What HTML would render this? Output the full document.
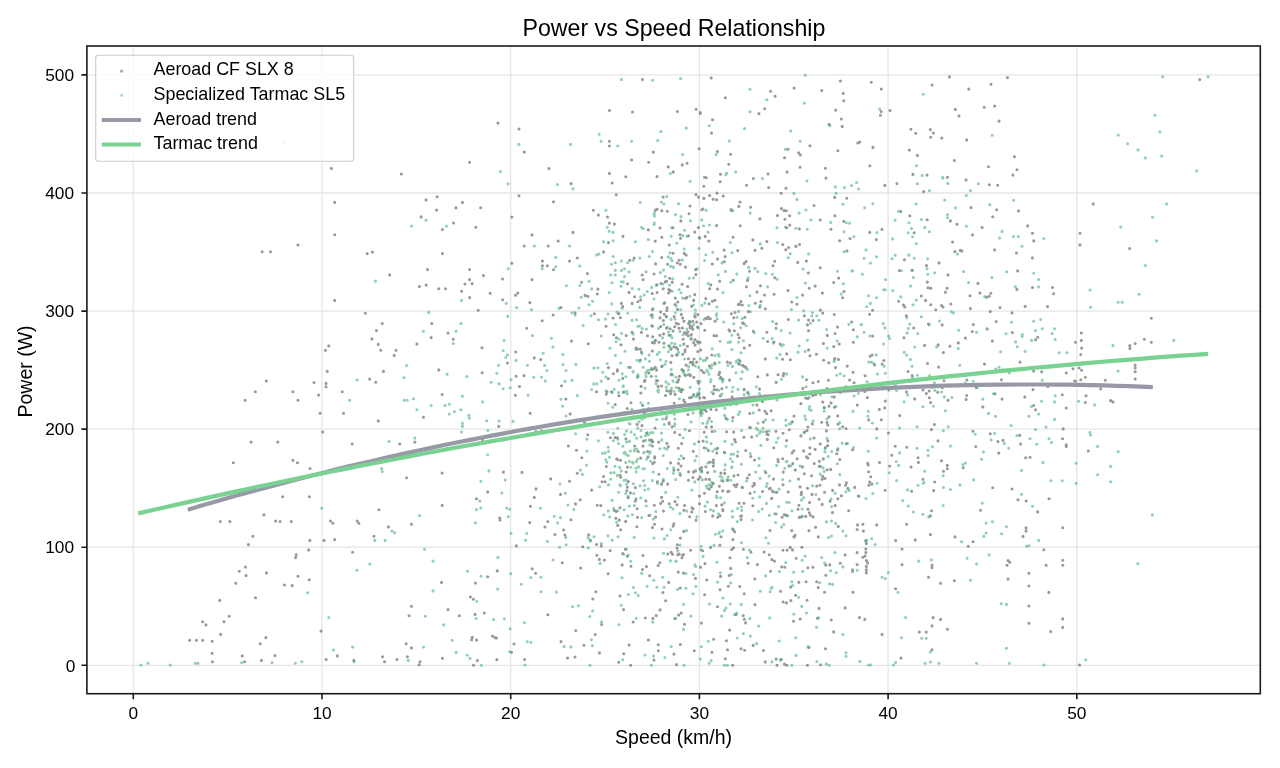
<!DOCTYPE html><html><head><meta charset="utf-8"><style>html,body{margin:0;padding:0;background:#fff;width:1280px;height:768px;overflow:hidden}svg{display:block;will-change:transform}text{font-family:"Liberation Sans",sans-serif;fill:#000}</style></head><body><svg width="1280" height="768" viewBox="0 0 1280 768"><defs><filter id="bl" x="0" y="0" width="1280" height="768" filterUnits="userSpaceOnUse"><feGaussianBlur stdDeviation="0.45"/></filter></defs><path d="M133.3 46.0V693.7M322.0 46.0V693.7M510.7 46.0V693.7M699.4 46.0V693.7M888.1 46.0V693.7M1076.8 46.0V693.7M86.9 665.3H1260.3M86.9 547.2H1260.3M86.9 429.1H1260.3M86.9 311.1H1260.3M86.9 193.0H1260.3M86.9 74.9H1260.3" stroke="#e6e6e6" stroke-width="1.3" fill="none"/><path d="M329.8 168.4a1.55 1.55 0 1 0 3.1 0a1.55 1.55 0 1 0 -3.1 0M399.8 174.0a1.55 1.55 0 1 0 3.1 0a1.55 1.55 0 1 0 -3.1 0M333.2 202.4a1.55 1.55 0 1 0 3.1 0a1.55 1.55 0 1 0 -3.1 0M424.5 199.9a1.55 1.55 0 1 0 3.1 0a1.55 1.55 0 1 0 -3.1 0M435.6 196.8a1.55 1.55 0 1 0 3.1 0a1.55 1.55 0 1 0 -3.1 0M435.0 210.1a1.55 1.55 0 1 0 3.1 0a1.55 1.55 0 1 0 -3.1 0M454.4 207.9a1.55 1.55 0 1 0 3.1 0a1.55 1.55 0 1 0 -3.1 0M460.9 202.4a1.55 1.55 0 1 0 3.1 0a1.55 1.55 0 1 0 -3.1 0M419.6 216.9a1.55 1.55 0 1 0 3.1 0a1.55 1.55 0 1 0 -3.1 0M452.0 223.0a1.55 1.55 0 1 0 3.1 0a1.55 1.55 0 1 0 -3.1 0M440.9 229.5a1.55 1.55 0 1 0 3.1 0a1.55 1.55 0 1 0 -3.1 0M333.2 234.8a1.55 1.55 0 1 0 3.1 0a1.55 1.55 0 1 0 -3.1 0M260.6 251.7a1.55 1.55 0 1 0 3.1 0a1.55 1.55 0 1 0 -3.1 0M269.0 251.7a1.55 1.55 0 1 0 3.1 0a1.55 1.55 0 1 0 -3.1 0M296.4 245.0a1.55 1.55 0 1 0 3.1 0a1.55 1.55 0 1 0 -3.1 0M365.6 253.6a1.55 1.55 0 1 0 3.1 0a1.55 1.55 0 1 0 -3.1 0M370.8 252.1a1.55 1.55 0 1 0 3.1 0a1.55 1.55 0 1 0 -3.1 0M440.9 253.6a1.55 1.55 0 1 0 3.1 0a1.55 1.55 0 1 0 -3.1 0M426.0 269.6a1.55 1.55 0 1 0 3.1 0a1.55 1.55 0 1 0 -3.1 0M388.1 274.9a1.55 1.55 0 1 0 3.1 0a1.55 1.55 0 1 0 -3.1 0M333.1 300.4a1.55 1.55 0 1 0 3.1 0a1.55 1.55 0 1 0 -3.1 0M417.9 286.6a1.55 1.55 0 1 0 3.1 0a1.55 1.55 0 1 0 -3.1 0M424.6 285.1a1.55 1.55 0 1 0 3.1 0a1.55 1.55 0 1 0 -3.1 0M437.2 288.8a1.55 1.55 0 1 0 3.1 0a1.55 1.55 0 1 0 -3.1 0M444.0 288.8a1.55 1.55 0 1 0 3.1 0a1.55 1.55 0 1 0 -3.1 0M460.0 291.2a1.55 1.55 0 1 0 3.1 0a1.55 1.55 0 1 0 -3.1 0M363.8 313.3a1.55 1.55 0 1 0 3.1 0a1.55 1.55 0 1 0 -3.1 0M380.7 323.5a1.55 1.55 0 1 0 3.1 0a1.55 1.55 0 1 0 -3.1 0M374.9 330.6a1.55 1.55 0 1 0 3.1 0a1.55 1.55 0 1 0 -3.1 0M370.3 338.9a1.55 1.55 0 1 0 3.1 0a1.55 1.55 0 1 0 -3.1 0M376.7 344.4a1.55 1.55 0 1 0 3.1 0a1.55 1.55 0 1 0 -3.1 0M379.2 350.2a1.55 1.55 0 1 0 3.1 0a1.55 1.55 0 1 0 -3.1 0M415.4 344.1a1.55 1.55 0 1 0 3.1 0a1.55 1.55 0 1 0 -3.1 0M430.2 323.5a1.55 1.55 0 1 0 3.1 0a1.55 1.55 0 1 0 -3.1 0M429.6 337.6a1.55 1.55 0 1 0 3.1 0a1.55 1.55 0 1 0 -3.1 0M446.5 333.0a1.55 1.55 0 1 0 3.1 0a1.55 1.55 0 1 0 -3.1 0M451.7 339.2a1.55 1.55 0 1 0 3.1 0a1.55 1.55 0 1 0 -3.1 0M323.8 350.2a1.55 1.55 0 1 0 3.1 0a1.55 1.55 0 1 0 -3.1 0M327.2 345.9a1.55 1.55 0 1 0 3.1 0a1.55 1.55 0 1 0 -3.1 0M394.5 350.2a1.55 1.55 0 1 0 3.1 0a1.55 1.55 0 1 0 -3.1 0M392.7 355.4a1.55 1.55 0 1 0 3.1 0a1.55 1.55 0 1 0 -3.1 0M325.7 371.4a1.55 1.55 0 1 0 3.1 0a1.55 1.55 0 1 0 -3.1 0M381.9 371.4a1.55 1.55 0 1 0 3.1 0a1.55 1.55 0 1 0 -3.1 0M264.8 381.0a1.55 1.55 0 1 0 3.1 0a1.55 1.55 0 1 0 -3.1 0M253.8 391.7a1.55 1.55 0 1 0 3.1 0a1.55 1.55 0 1 0 -3.1 0M243.6 400.3a1.55 1.55 0 1 0 3.1 0a1.55 1.55 0 1 0 -3.1 0M291.3 391.7a1.55 1.55 0 1 0 3.1 0a1.55 1.55 0 1 0 -3.1 0M296.5 400.3a1.55 1.55 0 1 0 3.1 0a1.55 1.55 0 1 0 -3.1 0M312.5 382.5a1.55 1.55 0 1 0 3.1 0a1.55 1.55 0 1 0 -3.1 0M324.5 383.4a1.55 1.55 0 1 0 3.1 0a1.55 1.55 0 1 0 -3.1 0M324.5 386.8a1.55 1.55 0 1 0 3.1 0a1.55 1.55 0 1 0 -3.1 0M317.1 395.1a1.55 1.55 0 1 0 3.1 0a1.55 1.55 0 1 0 -3.1 0M340.7 391.7a1.55 1.55 0 1 0 3.1 0a1.55 1.55 0 1 0 -3.1 0M368.1 379.1a1.55 1.55 0 1 0 3.1 0a1.55 1.55 0 1 0 -3.1 0M374.2 382.2a1.55 1.55 0 1 0 3.1 0a1.55 1.55 0 1 0 -3.1 0M437.2 369.9a1.55 1.55 0 1 0 3.1 0a1.55 1.55 0 1 0 -3.1 0M440.6 394.5a1.55 1.55 0 1 0 3.1 0a1.55 1.55 0 1 0 -3.1 0M342.0 413.2a1.55 1.55 0 1 0 3.1 0a1.55 1.55 0 1 0 -3.1 0M318.6 413.2a1.55 1.55 0 1 0 3.1 0a1.55 1.55 0 1 0 -3.1 0M376.7 420.9a1.55 1.55 0 1 0 3.1 0a1.55 1.55 0 1 0 -3.1 0M421.9 417.2a1.55 1.55 0 1 0 3.1 0a1.55 1.55 0 1 0 -3.1 0M321.1 432.0a1.55 1.55 0 1 0 3.1 0a1.55 1.55 0 1 0 -3.1 0M249.5 442.1a1.55 1.55 0 1 0 3.1 0a1.55 1.55 0 1 0 -3.1 0M276.2 442.1a1.55 1.55 0 1 0 3.1 0a1.55 1.55 0 1 0 -3.1 0M350.6 444.0a1.55 1.55 0 1 0 3.1 0a1.55 1.55 0 1 0 -3.1 0M398.2 444.0a1.55 1.55 0 1 0 3.1 0a1.55 1.55 0 1 0 -3.1 0M413.3 442.1a1.55 1.55 0 1 0 3.1 0a1.55 1.55 0 1 0 -3.1 0M231.7 462.7a1.55 1.55 0 1 0 3.1 0a1.55 1.55 0 1 0 -3.1 0M291.3 460.2a1.55 1.55 0 1 0 3.1 0a1.55 1.55 0 1 0 -3.1 0M295.9 462.7a1.55 1.55 0 1 0 3.1 0a1.55 1.55 0 1 0 -3.1 0M308.5 468.5a1.55 1.55 0 1 0 3.1 0a1.55 1.55 0 1 0 -3.1 0M405.0 477.8a1.55 1.55 0 1 0 3.1 0a1.55 1.55 0 1 0 -3.1 0M440.6 473.1a1.55 1.55 0 1 0 3.1 0a1.55 1.55 0 1 0 -3.1 0M281.1 496.8a1.55 1.55 0 1 0 3.1 0a1.55 1.55 0 1 0 -3.1 0M307.9 496.8a1.55 1.55 0 1 0 3.1 0a1.55 1.55 0 1 0 -3.1 0M262.4 514.9a1.55 1.55 0 1 0 3.1 0a1.55 1.55 0 1 0 -3.1 0M377.3 509.7a1.55 1.55 0 1 0 3.1 0a1.55 1.55 0 1 0 -3.1 0M440.6 505.4a1.55 1.55 0 1 0 3.1 0a1.55 1.55 0 1 0 -3.1 0M218.8 521.5a1.55 1.55 0 1 0 3.1 0a1.55 1.55 0 1 0 -3.1 0M228.3 521.5a1.55 1.55 0 1 0 3.1 0a1.55 1.55 0 1 0 -3.1 0M274.1 521.0a1.55 1.55 0 1 0 3.1 0a1.55 1.55 0 1 0 -3.1 0M278.5 521.5a1.55 1.55 0 1 0 3.1 0a1.55 1.55 0 1 0 -3.1 0M289.7 521.5a1.55 1.55 0 1 0 3.1 0a1.55 1.55 0 1 0 -3.1 0M329.0 521.0a1.55 1.55 0 1 0 3.1 0a1.55 1.55 0 1 0 -3.1 0M331.3 523.3a1.55 1.55 0 1 0 3.1 0a1.55 1.55 0 1 0 -3.1 0M355.6 521.0a1.55 1.55 0 1 0 3.1 0a1.55 1.55 0 1 0 -3.1 0M357.3 523.3a1.55 1.55 0 1 0 3.1 0a1.55 1.55 0 1 0 -3.1 0M386.9 526.9a1.55 1.55 0 1 0 3.1 0a1.55 1.55 0 1 0 -3.1 0M409.9 524.2a1.55 1.55 0 1 0 3.1 0a1.55 1.55 0 1 0 -3.1 0M251.3 536.3a1.55 1.55 0 1 0 3.1 0a1.55 1.55 0 1 0 -3.1 0M246.9 544.6a1.55 1.55 0 1 0 3.1 0a1.55 1.55 0 1 0 -3.1 0M308.3 540.4a1.55 1.55 0 1 0 3.1 0a1.55 1.55 0 1 0 -3.1 0M322.5 540.4a1.55 1.55 0 1 0 3.1 0a1.55 1.55 0 1 0 -3.1 0M333.1 539.6a1.55 1.55 0 1 0 3.1 0a1.55 1.55 0 1 0 -3.1 0M372.4 536.3a1.55 1.55 0 1 0 3.1 0a1.55 1.55 0 1 0 -3.1 0M307.1 549.9a1.55 1.55 0 1 0 3.1 0a1.55 1.55 0 1 0 -3.1 0M294.7 554.9a1.55 1.55 0 1 0 3.1 0a1.55 1.55 0 1 0 -3.1 0M294.1 557.6a1.55 1.55 0 1 0 3.1 0a1.55 1.55 0 1 0 -3.1 0M351.1 552.3a1.55 1.55 0 1 0 3.1 0a1.55 1.55 0 1 0 -3.1 0M237.7 571.2a1.55 1.55 0 1 0 3.1 0a1.55 1.55 0 1 0 -3.1 0M243.9 567.0a1.55 1.55 0 1 0 3.1 0a1.55 1.55 0 1 0 -3.1 0M244.5 575.6a1.55 1.55 0 1 0 3.1 0a1.55 1.55 0 1 0 -3.1 0M264.9 572.9a1.55 1.55 0 1 0 3.1 0a1.55 1.55 0 1 0 -3.1 0M296.5 576.2a1.55 1.55 0 1 0 3.1 0a1.55 1.55 0 1 0 -3.1 0M307.7 579.7a1.55 1.55 0 1 0 3.1 0a1.55 1.55 0 1 0 -3.1 0M234.2 583.3a1.55 1.55 0 1 0 3.1 0a1.55 1.55 0 1 0 -3.1 0M282.9 585.0a1.55 1.55 0 1 0 3.1 0a1.55 1.55 0 1 0 -3.1 0M290.6 585.6a1.55 1.55 0 1 0 3.1 0a1.55 1.55 0 1 0 -3.1 0M440.0 582.4a1.55 1.55 0 1 0 3.1 0a1.55 1.55 0 1 0 -3.1 0M218.2 600.4a1.55 1.55 0 1 0 3.1 0a1.55 1.55 0 1 0 -3.1 0M254.0 597.7a1.55 1.55 0 1 0 3.1 0a1.55 1.55 0 1 0 -3.1 0M409.9 606.3a1.55 1.55 0 1 0 3.1 0a1.55 1.55 0 1 0 -3.1 0M446.5 609.6a1.55 1.55 0 1 0 3.1 0a1.55 1.55 0 1 0 -3.1 0M457.8 615.8a1.55 1.55 0 1 0 3.1 0a1.55 1.55 0 1 0 -3.1 0M227.7 616.3a1.55 1.55 0 1 0 3.1 0a1.55 1.55 0 1 0 -3.1 0M222.4 621.7a1.55 1.55 0 1 0 3.1 0a1.55 1.55 0 1 0 -3.1 0M201.1 621.7a1.55 1.55 0 1 0 3.1 0a1.55 1.55 0 1 0 -3.1 0M204.4 624.9a1.55 1.55 0 1 0 3.1 0a1.55 1.55 0 1 0 -3.1 0M407.5 615.8a1.55 1.55 0 1 0 3.1 0a1.55 1.55 0 1 0 -3.1 0M319.5 631.1a1.55 1.55 0 1 0 3.1 0a1.55 1.55 0 1 0 -3.1 0M219.1 634.4a1.55 1.55 0 1 0 3.1 0a1.55 1.55 0 1 0 -3.1 0M188.1 640.3a1.55 1.55 0 1 0 3.1 0a1.55 1.55 0 1 0 -3.1 0M194.9 640.3a1.55 1.55 0 1 0 3.1 0a1.55 1.55 0 1 0 -3.1 0M201.1 640.3a1.55 1.55 0 1 0 3.1 0a1.55 1.55 0 1 0 -3.1 0M210.6 641.2a1.55 1.55 0 1 0 3.1 0a1.55 1.55 0 1 0 -3.1 0M264.3 637.6a1.55 1.55 0 1 0 3.1 0a1.55 1.55 0 1 0 -3.1 0M258.7 643.8a1.55 1.55 0 1 0 3.1 0a1.55 1.55 0 1 0 -3.1 0M404.6 643.8a1.55 1.55 0 1 0 3.1 0a1.55 1.55 0 1 0 -3.1 0M409.9 647.9a1.55 1.55 0 1 0 3.1 0a1.55 1.55 0 1 0 -3.1 0M210.6 653.3a1.55 1.55 0 1 0 3.1 0a1.55 1.55 0 1 0 -3.1 0M240.7 655.9a1.55 1.55 0 1 0 3.1 0a1.55 1.55 0 1 0 -3.1 0M273.5 655.6a1.55 1.55 0 1 0 3.1 0a1.55 1.55 0 1 0 -3.1 0M335.8 655.9a1.55 1.55 0 1 0 3.1 0a1.55 1.55 0 1 0 -3.1 0M381.0 656.8a1.55 1.55 0 1 0 3.1 0a1.55 1.55 0 1 0 -3.1 0M405.8 656.8a1.55 1.55 0 1 0 3.1 0a1.55 1.55 0 1 0 -3.1 0M324.6 659.5a1.55 1.55 0 1 0 3.1 0a1.55 1.55 0 1 0 -3.1 0M259.9 660.4a1.55 1.55 0 1 0 3.1 0a1.55 1.55 0 1 0 -3.1 0M210.9 661.8a1.55 1.55 0 1 0 3.1 0a1.55 1.55 0 1 0 -3.1 0M243.0 661.8a1.55 1.55 0 1 0 3.1 0a1.55 1.55 0 1 0 -3.1 0M383.0 661.8a1.55 1.55 0 1 0 3.1 0a1.55 1.55 0 1 0 -3.1 0M395.4 659.5a1.55 1.55 0 1 0 3.1 0a1.55 1.55 0 1 0 -3.1 0M352.3 660.4a1.55 1.55 0 1 0 3.1 0a1.55 1.55 0 1 0 -3.1 0M418.5 661.8a1.55 1.55 0 1 0 3.1 0a1.55 1.55 0 1 0 -3.1 0M417.6 664.8a1.55 1.55 0 1 0 3.1 0a1.55 1.55 0 1 0 -3.1 0M440.9 658.3a1.55 1.55 0 1 0 3.1 0a1.55 1.55 0 1 0 -3.1 0M640.9 79.6a1.55 1.55 0 1 0 3.1 0a1.55 1.55 0 1 0 -3.1 0M607.9 110.5a1.55 1.55 0 1 0 3.1 0a1.55 1.55 0 1 0 -3.1 0M631.0 112.0a1.55 1.55 0 1 0 3.1 0a1.55 1.55 0 1 0 -3.1 0M496.4 123.1a1.55 1.55 0 1 0 3.1 0a1.55 1.55 0 1 0 -3.1 0M517.4 129.0a1.55 1.55 0 1 0 3.1 0a1.55 1.55 0 1 0 -3.1 0M607.9 141.3a1.55 1.55 0 1 0 3.1 0a1.55 1.55 0 1 0 -3.1 0M607.9 146.0a1.55 1.55 0 1 0 3.1 0a1.55 1.55 0 1 0 -3.1 0M522.7 152.1a1.55 1.55 0 1 0 3.1 0a1.55 1.55 0 1 0 -3.1 0M630.1 159.9a1.55 1.55 0 1 0 3.1 0a1.55 1.55 0 1 0 -3.1 0M647.1 162.3a1.55 1.55 0 1 0 3.1 0a1.55 1.55 0 1 0 -3.1 0M468.0 162.3a1.55 1.55 0 1 0 3.1 0a1.55 1.55 0 1 0 -3.1 0M547.4 168.5a1.55 1.55 0 1 0 3.1 0a1.55 1.55 0 1 0 -3.1 0M607.9 173.4a1.55 1.55 0 1 0 3.1 0a1.55 1.55 0 1 0 -3.1 0M624.2 176.8a1.55 1.55 0 1 0 3.1 0a1.55 1.55 0 1 0 -3.1 0M610.6 183.0a1.55 1.55 0 1 0 3.1 0a1.55 1.55 0 1 0 -3.1 0M569.6 183.6a1.55 1.55 0 1 0 3.1 0a1.55 1.55 0 1 0 -3.1 0M517.4 195.7a1.55 1.55 0 1 0 3.1 0a1.55 1.55 0 1 0 -3.1 0M614.7 194.7a1.55 1.55 0 1 0 3.1 0a1.55 1.55 0 1 0 -3.1 0M552.0 201.8a1.55 1.55 0 1 0 3.1 0a1.55 1.55 0 1 0 -3.1 0M479.1 207.7a1.55 1.55 0 1 0 3.1 0a1.55 1.55 0 1 0 -3.1 0M591.8 210.2a1.55 1.55 0 1 0 3.1 0a1.55 1.55 0 1 0 -3.1 0M596.8 215.1a1.55 1.55 0 1 0 3.1 0a1.55 1.55 0 1 0 -3.1 0M606.0 217.0a1.55 1.55 0 1 0 3.1 0a1.55 1.55 0 1 0 -3.1 0M510.3 217.0a1.55 1.55 0 1 0 3.1 0a1.55 1.55 0 1 0 -3.1 0M607.9 223.1a1.55 1.55 0 1 0 3.1 0a1.55 1.55 0 1 0 -3.1 0M612.8 224.1a1.55 1.55 0 1 0 3.1 0a1.55 1.55 0 1 0 -3.1 0M474.2 227.2a1.55 1.55 0 1 0 3.1 0a1.55 1.55 0 1 0 -3.1 0M646.8 229.9a1.55 1.55 0 1 0 3.1 0a1.55 1.55 0 1 0 -3.1 0M530.4 234.9a1.55 1.55 0 1 0 3.1 0a1.55 1.55 0 1 0 -3.1 0M571.4 232.4a1.55 1.55 0 1 0 3.1 0a1.55 1.55 0 1 0 -3.1 0M556.6 241.0a1.55 1.55 0 1 0 3.1 0a1.55 1.55 0 1 0 -3.1 0M621.4 236.4a1.55 1.55 0 1 0 3.1 0a1.55 1.55 0 1 0 -3.1 0M522.7 246.0a1.55 1.55 0 1 0 3.1 0a1.55 1.55 0 1 0 -3.1 0M546.7 246.0a1.55 1.55 0 1 0 3.1 0a1.55 1.55 0 1 0 -3.1 0M606.9 242.6a1.55 1.55 0 1 0 3.1 0a1.55 1.55 0 1 0 -3.1 0M602.0 251.9a1.55 1.55 0 1 0 3.1 0a1.55 1.55 0 1 0 -3.1 0M575.8 258.0a1.55 1.55 0 1 0 3.1 0a1.55 1.55 0 1 0 -3.1 0M540.9 261.1a1.55 1.55 0 1 0 3.1 0a1.55 1.55 0 1 0 -3.1 0M540.9 265.7a1.55 1.55 0 1 0 3.1 0a1.55 1.55 0 1 0 -3.1 0M545.8 265.7a1.55 1.55 0 1 0 3.1 0a1.55 1.55 0 1 0 -3.1 0M510.3 263.3a1.55 1.55 0 1 0 3.1 0a1.55 1.55 0 1 0 -3.1 0M568.0 261.1a1.55 1.55 0 1 0 3.1 0a1.55 1.55 0 1 0 -3.1 0M552.0 269.8a1.55 1.55 0 1 0 3.1 0a1.55 1.55 0 1 0 -3.1 0M468.0 269.5a1.55 1.55 0 1 0 3.1 0a1.55 1.55 0 1 0 -3.1 0M481.9 275.6a1.55 1.55 0 1 0 3.1 0a1.55 1.55 0 1 0 -3.1 0M501.0 279.0a1.55 1.55 0 1 0 3.1 0a1.55 1.55 0 1 0 -3.1 0M468.0 279.6a1.55 1.55 0 1 0 3.1 0a1.55 1.55 0 1 0 -3.1 0M530.4 279.6a1.55 1.55 0 1 0 3.1 0a1.55 1.55 0 1 0 -3.1 0M585.9 273.5a1.55 1.55 0 1 0 3.1 0a1.55 1.55 0 1 0 -3.1 0M628.2 260.2a1.55 1.55 0 1 0 3.1 0a1.55 1.55 0 1 0 -3.1 0M632.6 258.0a1.55 1.55 0 1 0 3.1 0a1.55 1.55 0 1 0 -3.1 0M640.6 275.0a1.55 1.55 0 1 0 3.1 0a1.55 1.55 0 1 0 -3.1 0M641.5 279.6a1.55 1.55 0 1 0 3.1 0a1.55 1.55 0 1 0 -3.1 0M1198.2 79.6a1.55 1.55 0 1 0 3.1 0a1.55 1.55 0 1 0 -3.1 0M1091.7 203.9a1.55 1.55 0 1 0 3.1 0a1.55 1.55 0 1 0 -3.1 0M1078.4 233.2a1.55 1.55 0 1 0 3.1 0a1.55 1.55 0 1 0 -3.1 0M1078.4 244.9a1.55 1.55 0 1 0 3.1 0a1.55 1.55 0 1 0 -3.1 0M1128.1 248.6a1.55 1.55 0 1 0 3.1 0a1.55 1.55 0 1 0 -3.1 0M1030.9 233.2a1.55 1.55 0 1 0 3.1 0a1.55 1.55 0 1 0 -3.1 0M1032.2 240.9a1.55 1.55 0 1 0 3.1 0a1.55 1.55 0 1 0 -3.1 0M1030.9 257.9a1.55 1.55 0 1 0 3.1 0a1.55 1.55 0 1 0 -3.1 0M1030.9 287.5a1.55 1.55 0 1 0 3.1 0a1.55 1.55 0 1 0 -3.1 0M1050.9 287.5a1.55 1.55 0 1 0 3.1 0a1.55 1.55 0 1 0 -3.1 0M1052.1 293.7a1.55 1.55 0 1 0 3.1 0a1.55 1.55 0 1 0 -3.1 0M1046.0 306.6a1.55 1.55 0 1 0 3.1 0a1.55 1.55 0 1 0 -3.1 0M1149.8 318.3a1.55 1.55 0 1 0 3.1 0a1.55 1.55 0 1 0 -3.1 0M1036.1 337.3a1.55 1.55 0 1 0 3.1 0a1.55 1.55 0 1 0 -3.1 0M1034.0 339.8a1.55 1.55 0 1 0 3.1 0a1.55 1.55 0 1 0 -3.1 0M1079.8 333.0a1.55 1.55 0 1 0 3.1 0a1.55 1.55 0 1 0 -3.1 0M1079.8 340.4a1.55 1.55 0 1 0 3.1 0a1.55 1.55 0 1 0 -3.1 0M1073.9 342.2a1.55 1.55 0 1 0 3.1 0a1.55 1.55 0 1 0 -3.1 0M1080.1 348.1a1.55 1.55 0 1 0 3.1 0a1.55 1.55 0 1 0 -3.1 0M1079.2 354.5a1.55 1.55 0 1 0 3.1 0a1.55 1.55 0 1 0 -3.1 0M1128.3 345.6a1.55 1.55 0 1 0 3.1 0a1.55 1.55 0 1 0 -3.1 0M1128.3 348.4a1.55 1.55 0 1 0 3.1 0a1.55 1.55 0 1 0 -3.1 0M1133.6 343.5a1.55 1.55 0 1 0 3.1 0a1.55 1.55 0 1 0 -3.1 0M1142.8 339.2a1.55 1.55 0 1 0 3.1 0a1.55 1.55 0 1 0 -3.1 0M1149.8 342.2a1.55 1.55 0 1 0 3.1 0a1.55 1.55 0 1 0 -3.1 0M1071.5 368.7a1.55 1.55 0 1 0 3.1 0a1.55 1.55 0 1 0 -3.1 0M1077.6 368.0a1.55 1.55 0 1 0 3.1 0a1.55 1.55 0 1 0 -3.1 0M1080.1 370.2a1.55 1.55 0 1 0 3.1 0a1.55 1.55 0 1 0 -3.1 0M1064.7 373.0a1.55 1.55 0 1 0 3.1 0a1.55 1.55 0 1 0 -3.1 0M1040.1 371.7a1.55 1.55 0 1 0 3.1 0a1.55 1.55 0 1 0 -3.1 0M1032.1 371.1a1.55 1.55 0 1 0 3.1 0a1.55 1.55 0 1 0 -3.1 0M1083.8 377.3a1.55 1.55 0 1 0 3.1 0a1.55 1.55 0 1 0 -3.1 0M1079.2 379.7a1.55 1.55 0 1 0 3.1 0a1.55 1.55 0 1 0 -3.1 0M1073.9 381.0a1.55 1.55 0 1 0 3.1 0a1.55 1.55 0 1 0 -3.1 0M1103.7 380.3a1.55 1.55 0 1 0 3.1 0a1.55 1.55 0 1 0 -3.1 0M1133.6 365.0a1.55 1.55 0 1 0 3.1 0a1.55 1.55 0 1 0 -3.1 0M1133.6 368.0a1.55 1.55 0 1 0 3.1 0a1.55 1.55 0 1 0 -3.1 0M1133.6 371.7a1.55 1.55 0 1 0 3.1 0a1.55 1.55 0 1 0 -3.1 0M1133.6 379.1a1.55 1.55 0 1 0 3.1 0a1.55 1.55 0 1 0 -3.1 0M1099.1 388.9a1.55 1.55 0 1 0 3.1 0a1.55 1.55 0 1 0 -3.1 0M1031.5 389.6a1.55 1.55 0 1 0 3.1 0a1.55 1.55 0 1 0 -3.1 0M1046.3 386.5a1.55 1.55 0 1 0 3.1 0a1.55 1.55 0 1 0 -3.1 0M1060.7 394.8a1.55 1.55 0 1 0 3.1 0a1.55 1.55 0 1 0 -3.1 0M1084.4 395.7a1.55 1.55 0 1 0 3.1 0a1.55 1.55 0 1 0 -3.1 0M1083.8 402.5a1.55 1.55 0 1 0 3.1 0a1.55 1.55 0 1 0 -3.1 0M1109.0 400.6a1.55 1.55 0 1 0 3.1 0a1.55 1.55 0 1 0 -3.1 0M1111.4 401.9a1.55 1.55 0 1 0 3.1 0a1.55 1.55 0 1 0 -3.1 0M1064.7 408.0a1.55 1.55 0 1 0 3.1 0a1.55 1.55 0 1 0 -3.1 0M1032.1 405.5a1.55 1.55 0 1 0 3.1 0a1.55 1.55 0 1 0 -3.1 0M1034.0 409.8a1.55 1.55 0 1 0 3.1 0a1.55 1.55 0 1 0 -3.1 0M1061.6 428.9a1.55 1.55 0 1 0 3.1 0a1.55 1.55 0 1 0 -3.1 0M1061.0 438.7a1.55 1.55 0 1 0 3.1 0a1.55 1.55 0 1 0 -3.1 0M1064.7 444.9a1.55 1.55 0 1 0 3.1 0a1.55 1.55 0 1 0 -3.1 0M1064.7 446.4a1.55 1.55 0 1 0 3.1 0a1.55 1.55 0 1 0 -3.1 0M1086.8 451.0a1.55 1.55 0 1 0 3.1 0a1.55 1.55 0 1 0 -3.1 0M1028.5 457.2a1.55 1.55 0 1 0 3.1 0a1.55 1.55 0 1 0 -3.1 0M1047.5 498.7a1.55 1.55 0 1 0 3.1 0a1.55 1.55 0 1 0 -3.1 0M1036.1 511.9a1.55 1.55 0 1 0 3.1 0a1.55 1.55 0 1 0 -3.1 0M1073.0 381.0a1.55 1.55 0 1 0 3.1 0a1.55 1.55 0 1 0 -3.1 0M856.0 524.9a1.55 1.55 0 1 0 3.1 0a1.55 1.55 0 1 0 -3.1 0M861.3 524.2a1.55 1.55 0 1 0 3.1 0a1.55 1.55 0 1 0 -3.1 0M875.2 524.9a1.55 1.55 0 1 0 3.1 0a1.55 1.55 0 1 0 -3.1 0M855.6 529.5a1.55 1.55 0 1 0 3.1 0a1.55 1.55 0 1 0 -3.1 0M861.8 531.1a1.55 1.55 0 1 0 3.1 0a1.55 1.55 0 1 0 -3.1 0M905.1 524.2a1.55 1.55 0 1 0 3.1 0a1.55 1.55 0 1 0 -3.1 0M928.9 534.6a1.55 1.55 0 1 0 3.1 0a1.55 1.55 0 1 0 -3.1 0M894.1 540.6a1.55 1.55 0 1 0 3.1 0a1.55 1.55 0 1 0 -3.1 0M913.7 539.9a1.55 1.55 0 1 0 3.1 0a1.55 1.55 0 1 0 -3.1 0M953.5 536.9a1.55 1.55 0 1 0 3.1 0a1.55 1.55 0 1 0 -3.1 0M966.7 546.3a1.55 1.55 0 1 0 3.1 0a1.55 1.55 0 1 0 -3.1 0M971.5 541.7a1.55 1.55 0 1 0 3.1 0a1.55 1.55 0 1 0 -3.1 0M900.5 549.1a1.55 1.55 0 1 0 3.1 0a1.55 1.55 0 1 0 -3.1 0M864.8 540.4a1.55 1.55 0 1 0 3.1 0a1.55 1.55 0 1 0 -3.1 0M864.8 543.4a1.55 1.55 0 1 0 3.1 0a1.55 1.55 0 1 0 -3.1 0M864.3 549.1a1.55 1.55 0 1 0 3.1 0a1.55 1.55 0 1 0 -3.1 0M864.3 552.6a1.55 1.55 0 1 0 3.1 0a1.55 1.55 0 1 0 -3.1 0M863.6 556.0a1.55 1.55 0 1 0 3.1 0a1.55 1.55 0 1 0 -3.1 0M864.8 560.6a1.55 1.55 0 1 0 3.1 0a1.55 1.55 0 1 0 -3.1 0M866.0 562.9a1.55 1.55 0 1 0 3.1 0a1.55 1.55 0 1 0 -3.1 0M864.8 566.4a1.55 1.55 0 1 0 3.1 0a1.55 1.55 0 1 0 -3.1 0M864.8 569.9a1.55 1.55 0 1 0 3.1 0a1.55 1.55 0 1 0 -3.1 0M864.8 572.9a1.55 1.55 0 1 0 3.1 0a1.55 1.55 0 1 0 -3.1 0M861.3 557.2a1.55 1.55 0 1 0 3.1 0a1.55 1.55 0 1 0 -3.1 0M855.6 552.6a1.55 1.55 0 1 0 3.1 0a1.55 1.55 0 1 0 -3.1 0M843.6 554.9a1.55 1.55 0 1 0 3.1 0a1.55 1.55 0 1 0 -3.1 0M855.6 564.6a1.55 1.55 0 1 0 3.1 0a1.55 1.55 0 1 0 -3.1 0M851.0 569.9a1.55 1.55 0 1 0 3.1 0a1.55 1.55 0 1 0 -3.1 0M851.0 571.5a1.55 1.55 0 1 0 3.1 0a1.55 1.55 0 1 0 -3.1 0M900.5 564.6a1.55 1.55 0 1 0 3.1 0a1.55 1.55 0 1 0 -3.1 0M930.5 565.2a1.55 1.55 0 1 0 3.1 0a1.55 1.55 0 1 0 -3.1 0M930.5 567.6a1.55 1.55 0 1 0 3.1 0a1.55 1.55 0 1 0 -3.1 0M927.0 577.2a1.55 1.55 0 1 0 3.1 0a1.55 1.55 0 1 0 -3.1 0M939.0 583.2a1.55 1.55 0 1 0 3.1 0a1.55 1.55 0 1 0 -3.1 0M952.8 580.7a1.55 1.55 0 1 0 3.1 0a1.55 1.55 0 1 0 -3.1 0M1006.5 560.6a1.55 1.55 0 1 0 3.1 0a1.55 1.55 0 1 0 -3.1 0M1008.2 562.2a1.55 1.55 0 1 0 3.1 0a1.55 1.55 0 1 0 -3.1 0M1005.4 565.2a1.55 1.55 0 1 0 3.1 0a1.55 1.55 0 1 0 -3.1 0M1006.5 579.1a1.55 1.55 0 1 0 3.1 0a1.55 1.55 0 1 0 -3.1 0M1027.3 573.3a1.55 1.55 0 1 0 3.1 0a1.55 1.55 0 1 0 -3.1 0M1027.3 586.0a1.55 1.55 0 1 0 3.1 0a1.55 1.55 0 1 0 -3.1 0M851.4 592.2a1.55 1.55 0 1 0 3.1 0a1.55 1.55 0 1 0 -3.1 0M843.6 607.9a1.55 1.55 0 1 0 3.1 0a1.55 1.55 0 1 0 -3.1 0M894.1 588.8a1.55 1.55 0 1 0 3.1 0a1.55 1.55 0 1 0 -3.1 0M857.9 617.6a1.55 1.55 0 1 0 3.1 0a1.55 1.55 0 1 0 -3.1 0M863.2 619.4a1.55 1.55 0 1 0 3.1 0a1.55 1.55 0 1 0 -3.1 0M880.5 634.4a1.55 1.55 0 1 0 3.1 0a1.55 1.55 0 1 0 -3.1 0M931.6 617.6a1.55 1.55 0 1 0 3.1 0a1.55 1.55 0 1 0 -3.1 0M939.0 619.4a1.55 1.55 0 1 0 3.1 0a1.55 1.55 0 1 0 -3.1 0M930.5 625.9a1.55 1.55 0 1 0 3.1 0a1.55 1.55 0 1 0 -3.1 0M945.9 629.3a1.55 1.55 0 1 0 3.1 0a1.55 1.55 0 1 0 -3.1 0M917.8 632.1a1.55 1.55 0 1 0 3.1 0a1.55 1.55 0 1 0 -3.1 0M924.7 632.1a1.55 1.55 0 1 0 3.1 0a1.55 1.55 0 1 0 -3.1 0M930.5 649.8a1.55 1.55 0 1 0 3.1 0a1.55 1.55 0 1 0 -3.1 0M899.4 658.1a1.55 1.55 0 1 0 3.1 0a1.55 1.55 0 1 0 -3.1 0M1024.5 527.9a1.55 1.55 0 1 0 3.1 0a1.55 1.55 0 1 0 -3.1 0M1024.5 531.1a1.55 1.55 0 1 0 3.1 0a1.55 1.55 0 1 0 -3.1 0M1021.5 536.4a1.55 1.55 0 1 0 3.1 0a1.55 1.55 0 1 0 -3.1 0M1027.3 606.0a1.55 1.55 0 1 0 3.1 0a1.55 1.55 0 1 0 -3.1 0M1027.3 623.3a1.55 1.55 0 1 0 3.1 0a1.55 1.55 0 1 0 -3.1 0M1061.2 527.7a1.55 1.55 0 1 0 3.1 0a1.55 1.55 0 1 0 -3.1 0M1042.3 549.8a1.55 1.55 0 1 0 3.1 0a1.55 1.55 0 1 0 -3.1 0M1061.2 560.2a1.55 1.55 0 1 0 3.1 0a1.55 1.55 0 1 0 -3.1 0M1061.2 565.2a1.55 1.55 0 1 0 3.1 0a1.55 1.55 0 1 0 -3.1 0M1044.6 565.2a1.55 1.55 0 1 0 3.1 0a1.55 1.55 0 1 0 -3.1 0M1047.3 592.4a1.55 1.55 0 1 0 3.1 0a1.55 1.55 0 1 0 -3.1 0M1061.2 618.9a1.55 1.55 0 1 0 3.1 0a1.55 1.55 0 1 0 -3.1 0M1061.2 627.4a1.55 1.55 0 1 0 3.1 0a1.55 1.55 0 1 0 -3.1 0M1049.2 631.6a1.55 1.55 0 1 0 3.1 0a1.55 1.55 0 1 0 -3.1 0M1078.0 665.0a1.55 1.55 0 1 0 3.1 0a1.55 1.55 0 1 0 -3.1 0M709.6 77.9a1.55 1.55 0 1 0 3.1 0a1.55 1.55 0 1 0 -3.1 0M723.8 97.8a1.55 1.55 0 1 0 3.1 0a1.55 1.55 0 1 0 -3.1 0M820.2 90.6a1.55 1.55 0 1 0 3.1 0a1.55 1.55 0 1 0 -3.1 0M773.6 96.2a1.55 1.55 0 1 0 3.1 0a1.55 1.55 0 1 0 -3.1 0M769.0 91.3a1.55 1.55 0 1 0 3.1 0a1.55 1.55 0 1 0 -3.1 0M792.6 88.1a1.55 1.55 0 1 0 3.1 0a1.55 1.55 0 1 0 -3.1 0M838.9 81.0a1.55 1.55 0 1 0 3.1 0a1.55 1.55 0 1 0 -3.1 0M694.6 109.3a1.55 1.55 0 1 0 3.1 0a1.55 1.55 0 1 0 -3.1 0M710.0 133.1a1.55 1.55 0 1 0 3.1 0a1.55 1.55 0 1 0 -3.1 0M697.5 148.8a1.55 1.55 0 1 0 3.1 0a1.55 1.55 0 1 0 -3.1 0M651.8 152.1a1.55 1.55 0 1 0 3.1 0a1.55 1.55 0 1 0 -3.1 0M715.9 151.6a1.55 1.55 0 1 0 3.1 0a1.55 1.55 0 1 0 -3.1 0M685.5 163.2a1.55 1.55 0 1 0 3.1 0a1.55 1.55 0 1 0 -3.1 0M729.0 154.3a1.55 1.55 0 1 0 3.1 0a1.55 1.55 0 1 0 -3.1 0M675.9 111.5a1.55 1.55 0 1 0 3.1 0a1.55 1.55 0 1 0 -3.1 0M698.7 113.4a1.55 1.55 0 1 0 3.1 0a1.55 1.55 0 1 0 -3.1 0M711.0 119.7a1.55 1.55 0 1 0 3.1 0a1.55 1.55 0 1 0 -3.1 0M786.5 149.3a1.55 1.55 0 1 0 3.1 0a1.55 1.55 0 1 0 -3.1 0M783.0 157.8a1.55 1.55 0 1 0 3.1 0a1.55 1.55 0 1 0 -3.1 0M836.3 150.8a1.55 1.55 0 1 0 3.1 0a1.55 1.55 0 1 0 -3.1 0M808.4 145.7a1.55 1.55 0 1 0 3.1 0a1.55 1.55 0 1 0 -3.1 0M827.5 124.4a1.55 1.55 0 1 0 3.1 0a1.55 1.55 0 1 0 -3.1 0M757.4 113.6a1.55 1.55 0 1 0 3.1 0a1.55 1.55 0 1 0 -3.1 0M834.1 110.1a1.55 1.55 0 1 0 3.1 0a1.55 1.55 0 1 0 -3.1 0M798.7 154.9a1.55 1.55 0 1 0 3.1 0a1.55 1.55 0 1 0 -3.1 0M763.2 108.7a1.55 1.55 0 1 0 3.1 0a1.55 1.55 0 1 0 -3.1 0M797.1 152.8a1.55 1.55 0 1 0 3.1 0a1.55 1.55 0 1 0 -3.1 0M869.7 82.2a1.55 1.55 0 1 0 3.1 0a1.55 1.55 0 1 0 -3.1 0M841.7 93.4a1.55 1.55 0 1 0 3.1 0a1.55 1.55 0 1 0 -3.1 0M842.2 100.8a1.55 1.55 0 1 0 3.1 0a1.55 1.55 0 1 0 -3.1 0M930.6 85.0a1.55 1.55 0 1 0 3.1 0a1.55 1.55 0 1 0 -3.1 0M879.7 89.0a1.55 1.55 0 1 0 3.1 0a1.55 1.55 0 1 0 -3.1 0M989.4 84.2a1.55 1.55 0 1 0 3.1 0a1.55 1.55 0 1 0 -3.1 0M967.2 89.1a1.55 1.55 0 1 0 3.1 0a1.55 1.55 0 1 0 -3.1 0M1005.9 77.6a1.55 1.55 0 1 0 3.1 0a1.55 1.55 0 1 0 -3.1 0M947.9 76.9a1.55 1.55 0 1 0 3.1 0a1.55 1.55 0 1 0 -3.1 0M839.8 119.0a1.55 1.55 0 1 0 3.1 0a1.55 1.55 0 1 0 -3.1 0M915.8 155.4a1.55 1.55 0 1 0 3.1 0a1.55 1.55 0 1 0 -3.1 0M878.9 115.3a1.55 1.55 0 1 0 3.1 0a1.55 1.55 0 1 0 -3.1 0M840.7 126.4a1.55 1.55 0 1 0 3.1 0a1.55 1.55 0 1 0 -3.1 0M914.2 133.2a1.55 1.55 0 1 0 3.1 0a1.55 1.55 0 1 0 -3.1 0M907.8 150.1a1.55 1.55 0 1 0 3.1 0a1.55 1.55 0 1 0 -3.1 0M858.1 142.0a1.55 1.55 0 1 0 3.1 0a1.55 1.55 0 1 0 -3.1 0M856.3 143.0a1.55 1.55 0 1 0 3.1 0a1.55 1.55 0 1 0 -3.1 0M928.8 129.6a1.55 1.55 0 1 0 3.1 0a1.55 1.55 0 1 0 -3.1 0M871.4 147.4a1.55 1.55 0 1 0 3.1 0a1.55 1.55 0 1 0 -3.1 0M929.2 137.2a1.55 1.55 0 1 0 3.1 0a1.55 1.55 0 1 0 -3.1 0M931.8 133.0a1.55 1.55 0 1 0 3.1 0a1.55 1.55 0 1 0 -3.1 0M888.5 110.5a1.55 1.55 0 1 0 3.1 0a1.55 1.55 0 1 0 -3.1 0M909.4 129.2a1.55 1.55 0 1 0 3.1 0a1.55 1.55 0 1 0 -3.1 0M879.6 111.6a1.55 1.55 0 1 0 3.1 0a1.55 1.55 0 1 0 -3.1 0M940.2 138.1a1.55 1.55 0 1 0 3.1 0a1.55 1.55 0 1 0 -3.1 0M982.7 107.3a1.55 1.55 0 1 0 3.1 0a1.55 1.55 0 1 0 -3.1 0M957.4 115.9a1.55 1.55 0 1 0 3.1 0a1.55 1.55 0 1 0 -3.1 0M997.5 121.1a1.55 1.55 0 1 0 3.1 0a1.55 1.55 0 1 0 -3.1 0M993.1 106.1a1.55 1.55 0 1 0 3.1 0a1.55 1.55 0 1 0 -3.1 0M965.1 139.9a1.55 1.55 0 1 0 3.1 0a1.55 1.55 0 1 0 -3.1 0M952.8 160.5a1.55 1.55 0 1 0 3.1 0a1.55 1.55 0 1 0 -3.1 0M953.8 109.4a1.55 1.55 0 1 0 3.1 0a1.55 1.55 0 1 0 -3.1 0M1012.9 156.8a1.55 1.55 0 1 0 3.1 0a1.55 1.55 0 1 0 -3.1 0M895.4 183.6a1.55 1.55 0 1 0 3.1 0a1.55 1.55 0 1 0 -3.1 0M868.3 165.7a1.55 1.55 0 1 0 3.1 0a1.55 1.55 0 1 0 -3.1 0M883.3 185.4a1.55 1.55 0 1 0 3.1 0a1.55 1.55 0 1 0 -3.1 0M899.3 211.6a1.55 1.55 0 1 0 3.1 0a1.55 1.55 0 1 0 -3.1 0M845.2 198.2a1.55 1.55 0 1 0 3.1 0a1.55 1.55 0 1 0 -3.1 0M911.4 174.4a1.55 1.55 0 1 0 3.1 0a1.55 1.55 0 1 0 -3.1 0M908.2 215.8a1.55 1.55 0 1 0 3.1 0a1.55 1.55 0 1 0 -3.1 0M925.5 175.1a1.55 1.55 0 1 0 3.1 0a1.55 1.55 0 1 0 -3.1 0M922.1 191.6a1.55 1.55 0 1 0 3.1 0a1.55 1.55 0 1 0 -3.1 0M925.7 219.7a1.55 1.55 0 1 0 3.1 0a1.55 1.55 0 1 0 -3.1 0M842.2 221.3a1.55 1.55 0 1 0 3.1 0a1.55 1.55 0 1 0 -3.1 0M945.9 177.2a1.55 1.55 0 1 0 3.1 0a1.55 1.55 0 1 0 -3.1 0M1017.0 210.9a1.55 1.55 0 1 0 3.1 0a1.55 1.55 0 1 0 -3.1 0M987.8 184.8a1.55 1.55 0 1 0 3.1 0a1.55 1.55 0 1 0 -3.1 0M991.2 216.8a1.55 1.55 0 1 0 3.1 0a1.55 1.55 0 1 0 -3.1 0M996.1 185.2a1.55 1.55 0 1 0 3.1 0a1.55 1.55 0 1 0 -3.1 0M1011.4 175.1a1.55 1.55 0 1 0 3.1 0a1.55 1.55 0 1 0 -3.1 0M964.5 179.9a1.55 1.55 0 1 0 3.1 0a1.55 1.55 0 1 0 -3.1 0M1015.5 169.8a1.55 1.55 0 1 0 3.1 0a1.55 1.55 0 1 0 -3.1 0M948.9 220.9a1.55 1.55 0 1 0 3.1 0a1.55 1.55 0 1 0 -3.1 0M995.1 209.8a1.55 1.55 0 1 0 3.1 0a1.55 1.55 0 1 0 -3.1 0M986.9 166.7a1.55 1.55 0 1 0 3.1 0a1.55 1.55 0 1 0 -3.1 0M969.5 207.6a1.55 1.55 0 1 0 3.1 0a1.55 1.55 0 1 0 -3.1 0M924.9 265.6a1.55 1.55 0 1 0 3.1 0a1.55 1.55 0 1 0 -3.1 0M868.2 232.4a1.55 1.55 0 1 0 3.1 0a1.55 1.55 0 1 0 -3.1 0M897.8 270.5a1.55 1.55 0 1 0 3.1 0a1.55 1.55 0 1 0 -3.1 0M880.4 229.4a1.55 1.55 0 1 0 3.1 0a1.55 1.55 0 1 0 -3.1 0M874.8 239.6a1.55 1.55 0 1 0 3.1 0a1.55 1.55 0 1 0 -3.1 0M848.5 238.6a1.55 1.55 0 1 0 3.1 0a1.55 1.55 0 1 0 -3.1 0M912.6 232.8a1.55 1.55 0 1 0 3.1 0a1.55 1.55 0 1 0 -3.1 0M902.9 259.7a1.55 1.55 0 1 0 3.1 0a1.55 1.55 0 1 0 -3.1 0M845.4 250.9a1.55 1.55 0 1 0 3.1 0a1.55 1.55 0 1 0 -3.1 0M910.8 270.3a1.55 1.55 0 1 0 3.1 0a1.55 1.55 0 1 0 -3.1 0M1014.9 253.0a1.55 1.55 0 1 0 3.1 0a1.55 1.55 0 1 0 -3.1 0M951.0 242.0a1.55 1.55 0 1 0 3.1 0a1.55 1.55 0 1 0 -3.1 0M958.8 250.4a1.55 1.55 0 1 0 3.1 0a1.55 1.55 0 1 0 -3.1 0M960.4 251.1a1.55 1.55 0 1 0 3.1 0a1.55 1.55 0 1 0 -3.1 0M993.0 249.9a1.55 1.55 0 1 0 3.1 0a1.55 1.55 0 1 0 -3.1 0M971.0 234.9a1.55 1.55 0 1 0 3.1 0a1.55 1.55 0 1 0 -3.1 0M1016.1 270.9a1.55 1.55 0 1 0 3.1 0a1.55 1.55 0 1 0 -3.1 0M946.5 274.9a1.55 1.55 0 1 0 3.1 0a1.55 1.55 0 1 0 -3.1 0M1026.1 225.9a1.55 1.55 0 1 0 3.1 0a1.55 1.55 0 1 0 -3.1 0M955.4 224.3a1.55 1.55 0 1 0 3.1 0a1.55 1.55 0 1 0 -3.1 0M953.3 251.6a1.55 1.55 0 1 0 3.1 0a1.55 1.55 0 1 0 -3.1 0M980.6 227.5a1.55 1.55 0 1 0 3.1 0a1.55 1.55 0 1 0 -3.1 0M937.5 262.9a1.55 1.55 0 1 0 3.1 0a1.55 1.55 0 1 0 -3.1 0M476.6 310.2a1.55 1.55 0 1 0 3.1 0a1.55 1.55 0 1 0 -3.1 0M470.6 283.6a1.55 1.55 0 1 0 3.1 0a1.55 1.55 0 1 0 -3.1 0M516.2 293.1a1.55 1.55 0 1 0 3.1 0a1.55 1.55 0 1 0 -3.1 0M488.6 293.2a1.55 1.55 0 1 0 3.1 0a1.55 1.55 0 1 0 -3.1 0M528.3 302.6a1.55 1.55 0 1 0 3.1 0a1.55 1.55 0 1 0 -3.1 0M551.6 315.0a1.55 1.55 0 1 0 3.1 0a1.55 1.55 0 1 0 -3.1 0M501.1 299.7a1.55 1.55 0 1 0 3.1 0a1.55 1.55 0 1 0 -3.1 0M540.7 320.8a1.55 1.55 0 1 0 3.1 0a1.55 1.55 0 1 0 -3.1 0M525.1 328.2a1.55 1.55 0 1 0 3.1 0a1.55 1.55 0 1 0 -3.1 0M514.0 295.2a1.55 1.55 0 1 0 3.1 0a1.55 1.55 0 1 0 -3.1 0M468.1 297.6a1.55 1.55 0 1 0 3.1 0a1.55 1.55 0 1 0 -3.1 0M463.4 284.0a1.55 1.55 0 1 0 3.1 0a1.55 1.55 0 1 0 -3.1 0M513.9 395.2a1.55 1.55 0 1 0 3.1 0a1.55 1.55 0 1 0 -3.1 0M517.9 386.5a1.55 1.55 0 1 0 3.1 0a1.55 1.55 0 1 0 -3.1 0M480.4 347.7a1.55 1.55 0 1 0 3.1 0a1.55 1.55 0 1 0 -3.1 0M480.6 372.8a1.55 1.55 0 1 0 3.1 0a1.55 1.55 0 1 0 -3.1 0M532.7 357.9a1.55 1.55 0 1 0 3.1 0a1.55 1.55 0 1 0 -3.1 0M514.2 352.0a1.55 1.55 0 1 0 3.1 0a1.55 1.55 0 1 0 -3.1 0M505.9 363.0a1.55 1.55 0 1 0 3.1 0a1.55 1.55 0 1 0 -3.1 0M539.2 359.6a1.55 1.55 0 1 0 3.1 0a1.55 1.55 0 1 0 -3.1 0M522.5 375.6a1.55 1.55 0 1 0 3.1 0a1.55 1.55 0 1 0 -3.1 0M514.6 376.2a1.55 1.55 0 1 0 3.1 0a1.55 1.55 0 1 0 -3.1 0M540.0 430.7a1.55 1.55 0 1 0 3.1 0a1.55 1.55 0 1 0 -3.1 0M534.4 431.6a1.55 1.55 0 1 0 3.1 0a1.55 1.55 0 1 0 -3.1 0M497.2 426.4a1.55 1.55 0 1 0 3.1 0a1.55 1.55 0 1 0 -3.1 0M481.0 440.0a1.55 1.55 0 1 0 3.1 0a1.55 1.55 0 1 0 -3.1 0M528.6 413.2a1.55 1.55 0 1 0 3.1 0a1.55 1.55 0 1 0 -3.1 0M501.9 472.1a1.55 1.55 0 1 0 3.1 0a1.55 1.55 0 1 0 -3.1 0M528.9 506.2a1.55 1.55 0 1 0 3.1 0a1.55 1.55 0 1 0 -3.1 0M474.9 498.7a1.55 1.55 0 1 0 3.1 0a1.55 1.55 0 1 0 -3.1 0M534.4 488.9a1.55 1.55 0 1 0 3.1 0a1.55 1.55 0 1 0 -3.1 0M549.1 478.9a1.55 1.55 0 1 0 3.1 0a1.55 1.55 0 1 0 -3.1 0M520.5 472.4a1.55 1.55 0 1 0 3.1 0a1.55 1.55 0 1 0 -3.1 0M532.7 497.4a1.55 1.55 0 1 0 3.1 0a1.55 1.55 0 1 0 -3.1 0M486.2 491.9a1.55 1.55 0 1 0 3.1 0a1.55 1.55 0 1 0 -3.1 0M926.5 287.8a1.55 1.55 0 1 0 3.1 0a1.55 1.55 0 1 0 -3.1 0M902.4 337.7a1.55 1.55 0 1 0 3.1 0a1.55 1.55 0 1 0 -3.1 0M901.9 305.1a1.55 1.55 0 1 0 3.1 0a1.55 1.55 0 1 0 -3.1 0M912.2 328.0a1.55 1.55 0 1 0 3.1 0a1.55 1.55 0 1 0 -3.1 0M929.3 288.3a1.55 1.55 0 1 0 3.1 0a1.55 1.55 0 1 0 -3.1 0M850.1 322.0a1.55 1.55 0 1 0 3.1 0a1.55 1.55 0 1 0 -3.1 0M842.4 291.5a1.55 1.55 0 1 0 3.1 0a1.55 1.55 0 1 0 -3.1 0M925.7 282.1a1.55 1.55 0 1 0 3.1 0a1.55 1.55 0 1 0 -3.1 0M897.1 301.3a1.55 1.55 0 1 0 3.1 0a1.55 1.55 0 1 0 -3.1 0M903.3 306.9a1.55 1.55 0 1 0 3.1 0a1.55 1.55 0 1 0 -3.1 0M929.2 304.7a1.55 1.55 0 1 0 3.1 0a1.55 1.55 0 1 0 -3.1 0M871.0 310.3a1.55 1.55 0 1 0 3.1 0a1.55 1.55 0 1 0 -3.1 0M841.1 297.8a1.55 1.55 0 1 0 3.1 0a1.55 1.55 0 1 0 -3.1 0M904.8 315.7a1.55 1.55 0 1 0 3.1 0a1.55 1.55 0 1 0 -3.1 0M919.7 296.0a1.55 1.55 0 1 0 3.1 0a1.55 1.55 0 1 0 -3.1 0M871.1 336.0a1.55 1.55 0 1 0 3.1 0a1.55 1.55 0 1 0 -3.1 0M851.8 329.7a1.55 1.55 0 1 0 3.1 0a1.55 1.55 0 1 0 -3.1 0M868.0 314.2a1.55 1.55 0 1 0 3.1 0a1.55 1.55 0 1 0 -3.1 0M926.9 324.1a1.55 1.55 0 1 0 3.1 0a1.55 1.55 0 1 0 -3.1 0M924.1 300.4a1.55 1.55 0 1 0 3.1 0a1.55 1.55 0 1 0 -3.1 0M945.5 288.3a1.55 1.55 0 1 0 3.1 0a1.55 1.55 0 1 0 -3.1 0M978.4 293.1a1.55 1.55 0 1 0 3.1 0a1.55 1.55 0 1 0 -3.1 0M940.0 305.5a1.55 1.55 0 1 0 3.1 0a1.55 1.55 0 1 0 -3.1 0M1015.3 289.4a1.55 1.55 0 1 0 3.1 0a1.55 1.55 0 1 0 -3.1 0M934.2 309.8a1.55 1.55 0 1 0 3.1 0a1.55 1.55 0 1 0 -3.1 0M968.5 295.7a1.55 1.55 0 1 0 3.1 0a1.55 1.55 0 1 0 -3.1 0M940.6 324.9a1.55 1.55 0 1 0 3.1 0a1.55 1.55 0 1 0 -3.1 0M1010.4 312.9a1.55 1.55 0 1 0 3.1 0a1.55 1.55 0 1 0 -3.1 0M976.4 283.4a1.55 1.55 0 1 0 3.1 0a1.55 1.55 0 1 0 -3.1 0M963.9 338.1a1.55 1.55 0 1 0 3.1 0a1.55 1.55 0 1 0 -3.1 0M970.7 331.5a1.55 1.55 0 1 0 3.1 0a1.55 1.55 0 1 0 -3.1 0M941.4 307.1a1.55 1.55 0 1 0 3.1 0a1.55 1.55 0 1 0 -3.1 0M1023.6 306.4a1.55 1.55 0 1 0 3.1 0a1.55 1.55 0 1 0 -3.1 0M994.7 321.5a1.55 1.55 0 1 0 3.1 0a1.55 1.55 0 1 0 -3.1 0M987.6 296.2a1.55 1.55 0 1 0 3.1 0a1.55 1.55 0 1 0 -3.1 0M989.3 293.2a1.55 1.55 0 1 0 3.1 0a1.55 1.55 0 1 0 -3.1 0M985.6 328.9a1.55 1.55 0 1 0 3.1 0a1.55 1.55 0 1 0 -3.1 0M988.7 311.6a1.55 1.55 0 1 0 3.1 0a1.55 1.55 0 1 0 -3.1 0M949.3 304.0a1.55 1.55 0 1 0 3.1 0a1.55 1.55 0 1 0 -3.1 0M1010.8 332.6a1.55 1.55 0 1 0 3.1 0a1.55 1.55 0 1 0 -3.1 0M985.1 297.3a1.55 1.55 0 1 0 3.1 0a1.55 1.55 0 1 0 -3.1 0M971.7 324.6a1.55 1.55 0 1 0 3.1 0a1.55 1.55 0 1 0 -3.1 0M968.8 308.6a1.55 1.55 0 1 0 3.1 0a1.55 1.55 0 1 0 -3.1 0M998.5 307.6a1.55 1.55 0 1 0 3.1 0a1.55 1.55 0 1 0 -3.1 0M943.8 292.3a1.55 1.55 0 1 0 3.1 0a1.55 1.55 0 1 0 -3.1 0M913.1 398.9a1.55 1.55 0 1 0 3.1 0a1.55 1.55 0 1 0 -3.1 0M921.5 390.0a1.55 1.55 0 1 0 3.1 0a1.55 1.55 0 1 0 -3.1 0M882.3 360.5a1.55 1.55 0 1 0 3.1 0a1.55 1.55 0 1 0 -3.1 0M887.3 389.9a1.55 1.55 0 1 0 3.1 0a1.55 1.55 0 1 0 -3.1 0M852.5 382.8a1.55 1.55 0 1 0 3.1 0a1.55 1.55 0 1 0 -3.1 0M844.3 386.8a1.55 1.55 0 1 0 3.1 0a1.55 1.55 0 1 0 -3.1 0M851.6 372.2a1.55 1.55 0 1 0 3.1 0a1.55 1.55 0 1 0 -3.1 0M873.0 365.0a1.55 1.55 0 1 0 3.1 0a1.55 1.55 0 1 0 -3.1 0M865.8 397.6a1.55 1.55 0 1 0 3.1 0a1.55 1.55 0 1 0 -3.1 0M870.6 355.0a1.55 1.55 0 1 0 3.1 0a1.55 1.55 0 1 0 -3.1 0M863.5 375.7a1.55 1.55 0 1 0 3.1 0a1.55 1.55 0 1 0 -3.1 0M910.6 375.6a1.55 1.55 0 1 0 3.1 0a1.55 1.55 0 1 0 -3.1 0M923.0 345.4a1.55 1.55 0 1 0 3.1 0a1.55 1.55 0 1 0 -3.1 0M868.6 356.2a1.55 1.55 0 1 0 3.1 0a1.55 1.55 0 1 0 -3.1 0M863.2 391.4a1.55 1.55 0 1 0 3.1 0a1.55 1.55 0 1 0 -3.1 0M880.6 364.1a1.55 1.55 0 1 0 3.1 0a1.55 1.55 0 1 0 -3.1 0M927.6 391.0a1.55 1.55 0 1 0 3.1 0a1.55 1.55 0 1 0 -3.1 0M906.5 371.5a1.55 1.55 0 1 0 3.1 0a1.55 1.55 0 1 0 -3.1 0M851.8 342.2a1.55 1.55 0 1 0 3.1 0a1.55 1.55 0 1 0 -3.1 0M905.0 392.0a1.55 1.55 0 1 0 3.1 0a1.55 1.55 0 1 0 -3.1 0M924.8 393.5a1.55 1.55 0 1 0 3.1 0a1.55 1.55 0 1 0 -3.1 0M848.1 380.0a1.55 1.55 0 1 0 3.1 0a1.55 1.55 0 1 0 -3.1 0M927.8 397.7a1.55 1.55 0 1 0 3.1 0a1.55 1.55 0 1 0 -3.1 0M926.0 363.5a1.55 1.55 0 1 0 3.1 0a1.55 1.55 0 1 0 -3.1 0M845.7 366.1a1.55 1.55 0 1 0 3.1 0a1.55 1.55 0 1 0 -3.1 0M990.8 341.1a1.55 1.55 0 1 0 3.1 0a1.55 1.55 0 1 0 -3.1 0M1023.3 397.1a1.55 1.55 0 1 0 3.1 0a1.55 1.55 0 1 0 -3.1 0M982.9 364.1a1.55 1.55 0 1 0 3.1 0a1.55 1.55 0 1 0 -3.1 0M999.9 379.8a1.55 1.55 0 1 0 3.1 0a1.55 1.55 0 1 0 -3.1 0M964.6 399.4a1.55 1.55 0 1 0 3.1 0a1.55 1.55 0 1 0 -3.1 0M937.0 367.1a1.55 1.55 0 1 0 3.1 0a1.55 1.55 0 1 0 -3.1 0M940.8 387.7a1.55 1.55 0 1 0 3.1 0a1.55 1.55 0 1 0 -3.1 0M965.1 395.5a1.55 1.55 0 1 0 3.1 0a1.55 1.55 0 1 0 -3.1 0M936.6 344.9a1.55 1.55 0 1 0 3.1 0a1.55 1.55 0 1 0 -3.1 0M974.7 387.5a1.55 1.55 0 1 0 3.1 0a1.55 1.55 0 1 0 -3.1 0M1000.5 399.1a1.55 1.55 0 1 0 3.1 0a1.55 1.55 0 1 0 -3.1 0M956.8 342.9a1.55 1.55 0 1 0 3.1 0a1.55 1.55 0 1 0 -3.1 0M1018.4 362.1a1.55 1.55 0 1 0 3.1 0a1.55 1.55 0 1 0 -3.1 0M942.5 380.8a1.55 1.55 0 1 0 3.1 0a1.55 1.55 0 1 0 -3.1 0M936.3 386.7a1.55 1.55 0 1 0 3.1 0a1.55 1.55 0 1 0 -3.1 0M936.1 392.2a1.55 1.55 0 1 0 3.1 0a1.55 1.55 0 1 0 -3.1 0M993.4 393.7a1.55 1.55 0 1 0 3.1 0a1.55 1.55 0 1 0 -3.1 0M948.4 346.3a1.55 1.55 0 1 0 3.1 0a1.55 1.55 0 1 0 -3.1 0M965.3 380.0a1.55 1.55 0 1 0 3.1 0a1.55 1.55 0 1 0 -3.1 0M941.8 352.6a1.55 1.55 0 1 0 3.1 0a1.55 1.55 0 1 0 -3.1 0M932.8 424.5a1.55 1.55 0 1 0 3.1 0a1.55 1.55 0 1 0 -3.1 0M844.5 428.5a1.55 1.55 0 1 0 3.1 0a1.55 1.55 0 1 0 -3.1 0M886.9 433.0a1.55 1.55 0 1 0 3.1 0a1.55 1.55 0 1 0 -3.1 0M929.1 402.6a1.55 1.55 0 1 0 3.1 0a1.55 1.55 0 1 0 -3.1 0M851.1 449.7a1.55 1.55 0 1 0 3.1 0a1.55 1.55 0 1 0 -3.1 0M877.8 409.4a1.55 1.55 0 1 0 3.1 0a1.55 1.55 0 1 0 -3.1 0M898.2 415.6a1.55 1.55 0 1 0 3.1 0a1.55 1.55 0 1 0 -3.1 0M893.7 446.3a1.55 1.55 0 1 0 3.1 0a1.55 1.55 0 1 0 -3.1 0M916.5 457.8a1.55 1.55 0 1 0 3.1 0a1.55 1.55 0 1 0 -3.1 0M905.2 447.2a1.55 1.55 0 1 0 3.1 0a1.55 1.55 0 1 0 -3.1 0M883.8 401.1a1.55 1.55 0 1 0 3.1 0a1.55 1.55 0 1 0 -3.1 0M890.2 455.3a1.55 1.55 0 1 0 3.1 0a1.55 1.55 0 1 0 -3.1 0M879.8 419.7a1.55 1.55 0 1 0 3.1 0a1.55 1.55 0 1 0 -3.1 0M844.7 443.7a1.55 1.55 0 1 0 3.1 0a1.55 1.55 0 1 0 -3.1 0M841.1 426.8a1.55 1.55 0 1 0 3.1 0a1.55 1.55 0 1 0 -3.1 0M875.3 428.9a1.55 1.55 0 1 0 3.1 0a1.55 1.55 0 1 0 -3.1 0M867.2 419.9a1.55 1.55 0 1 0 3.1 0a1.55 1.55 0 1 0 -3.1 0M855.7 405.1a1.55 1.55 0 1 0 3.1 0a1.55 1.55 0 1 0 -3.1 0M929.9 429.6a1.55 1.55 0 1 0 3.1 0a1.55 1.55 0 1 0 -3.1 0M883.2 407.9a1.55 1.55 0 1 0 3.1 0a1.55 1.55 0 1 0 -3.1 0M988.7 433.7a1.55 1.55 0 1 0 3.1 0a1.55 1.55 0 1 0 -3.1 0M974.2 446.5a1.55 1.55 0 1 0 3.1 0a1.55 1.55 0 1 0 -3.1 0M996.4 441.6a1.55 1.55 0 1 0 3.1 0a1.55 1.55 0 1 0 -3.1 0M971.3 431.3a1.55 1.55 0 1 0 3.1 0a1.55 1.55 0 1 0 -3.1 0M1019.0 444.1a1.55 1.55 0 1 0 3.1 0a1.55 1.55 0 1 0 -3.1 0M1001.5 440.4a1.55 1.55 0 1 0 3.1 0a1.55 1.55 0 1 0 -3.1 0M1018.1 435.4a1.55 1.55 0 1 0 3.1 0a1.55 1.55 0 1 0 -3.1 0M981.3 406.9a1.55 1.55 0 1 0 3.1 0a1.55 1.55 0 1 0 -3.1 0M997.2 453.1a1.55 1.55 0 1 0 3.1 0a1.55 1.55 0 1 0 -3.1 0M946.6 400.2a1.55 1.55 0 1 0 3.1 0a1.55 1.55 0 1 0 -3.1 0M936.4 440.9a1.55 1.55 0 1 0 3.1 0a1.55 1.55 0 1 0 -3.1 0M1024.1 457.8a1.55 1.55 0 1 0 3.1 0a1.55 1.55 0 1 0 -3.1 0M888.1 466.1a1.55 1.55 0 1 0 3.1 0a1.55 1.55 0 1 0 -3.1 0M883.6 490.3a1.55 1.55 0 1 0 3.1 0a1.55 1.55 0 1 0 -3.1 0M866.2 463.4a1.55 1.55 0 1 0 3.1 0a1.55 1.55 0 1 0 -3.1 0M869.2 476.7a1.55 1.55 0 1 0 3.1 0a1.55 1.55 0 1 0 -3.1 0M878.0 462.5a1.55 1.55 0 1 0 3.1 0a1.55 1.55 0 1 0 -3.1 0M928.8 515.9a1.55 1.55 0 1 0 3.1 0a1.55 1.55 0 1 0 -3.1 0M933.2 482.0a1.55 1.55 0 1 0 3.1 0a1.55 1.55 0 1 0 -3.1 0M846.3 488.4a1.55 1.55 0 1 0 3.1 0a1.55 1.55 0 1 0 -3.1 0M844.0 485.3a1.55 1.55 0 1 0 3.1 0a1.55 1.55 0 1 0 -3.1 0M856.8 496.0a1.55 1.55 0 1 0 3.1 0a1.55 1.55 0 1 0 -3.1 0M868.1 482.1a1.55 1.55 0 1 0 3.1 0a1.55 1.55 0 1 0 -3.1 0M916.9 462.4a1.55 1.55 0 1 0 3.1 0a1.55 1.55 0 1 0 -3.1 0M870.4 484.1a1.55 1.55 0 1 0 3.1 0a1.55 1.55 0 1 0 -3.1 0M839.9 495.7a1.55 1.55 0 1 0 3.1 0a1.55 1.55 0 1 0 -3.1 0M930.0 510.7a1.55 1.55 0 1 0 3.1 0a1.55 1.55 0 1 0 -3.1 0M921.4 479.2a1.55 1.55 0 1 0 3.1 0a1.55 1.55 0 1 0 -3.1 0M867.1 471.8a1.55 1.55 0 1 0 3.1 0a1.55 1.55 0 1 0 -3.1 0M866.6 464.9a1.55 1.55 0 1 0 3.1 0a1.55 1.55 0 1 0 -3.1 0M847.1 510.7a1.55 1.55 0 1 0 3.1 0a1.55 1.55 0 1 0 -3.1 0M910.1 491.2a1.55 1.55 0 1 0 3.1 0a1.55 1.55 0 1 0 -3.1 0M853.2 487.4a1.55 1.55 0 1 0 3.1 0a1.55 1.55 0 1 0 -3.1 0M867.4 485.3a1.55 1.55 0 1 0 3.1 0a1.55 1.55 0 1 0 -3.1 0M909.5 467.1a1.55 1.55 0 1 0 3.1 0a1.55 1.55 0 1 0 -3.1 0M844.9 482.7a1.55 1.55 0 1 0 3.1 0a1.55 1.55 0 1 0 -3.1 0M932.1 490.6a1.55 1.55 0 1 0 3.1 0a1.55 1.55 0 1 0 -3.1 0M1010.5 489.0a1.55 1.55 0 1 0 3.1 0a1.55 1.55 0 1 0 -3.1 0M1024.6 501.0a1.55 1.55 0 1 0 3.1 0a1.55 1.55 0 1 0 -3.1 0M945.7 468.7a1.55 1.55 0 1 0 3.1 0a1.55 1.55 0 1 0 -3.1 0M961.7 467.7a1.55 1.55 0 1 0 3.1 0a1.55 1.55 0 1 0 -3.1 0M991.2 487.7a1.55 1.55 0 1 0 3.1 0a1.55 1.55 0 1 0 -3.1 0M941.9 471.3a1.55 1.55 0 1 0 3.1 0a1.55 1.55 0 1 0 -3.1 0M939.9 460.7a1.55 1.55 0 1 0 3.1 0a1.55 1.55 0 1 0 -3.1 0M1016.4 499.8a1.55 1.55 0 1 0 3.1 0a1.55 1.55 0 1 0 -3.1 0M945.7 465.4a1.55 1.55 0 1 0 3.1 0a1.55 1.55 0 1 0 -3.1 0M979.0 510.3a1.55 1.55 0 1 0 3.1 0a1.55 1.55 0 1 0 -3.1 0M546.3 521.5a1.55 1.55 0 1 0 3.1 0a1.55 1.55 0 1 0 -3.1 0M486.1 576.7a1.55 1.55 0 1 0 3.1 0a1.55 1.55 0 1 0 -3.1 0M498.5 519.9a1.55 1.55 0 1 0 3.1 0a1.55 1.55 0 1 0 -3.1 0M534.0 573.2a1.55 1.55 0 1 0 3.1 0a1.55 1.55 0 1 0 -3.1 0M528.2 522.6a1.55 1.55 0 1 0 3.1 0a1.55 1.55 0 1 0 -3.1 0M553.3 534.5a1.55 1.55 0 1 0 3.1 0a1.55 1.55 0 1 0 -3.1 0M543.4 527.0a1.55 1.55 0 1 0 3.1 0a1.55 1.55 0 1 0 -3.1 0M495.8 570.9a1.55 1.55 0 1 0 3.1 0a1.55 1.55 0 1 0 -3.1 0M530.6 568.7a1.55 1.55 0 1 0 3.1 0a1.55 1.55 0 1 0 -3.1 0M498.2 518.0a1.55 1.55 0 1 0 3.1 0a1.55 1.55 0 1 0 -3.1 0M514.8 545.9a1.55 1.55 0 1 0 3.1 0a1.55 1.55 0 1 0 -3.1 0M560.7 562.8a1.55 1.55 0 1 0 3.1 0a1.55 1.55 0 1 0 -3.1 0M641.0 569.5a1.55 1.55 0 1 0 3.1 0a1.55 1.55 0 1 0 -3.1 0M606.6 573.8a1.55 1.55 0 1 0 3.1 0a1.55 1.55 0 1 0 -3.1 0M644.9 566.6a1.55 1.55 0 1 0 3.1 0a1.55 1.55 0 1 0 -3.1 0M595.0 544.5a1.55 1.55 0 1 0 3.1 0a1.55 1.55 0 1 0 -3.1 0M624.1 521.4a1.55 1.55 0 1 0 3.1 0a1.55 1.55 0 1 0 -3.1 0M625.8 556.2a1.55 1.55 0 1 0 3.1 0a1.55 1.55 0 1 0 -3.1 0M563.4 535.0a1.55 1.55 0 1 0 3.1 0a1.55 1.55 0 1 0 -3.1 0M648.1 575.7a1.55 1.55 0 1 0 3.1 0a1.55 1.55 0 1 0 -3.1 0M629.4 566.3a1.55 1.55 0 1 0 3.1 0a1.55 1.55 0 1 0 -3.1 0M599.7 545.9a1.55 1.55 0 1 0 3.1 0a1.55 1.55 0 1 0 -3.1 0M614.3 518.3a1.55 1.55 0 1 0 3.1 0a1.55 1.55 0 1 0 -3.1 0M621.2 553.6a1.55 1.55 0 1 0 3.1 0a1.55 1.55 0 1 0 -3.1 0M623.8 549.2a1.55 1.55 0 1 0 3.1 0a1.55 1.55 0 1 0 -3.1 0M595.3 555.2a1.55 1.55 0 1 0 3.1 0a1.55 1.55 0 1 0 -3.1 0M602.9 560.1a1.55 1.55 0 1 0 3.1 0a1.55 1.55 0 1 0 -3.1 0M579.1 568.0a1.55 1.55 0 1 0 3.1 0a1.55 1.55 0 1 0 -3.1 0M597.8 559.4a1.55 1.55 0 1 0 3.1 0a1.55 1.55 0 1 0 -3.1 0M635.3 526.7a1.55 1.55 0 1 0 3.1 0a1.55 1.55 0 1 0 -3.1 0M588.7 540.2a1.55 1.55 0 1 0 3.1 0a1.55 1.55 0 1 0 -3.1 0M641.4 555.5a1.55 1.55 0 1 0 3.1 0a1.55 1.55 0 1 0 -3.1 0M608.6 550.6a1.55 1.55 0 1 0 3.1 0a1.55 1.55 0 1 0 -3.1 0M617.7 520.1a1.55 1.55 0 1 0 3.1 0a1.55 1.55 0 1 0 -3.1 0M569.4 519.7a1.55 1.55 0 1 0 3.1 0a1.55 1.55 0 1 0 -3.1 0M619.1 529.8a1.55 1.55 0 1 0 3.1 0a1.55 1.55 0 1 0 -3.1 0M616.2 525.4a1.55 1.55 0 1 0 3.1 0a1.55 1.55 0 1 0 -3.1 0M587.1 534.9a1.55 1.55 0 1 0 3.1 0a1.55 1.55 0 1 0 -3.1 0M581.2 546.7a1.55 1.55 0 1 0 3.1 0a1.55 1.55 0 1 0 -3.1 0M620.6 564.9a1.55 1.55 0 1 0 3.1 0a1.55 1.55 0 1 0 -3.1 0M562.1 530.0a1.55 1.55 0 1 0 3.1 0a1.55 1.55 0 1 0 -3.1 0M482.7 613.0a1.55 1.55 0 1 0 3.1 0a1.55 1.55 0 1 0 -3.1 0M468.9 597.0a1.55 1.55 0 1 0 3.1 0a1.55 1.55 0 1 0 -3.1 0M546.3 614.8a1.55 1.55 0 1 0 3.1 0a1.55 1.55 0 1 0 -3.1 0M471.9 599.2a1.55 1.55 0 1 0 3.1 0a1.55 1.55 0 1 0 -3.1 0M473.9 583.1a1.55 1.55 0 1 0 3.1 0a1.55 1.55 0 1 0 -3.1 0M473.5 614.4a1.55 1.55 0 1 0 3.1 0a1.55 1.55 0 1 0 -3.1 0M591.3 599.0a1.55 1.55 0 1 0 3.1 0a1.55 1.55 0 1 0 -3.1 0M643.7 618.0a1.55 1.55 0 1 0 3.1 0a1.55 1.55 0 1 0 -3.1 0M593.6 634.5a1.55 1.55 0 1 0 3.1 0a1.55 1.55 0 1 0 -3.1 0M622.0 609.6a1.55 1.55 0 1 0 3.1 0a1.55 1.55 0 1 0 -3.1 0M631.6 622.0a1.55 1.55 0 1 0 3.1 0a1.55 1.55 0 1 0 -3.1 0M618.5 596.0a1.55 1.55 0 1 0 3.1 0a1.55 1.55 0 1 0 -3.1 0M600.1 624.6a1.55 1.55 0 1 0 3.1 0a1.55 1.55 0 1 0 -3.1 0M594.3 591.8a1.55 1.55 0 1 0 3.1 0a1.55 1.55 0 1 0 -3.1 0M574.2 630.5a1.55 1.55 0 1 0 3.1 0a1.55 1.55 0 1 0 -3.1 0M470.7 637.2a1.55 1.55 0 1 0 3.1 0a1.55 1.55 0 1 0 -3.1 0M470.1 639.8a1.55 1.55 0 1 0 3.1 0a1.55 1.55 0 1 0 -3.1 0M510.0 652.3a1.55 1.55 0 1 0 3.1 0a1.55 1.55 0 1 0 -3.1 0M495.3 659.6a1.55 1.55 0 1 0 3.1 0a1.55 1.55 0 1 0 -3.1 0M491.0 636.1a1.55 1.55 0 1 0 3.1 0a1.55 1.55 0 1 0 -3.1 0M493.6 637.6a1.55 1.55 0 1 0 3.1 0a1.55 1.55 0 1 0 -3.1 0M475.0 640.1a1.55 1.55 0 1 0 3.1 0a1.55 1.55 0 1 0 -3.1 0M523.0 659.5a1.55 1.55 0 1 0 3.1 0a1.55 1.55 0 1 0 -3.1 0M472.0 665.3a1.55 1.55 0 1 0 3.1 0a1.55 1.55 0 1 0 -3.1 0M494.9 638.0a1.55 1.55 0 1 0 3.1 0a1.55 1.55 0 1 0 -3.1 0M512.5 644.0a1.55 1.55 0 1 0 3.1 0a1.55 1.55 0 1 0 -3.1 0M475.8 660.6a1.55 1.55 0 1 0 3.1 0a1.55 1.55 0 1 0 -3.1 0M566.0 658.0a1.55 1.55 0 1 0 3.1 0a1.55 1.55 0 1 0 -3.1 0M646.8 640.1a1.55 1.55 0 1 0 3.1 0a1.55 1.55 0 1 0 -3.1 0M622.2 653.8a1.55 1.55 0 1 0 3.1 0a1.55 1.55 0 1 0 -3.1 0M597.9 652.9a1.55 1.55 0 1 0 3.1 0a1.55 1.55 0 1 0 -3.1 0M629.1 665.3a1.55 1.55 0 1 0 3.1 0a1.55 1.55 0 1 0 -3.1 0M582.4 645.3a1.55 1.55 0 1 0 3.1 0a1.55 1.55 0 1 0 -3.1 0M617.2 662.2a1.55 1.55 0 1 0 3.1 0a1.55 1.55 0 1 0 -3.1 0M573.4 657.0a1.55 1.55 0 1 0 3.1 0a1.55 1.55 0 1 0 -3.1 0M627.6 645.1a1.55 1.55 0 1 0 3.1 0a1.55 1.55 0 1 0 -3.1 0M559.4 641.6a1.55 1.55 0 1 0 3.1 0a1.55 1.55 0 1 0 -3.1 0M741.8 549.2a1.55 1.55 0 1 0 3.1 0a1.55 1.55 0 1 0 -3.1 0M718.3 545.2a1.55 1.55 0 1 0 3.1 0a1.55 1.55 0 1 0 -3.1 0M658.3 562.8a1.55 1.55 0 1 0 3.1 0a1.55 1.55 0 1 0 -3.1 0M656.6 565.5a1.55 1.55 0 1 0 3.1 0a1.55 1.55 0 1 0 -3.1 0M669.5 552.2a1.55 1.55 0 1 0 3.1 0a1.55 1.55 0 1 0 -3.1 0M681.0 555.3a1.55 1.55 0 1 0 3.1 0a1.55 1.55 0 1 0 -3.1 0M727.7 575.5a1.55 1.55 0 1 0 3.1 0a1.55 1.55 0 1 0 -3.1 0M660.4 529.0a1.55 1.55 0 1 0 3.1 0a1.55 1.55 0 1 0 -3.1 0M701.0 550.8a1.55 1.55 0 1 0 3.1 0a1.55 1.55 0 1 0 -3.1 0M675.9 544.7a1.55 1.55 0 1 0 3.1 0a1.55 1.55 0 1 0 -3.1 0M671.6 526.1a1.55 1.55 0 1 0 3.1 0a1.55 1.55 0 1 0 -3.1 0M728.4 557.7a1.55 1.55 0 1 0 3.1 0a1.55 1.55 0 1 0 -3.1 0M653.0 524.3a1.55 1.55 0 1 0 3.1 0a1.55 1.55 0 1 0 -3.1 0M678.8 538.0a1.55 1.55 0 1 0 3.1 0a1.55 1.55 0 1 0 -3.1 0M731.6 529.6a1.55 1.55 0 1 0 3.1 0a1.55 1.55 0 1 0 -3.1 0M732.0 547.9a1.55 1.55 0 1 0 3.1 0a1.55 1.55 0 1 0 -3.1 0M730.1 549.5a1.55 1.55 0 1 0 3.1 0a1.55 1.55 0 1 0 -3.1 0M675.5 548.3a1.55 1.55 0 1 0 3.1 0a1.55 1.55 0 1 0 -3.1 0M682.3 531.4a1.55 1.55 0 1 0 3.1 0a1.55 1.55 0 1 0 -3.1 0M729.1 568.4a1.55 1.55 0 1 0 3.1 0a1.55 1.55 0 1 0 -3.1 0M666.2 554.1a1.55 1.55 0 1 0 3.1 0a1.55 1.55 0 1 0 -3.1 0M694.4 520.3a1.55 1.55 0 1 0 3.1 0a1.55 1.55 0 1 0 -3.1 0M739.5 519.6a1.55 1.55 0 1 0 3.1 0a1.55 1.55 0 1 0 -3.1 0M719.5 536.8a1.55 1.55 0 1 0 3.1 0a1.55 1.55 0 1 0 -3.1 0M676.2 554.7a1.55 1.55 0 1 0 3.1 0a1.55 1.55 0 1 0 -3.1 0M650.9 527.6a1.55 1.55 0 1 0 3.1 0a1.55 1.55 0 1 0 -3.1 0M676.7 572.1a1.55 1.55 0 1 0 3.1 0a1.55 1.55 0 1 0 -3.1 0M680.4 557.7a1.55 1.55 0 1 0 3.1 0a1.55 1.55 0 1 0 -3.1 0M719.0 576.4a1.55 1.55 0 1 0 3.1 0a1.55 1.55 0 1 0 -3.1 0M672.3 523.8a1.55 1.55 0 1 0 3.1 0a1.55 1.55 0 1 0 -3.1 0M731.3 539.6a1.55 1.55 0 1 0 3.1 0a1.55 1.55 0 1 0 -3.1 0M703.4 563.6a1.55 1.55 0 1 0 3.1 0a1.55 1.55 0 1 0 -3.1 0M733.2 531.8a1.55 1.55 0 1 0 3.1 0a1.55 1.55 0 1 0 -3.1 0M699.0 567.2a1.55 1.55 0 1 0 3.1 0a1.55 1.55 0 1 0 -3.1 0M671.0 554.3a1.55 1.55 0 1 0 3.1 0a1.55 1.55 0 1 0 -3.1 0M681.9 573.1a1.55 1.55 0 1 0 3.1 0a1.55 1.55 0 1 0 -3.1 0M689.0 550.2a1.55 1.55 0 1 0 3.1 0a1.55 1.55 0 1 0 -3.1 0M677.7 554.1a1.55 1.55 0 1 0 3.1 0a1.55 1.55 0 1 0 -3.1 0M682.0 554.5a1.55 1.55 0 1 0 3.1 0a1.55 1.55 0 1 0 -3.1 0M709.0 547.4a1.55 1.55 0 1 0 3.1 0a1.55 1.55 0 1 0 -3.1 0M762.6 552.1a1.55 1.55 0 1 0 3.1 0a1.55 1.55 0 1 0 -3.1 0M780.2 566.9a1.55 1.55 0 1 0 3.1 0a1.55 1.55 0 1 0 -3.1 0M807.4 530.6a1.55 1.55 0 1 0 3.1 0a1.55 1.55 0 1 0 -3.1 0M816.7 536.9a1.55 1.55 0 1 0 3.1 0a1.55 1.55 0 1 0 -3.1 0M746.6 563.2a1.55 1.55 0 1 0 3.1 0a1.55 1.55 0 1 0 -3.1 0M793.5 535.2a1.55 1.55 0 1 0 3.1 0a1.55 1.55 0 1 0 -3.1 0M781.4 550.2a1.55 1.55 0 1 0 3.1 0a1.55 1.55 0 1 0 -3.1 0M824.3 575.3a1.55 1.55 0 1 0 3.1 0a1.55 1.55 0 1 0 -3.1 0M770.3 559.6a1.55 1.55 0 1 0 3.1 0a1.55 1.55 0 1 0 -3.1 0M838.7 563.3a1.55 1.55 0 1 0 3.1 0a1.55 1.55 0 1 0 -3.1 0M749.4 552.2a1.55 1.55 0 1 0 3.1 0a1.55 1.55 0 1 0 -3.1 0M806.3 567.7a1.55 1.55 0 1 0 3.1 0a1.55 1.55 0 1 0 -3.1 0M824.2 565.1a1.55 1.55 0 1 0 3.1 0a1.55 1.55 0 1 0 -3.1 0M811.4 567.2a1.55 1.55 0 1 0 3.1 0a1.55 1.55 0 1 0 -3.1 0M828.2 564.9a1.55 1.55 0 1 0 3.1 0a1.55 1.55 0 1 0 -3.1 0M814.0 527.2a1.55 1.55 0 1 0 3.1 0a1.55 1.55 0 1 0 -3.1 0M769.0 571.3a1.55 1.55 0 1 0 3.1 0a1.55 1.55 0 1 0 -3.1 0M800.3 547.3a1.55 1.55 0 1 0 3.1 0a1.55 1.55 0 1 0 -3.1 0M790.2 530.6a1.55 1.55 0 1 0 3.1 0a1.55 1.55 0 1 0 -3.1 0M788.7 547.4a1.55 1.55 0 1 0 3.1 0a1.55 1.55 0 1 0 -3.1 0M791.0 549.9a1.55 1.55 0 1 0 3.1 0a1.55 1.55 0 1 0 -3.1 0M783.3 567.2a1.55 1.55 0 1 0 3.1 0a1.55 1.55 0 1 0 -3.1 0M772.9 561.1a1.55 1.55 0 1 0 3.1 0a1.55 1.55 0 1 0 -3.1 0M768.4 530.5a1.55 1.55 0 1 0 3.1 0a1.55 1.55 0 1 0 -3.1 0M755.8 564.6a1.55 1.55 0 1 0 3.1 0a1.55 1.55 0 1 0 -3.1 0M794.7 558.3a1.55 1.55 0 1 0 3.1 0a1.55 1.55 0 1 0 -3.1 0M767.7 554.7a1.55 1.55 0 1 0 3.1 0a1.55 1.55 0 1 0 -3.1 0M792.4 536.9a1.55 1.55 0 1 0 3.1 0a1.55 1.55 0 1 0 -3.1 0M836.7 526.4a1.55 1.55 0 1 0 3.1 0a1.55 1.55 0 1 0 -3.1 0M785.6 550.1a1.55 1.55 0 1 0 3.1 0a1.55 1.55 0 1 0 -3.1 0M682.9 624.2a1.55 1.55 0 1 0 3.1 0a1.55 1.55 0 1 0 -3.1 0M654.7 615.6a1.55 1.55 0 1 0 3.1 0a1.55 1.55 0 1 0 -3.1 0M744.0 622.9a1.55 1.55 0 1 0 3.1 0a1.55 1.55 0 1 0 -3.1 0M693.9 578.4a1.55 1.55 0 1 0 3.1 0a1.55 1.55 0 1 0 -3.1 0M651.3 618.4a1.55 1.55 0 1 0 3.1 0a1.55 1.55 0 1 0 -3.1 0M728.1 630.1a1.55 1.55 0 1 0 3.1 0a1.55 1.55 0 1 0 -3.1 0M738.2 586.5a1.55 1.55 0 1 0 3.1 0a1.55 1.55 0 1 0 -3.1 0M664.1 600.8a1.55 1.55 0 1 0 3.1 0a1.55 1.55 0 1 0 -3.1 0M703.1 594.8a1.55 1.55 0 1 0 3.1 0a1.55 1.55 0 1 0 -3.1 0M679.6 613.1a1.55 1.55 0 1 0 3.1 0a1.55 1.55 0 1 0 -3.1 0M673.4 618.5a1.55 1.55 0 1 0 3.1 0a1.55 1.55 0 1 0 -3.1 0M667.2 582.4a1.55 1.55 0 1 0 3.1 0a1.55 1.55 0 1 0 -3.1 0M734.4 614.5a1.55 1.55 0 1 0 3.1 0a1.55 1.55 0 1 0 -3.1 0M716.0 606.8a1.55 1.55 0 1 0 3.1 0a1.55 1.55 0 1 0 -3.1 0M677.1 615.1a1.55 1.55 0 1 0 3.1 0a1.55 1.55 0 1 0 -3.1 0M741.7 615.6a1.55 1.55 0 1 0 3.1 0a1.55 1.55 0 1 0 -3.1 0M705.2 580.0a1.55 1.55 0 1 0 3.1 0a1.55 1.55 0 1 0 -3.1 0M678.7 588.0a1.55 1.55 0 1 0 3.1 0a1.55 1.55 0 1 0 -3.1 0M661.4 592.5a1.55 1.55 0 1 0 3.1 0a1.55 1.55 0 1 0 -3.1 0M726.8 586.3a1.55 1.55 0 1 0 3.1 0a1.55 1.55 0 1 0 -3.1 0M742.6 593.8a1.55 1.55 0 1 0 3.1 0a1.55 1.55 0 1 0 -3.1 0M742.8 619.3a1.55 1.55 0 1 0 3.1 0a1.55 1.55 0 1 0 -3.1 0M699.9 623.1a1.55 1.55 0 1 0 3.1 0a1.55 1.55 0 1 0 -3.1 0M658.5 609.9a1.55 1.55 0 1 0 3.1 0a1.55 1.55 0 1 0 -3.1 0M718.5 589.8a1.55 1.55 0 1 0 3.1 0a1.55 1.55 0 1 0 -3.1 0M798.6 619.0a1.55 1.55 0 1 0 3.1 0a1.55 1.55 0 1 0 -3.1 0M779.0 591.3a1.55 1.55 0 1 0 3.1 0a1.55 1.55 0 1 0 -3.1 0M789.3 600.6a1.55 1.55 0 1 0 3.1 0a1.55 1.55 0 1 0 -3.1 0M784.9 602.9a1.55 1.55 0 1 0 3.1 0a1.55 1.55 0 1 0 -3.1 0M829.7 620.0a1.55 1.55 0 1 0 3.1 0a1.55 1.55 0 1 0 -3.1 0M794.0 595.2a1.55 1.55 0 1 0 3.1 0a1.55 1.55 0 1 0 -3.1 0M753.2 579.0a1.55 1.55 0 1 0 3.1 0a1.55 1.55 0 1 0 -3.1 0M792.0 621.3a1.55 1.55 0 1 0 3.1 0a1.55 1.55 0 1 0 -3.1 0M816.7 587.6a1.55 1.55 0 1 0 3.1 0a1.55 1.55 0 1 0 -3.1 0M804.5 581.7a1.55 1.55 0 1 0 3.1 0a1.55 1.55 0 1 0 -3.1 0M753.4 604.6a1.55 1.55 0 1 0 3.1 0a1.55 1.55 0 1 0 -3.1 0M815.1 581.7a1.55 1.55 0 1 0 3.1 0a1.55 1.55 0 1 0 -3.1 0M805.5 600.2a1.55 1.55 0 1 0 3.1 0a1.55 1.55 0 1 0 -3.1 0M781.6 602.0a1.55 1.55 0 1 0 3.1 0a1.55 1.55 0 1 0 -3.1 0M797.3 582.3a1.55 1.55 0 1 0 3.1 0a1.55 1.55 0 1 0 -3.1 0M823.0 592.3a1.55 1.55 0 1 0 3.1 0a1.55 1.55 0 1 0 -3.1 0M832.1 631.9a1.55 1.55 0 1 0 3.1 0a1.55 1.55 0 1 0 -3.1 0M817.6 608.4a1.55 1.55 0 1 0 3.1 0a1.55 1.55 0 1 0 -3.1 0M815.9 618.3a1.55 1.55 0 1 0 3.1 0a1.55 1.55 0 1 0 -3.1 0M789.1 587.1a1.55 1.55 0 1 0 3.1 0a1.55 1.55 0 1 0 -3.1 0M692.7 650.7a1.55 1.55 0 1 0 3.1 0a1.55 1.55 0 1 0 -3.1 0M672.4 654.1a1.55 1.55 0 1 0 3.1 0a1.55 1.55 0 1 0 -3.1 0M656.7 644.8a1.55 1.55 0 1 0 3.1 0a1.55 1.55 0 1 0 -3.1 0M712.1 639.2a1.55 1.55 0 1 0 3.1 0a1.55 1.55 0 1 0 -3.1 0M710.4 652.2a1.55 1.55 0 1 0 3.1 0a1.55 1.55 0 1 0 -3.1 0M726.0 649.8a1.55 1.55 0 1 0 3.1 0a1.55 1.55 0 1 0 -3.1 0M743.1 650.3a1.55 1.55 0 1 0 3.1 0a1.55 1.55 0 1 0 -3.1 0M724.9 640.8a1.55 1.55 0 1 0 3.1 0a1.55 1.55 0 1 0 -3.1 0M652.4 660.1a1.55 1.55 0 1 0 3.1 0a1.55 1.55 0 1 0 -3.1 0M674.9 664.6a1.55 1.55 0 1 0 3.1 0a1.55 1.55 0 1 0 -3.1 0M678.8 644.5a1.55 1.55 0 1 0 3.1 0a1.55 1.55 0 1 0 -3.1 0M723.7 658.8a1.55 1.55 0 1 0 3.1 0a1.55 1.55 0 1 0 -3.1 0M731.1 665.3a1.55 1.55 0 1 0 3.1 0a1.55 1.55 0 1 0 -3.1 0M656.8 650.8a1.55 1.55 0 1 0 3.1 0a1.55 1.55 0 1 0 -3.1 0M739.5 648.7a1.55 1.55 0 1 0 3.1 0a1.55 1.55 0 1 0 -3.1 0M782.9 664.1a1.55 1.55 0 1 0 3.1 0a1.55 1.55 0 1 0 -3.1 0M824.0 648.8a1.55 1.55 0 1 0 3.1 0a1.55 1.55 0 1 0 -3.1 0M779.0 659.9a1.55 1.55 0 1 0 3.1 0a1.55 1.55 0 1 0 -3.1 0M775.5 665.2a1.55 1.55 0 1 0 3.1 0a1.55 1.55 0 1 0 -3.1 0M819.1 664.7a1.55 1.55 0 1 0 3.1 0a1.55 1.55 0 1 0 -3.1 0M751.6 645.4a1.55 1.55 0 1 0 3.1 0a1.55 1.55 0 1 0 -3.1 0M774.6 659.1a1.55 1.55 0 1 0 3.1 0a1.55 1.55 0 1 0 -3.1 0M785.3 665.3a1.55 1.55 0 1 0 3.1 0a1.55 1.55 0 1 0 -3.1 0M805.9 665.3a1.55 1.55 0 1 0 3.1 0a1.55 1.55 0 1 0 -3.1 0M761.9 650.5a1.55 1.55 0 1 0 3.1 0a1.55 1.55 0 1 0 -3.1 0M807.4 647.4a1.55 1.55 0 1 0 3.1 0a1.55 1.55 0 1 0 -3.1 0M763.7 661.9a1.55 1.55 0 1 0 3.1 0a1.55 1.55 0 1 0 -3.1 0M580.1 282.3a1.55 1.55 0 1 0 3.1 0a1.55 1.55 0 1 0 -3.1 0M586.3 296.2a1.55 1.55 0 1 0 3.1 0a1.55 1.55 0 1 0 -3.1 0M559.4 307.5a1.55 1.55 0 1 0 3.1 0a1.55 1.55 0 1 0 -3.1 0M596.4 289.1a1.55 1.55 0 1 0 3.1 0a1.55 1.55 0 1 0 -3.1 0M595.7 294.0a1.55 1.55 0 1 0 3.1 0a1.55 1.55 0 1 0 -3.1 0M583.5 295.4a1.55 1.55 0 1 0 3.1 0a1.55 1.55 0 1 0 -3.1 0M627.5 292.4a1.55 1.55 0 1 0 3.1 0a1.55 1.55 0 1 0 -3.1 0M621.1 306.6a1.55 1.55 0 1 0 3.1 0a1.55 1.55 0 1 0 -3.1 0M633.0 296.7a1.55 1.55 0 1 0 3.1 0a1.55 1.55 0 1 0 -3.1 0M619.8 303.4a1.55 1.55 0 1 0 3.1 0a1.55 1.55 0 1 0 -3.1 0M636.3 301.7a1.55 1.55 0 1 0 3.1 0a1.55 1.55 0 1 0 -3.1 0M630.6 303.4a1.55 1.55 0 1 0 3.1 0a1.55 1.55 0 1 0 -3.1 0M639.0 300.0a1.55 1.55 0 1 0 3.1 0a1.55 1.55 0 1 0 -3.1 0M626.0 283.7a1.55 1.55 0 1 0 3.1 0a1.55 1.55 0 1 0 -3.1 0M592.8 313.8a1.55 1.55 0 1 0 3.1 0a1.55 1.55 0 1 0 -3.1 0M573.5 312.9a1.55 1.55 0 1 0 3.1 0a1.55 1.55 0 1 0 -3.1 0M646.0 335.8a1.55 1.55 0 1 0 3.1 0a1.55 1.55 0 1 0 -3.1 0M639.9 332.4a1.55 1.55 0 1 0 3.1 0a1.55 1.55 0 1 0 -3.1 0M612.1 334.8a1.55 1.55 0 1 0 3.1 0a1.55 1.55 0 1 0 -3.1 0M630.5 332.3a1.55 1.55 0 1 0 3.1 0a1.55 1.55 0 1 0 -3.1 0M614.9 337.7a1.55 1.55 0 1 0 3.1 0a1.55 1.55 0 1 0 -3.1 0M618.8 317.7a1.55 1.55 0 1 0 3.1 0a1.55 1.55 0 1 0 -3.1 0M604.5 326.3a1.55 1.55 0 1 0 3.1 0a1.55 1.55 0 1 0 -3.1 0M631.9 339.1a1.55 1.55 0 1 0 3.1 0a1.55 1.55 0 1 0 -3.1 0M617.3 313.8a1.55 1.55 0 1 0 3.1 0a1.55 1.55 0 1 0 -3.1 0M650.4 315.5a1.55 1.55 0 1 0 3.1 0a1.55 1.55 0 1 0 -3.1 0M611.5 318.0a1.55 1.55 0 1 0 3.1 0a1.55 1.55 0 1 0 -3.1 0M624.7 335.5a1.55 1.55 0 1 0 3.1 0a1.55 1.55 0 1 0 -3.1 0M586.7 343.7a1.55 1.55 0 1 0 3.1 0a1.55 1.55 0 1 0 -3.1 0M569.9 341.1a1.55 1.55 0 1 0 3.1 0a1.55 1.55 0 1 0 -3.1 0M619.4 344.8a1.55 1.55 0 1 0 3.1 0a1.55 1.55 0 1 0 -3.1 0M635.9 349.3a1.55 1.55 0 1 0 3.1 0a1.55 1.55 0 1 0 -3.1 0M650.2 369.4a1.55 1.55 0 1 0 3.1 0a1.55 1.55 0 1 0 -3.1 0M634.8 348.1a1.55 1.55 0 1 0 3.1 0a1.55 1.55 0 1 0 -3.1 0M638.8 349.0a1.55 1.55 0 1 0 3.1 0a1.55 1.55 0 1 0 -3.1 0M606.9 367.6a1.55 1.55 0 1 0 3.1 0a1.55 1.55 0 1 0 -3.1 0M639.9 352.0a1.55 1.55 0 1 0 3.1 0a1.55 1.55 0 1 0 -3.1 0M615.9 369.8a1.55 1.55 0 1 0 3.1 0a1.55 1.55 0 1 0 -3.1 0M628.6 367.4a1.55 1.55 0 1 0 3.1 0a1.55 1.55 0 1 0 -3.1 0M638.8 360.0a1.55 1.55 0 1 0 3.1 0a1.55 1.55 0 1 0 -3.1 0M595.0 391.8a1.55 1.55 0 1 0 3.1 0a1.55 1.55 0 1 0 -3.1 0M560.0 385.8a1.55 1.55 0 1 0 3.1 0a1.55 1.55 0 1 0 -3.1 0M564.3 399.0a1.55 1.55 0 1 0 3.1 0a1.55 1.55 0 1 0 -3.1 0M636.4 376.6a1.55 1.55 0 1 0 3.1 0a1.55 1.55 0 1 0 -3.1 0M642.9 381.4a1.55 1.55 0 1 0 3.1 0a1.55 1.55 0 1 0 -3.1 0M643.4 380.2a1.55 1.55 0 1 0 3.1 0a1.55 1.55 0 1 0 -3.1 0M647.2 373.1a1.55 1.55 0 1 0 3.1 0a1.55 1.55 0 1 0 -3.1 0M605.5 391.7a1.55 1.55 0 1 0 3.1 0a1.55 1.55 0 1 0 -3.1 0M621.8 392.2a1.55 1.55 0 1 0 3.1 0a1.55 1.55 0 1 0 -3.1 0M611.8 373.8a1.55 1.55 0 1 0 3.1 0a1.55 1.55 0 1 0 -3.1 0M604.7 394.3a1.55 1.55 0 1 0 3.1 0a1.55 1.55 0 1 0 -3.1 0M639.3 393.0a1.55 1.55 0 1 0 3.1 0a1.55 1.55 0 1 0 -3.1 0M615.7 371.1a1.55 1.55 0 1 0 3.1 0a1.55 1.55 0 1 0 -3.1 0M639.5 386.4a1.55 1.55 0 1 0 3.1 0a1.55 1.55 0 1 0 -3.1 0M609.9 391.7a1.55 1.55 0 1 0 3.1 0a1.55 1.55 0 1 0 -3.1 0M649.8 376.3a1.55 1.55 0 1 0 3.1 0a1.55 1.55 0 1 0 -3.1 0M606.8 378.8a1.55 1.55 0 1 0 3.1 0a1.55 1.55 0 1 0 -3.1 0M621.2 378.4a1.55 1.55 0 1 0 3.1 0a1.55 1.55 0 1 0 -3.1 0M617.4 395.8a1.55 1.55 0 1 0 3.1 0a1.55 1.55 0 1 0 -3.1 0M583.0 422.6a1.55 1.55 0 1 0 3.1 0a1.55 1.55 0 1 0 -3.1 0M568.9 421.3a1.55 1.55 0 1 0 3.1 0a1.55 1.55 0 1 0 -3.1 0M568.6 413.9a1.55 1.55 0 1 0 3.1 0a1.55 1.55 0 1 0 -3.1 0M622.8 412.5a1.55 1.55 0 1 0 3.1 0a1.55 1.55 0 1 0 -3.1 0M629.4 402.8a1.55 1.55 0 1 0 3.1 0a1.55 1.55 0 1 0 -3.1 0M640.5 425.6a1.55 1.55 0 1 0 3.1 0a1.55 1.55 0 1 0 -3.1 0M642.8 412.9a1.55 1.55 0 1 0 3.1 0a1.55 1.55 0 1 0 -3.1 0M635.5 424.4a1.55 1.55 0 1 0 3.1 0a1.55 1.55 0 1 0 -3.1 0M625.7 408.5a1.55 1.55 0 1 0 3.1 0a1.55 1.55 0 1 0 -3.1 0M641.1 405.4a1.55 1.55 0 1 0 3.1 0a1.55 1.55 0 1 0 -3.1 0M613.7 404.6a1.55 1.55 0 1 0 3.1 0a1.55 1.55 0 1 0 -3.1 0M566.8 446.0a1.55 1.55 0 1 0 3.1 0a1.55 1.55 0 1 0 -3.1 0M580.2 457.7a1.55 1.55 0 1 0 3.1 0a1.55 1.55 0 1 0 -3.1 0M574.9 450.3a1.55 1.55 0 1 0 3.1 0a1.55 1.55 0 1 0 -3.1 0M586.2 434.7a1.55 1.55 0 1 0 3.1 0a1.55 1.55 0 1 0 -3.1 0M642.0 441.1a1.55 1.55 0 1 0 3.1 0a1.55 1.55 0 1 0 -3.1 0M646.2 451.5a1.55 1.55 0 1 0 3.1 0a1.55 1.55 0 1 0 -3.1 0M624.4 438.9a1.55 1.55 0 1 0 3.1 0a1.55 1.55 0 1 0 -3.1 0M613.6 437.6a1.55 1.55 0 1 0 3.1 0a1.55 1.55 0 1 0 -3.1 0M615.9 437.7a1.55 1.55 0 1 0 3.1 0a1.55 1.55 0 1 0 -3.1 0M641.4 446.1a1.55 1.55 0 1 0 3.1 0a1.55 1.55 0 1 0 -3.1 0M650.2 440.0a1.55 1.55 0 1 0 3.1 0a1.55 1.55 0 1 0 -3.1 0M639.2 458.1a1.55 1.55 0 1 0 3.1 0a1.55 1.55 0 1 0 -3.1 0M608.8 437.7a1.55 1.55 0 1 0 3.1 0a1.55 1.55 0 1 0 -3.1 0M648.0 440.1a1.55 1.55 0 1 0 3.1 0a1.55 1.55 0 1 0 -3.1 0M646.5 456.9a1.55 1.55 0 1 0 3.1 0a1.55 1.55 0 1 0 -3.1 0M645.5 432.8a1.55 1.55 0 1 0 3.1 0a1.55 1.55 0 1 0 -3.1 0M633.1 446.0a1.55 1.55 0 1 0 3.1 0a1.55 1.55 0 1 0 -3.1 0M636.7 451.5a1.55 1.55 0 1 0 3.1 0a1.55 1.55 0 1 0 -3.1 0M575.7 473.2a1.55 1.55 0 1 0 3.1 0a1.55 1.55 0 1 0 -3.1 0M600.5 481.7a1.55 1.55 0 1 0 3.1 0a1.55 1.55 0 1 0 -3.1 0M602.0 476.5a1.55 1.55 0 1 0 3.1 0a1.55 1.55 0 1 0 -3.1 0M568.0 481.3a1.55 1.55 0 1 0 3.1 0a1.55 1.55 0 1 0 -3.1 0M633.8 487.6a1.55 1.55 0 1 0 3.1 0a1.55 1.55 0 1 0 -3.1 0M615.1 458.7a1.55 1.55 0 1 0 3.1 0a1.55 1.55 0 1 0 -3.1 0M619.1 460.2a1.55 1.55 0 1 0 3.1 0a1.55 1.55 0 1 0 -3.1 0M626.7 481.6a1.55 1.55 0 1 0 3.1 0a1.55 1.55 0 1 0 -3.1 0M603.6 481.8a1.55 1.55 0 1 0 3.1 0a1.55 1.55 0 1 0 -3.1 0M618.6 475.2a1.55 1.55 0 1 0 3.1 0a1.55 1.55 0 1 0 -3.1 0M624.6 472.0a1.55 1.55 0 1 0 3.1 0a1.55 1.55 0 1 0 -3.1 0M625.8 487.2a1.55 1.55 0 1 0 3.1 0a1.55 1.55 0 1 0 -3.1 0M616.1 459.8a1.55 1.55 0 1 0 3.1 0a1.55 1.55 0 1 0 -3.1 0M604.8 466.5a1.55 1.55 0 1 0 3.1 0a1.55 1.55 0 1 0 -3.1 0M625.9 467.3a1.55 1.55 0 1 0 3.1 0a1.55 1.55 0 1 0 -3.1 0M619.2 477.3a1.55 1.55 0 1 0 3.1 0a1.55 1.55 0 1 0 -3.1 0M578.7 499.8a1.55 1.55 0 1 0 3.1 0a1.55 1.55 0 1 0 -3.1 0M559.0 494.4a1.55 1.55 0 1 0 3.1 0a1.55 1.55 0 1 0 -3.1 0M590.1 490.1a1.55 1.55 0 1 0 3.1 0a1.55 1.55 0 1 0 -3.1 0M573.9 503.9a1.55 1.55 0 1 0 3.1 0a1.55 1.55 0 1 0 -3.1 0M599.3 505.6a1.55 1.55 0 1 0 3.1 0a1.55 1.55 0 1 0 -3.1 0M595.7 505.3a1.55 1.55 0 1 0 3.1 0a1.55 1.55 0 1 0 -3.1 0M647.4 515.5a1.55 1.55 0 1 0 3.1 0a1.55 1.55 0 1 0 -3.1 0M635.6 508.7a1.55 1.55 0 1 0 3.1 0a1.55 1.55 0 1 0 -3.1 0M612.8 510.4a1.55 1.55 0 1 0 3.1 0a1.55 1.55 0 1 0 -3.1 0M636.0 517.2a1.55 1.55 0 1 0 3.1 0a1.55 1.55 0 1 0 -3.1 0M644.3 500.9a1.55 1.55 0 1 0 3.1 0a1.55 1.55 0 1 0 -3.1 0M614.6 511.5a1.55 1.55 0 1 0 3.1 0a1.55 1.55 0 1 0 -3.1 0M634.4 499.1a1.55 1.55 0 1 0 3.1 0a1.55 1.55 0 1 0 -3.1 0M618.5 507.8a1.55 1.55 0 1 0 3.1 0a1.55 1.55 0 1 0 -3.1 0M625.3 490.8a1.55 1.55 0 1 0 3.1 0a1.55 1.55 0 1 0 -3.1 0M628.9 492.9a1.55 1.55 0 1 0 3.1 0a1.55 1.55 0 1 0 -3.1 0M633.7 501.1a1.55 1.55 0 1 0 3.1 0a1.55 1.55 0 1 0 -3.1 0M626.6 497.6a1.55 1.55 0 1 0 3.1 0a1.55 1.55 0 1 0 -3.1 0M655.5 176.6a1.55 1.55 0 1 0 3.1 0a1.55 1.55 0 1 0 -3.1 0M671.7 171.9a1.55 1.55 0 1 0 3.1 0a1.55 1.55 0 1 0 -3.1 0M680.8 164.9a1.55 1.55 0 1 0 3.1 0a1.55 1.55 0 1 0 -3.1 0M666.7 166.9a1.55 1.55 0 1 0 3.1 0a1.55 1.55 0 1 0 -3.1 0M718.9 174.3a1.55 1.55 0 1 0 3.1 0a1.55 1.55 0 1 0 -3.1 0M703.0 177.3a1.55 1.55 0 1 0 3.1 0a1.55 1.55 0 1 0 -3.1 0M702.3 186.3a1.55 1.55 0 1 0 3.1 0a1.55 1.55 0 1 0 -3.1 0M727.2 164.3a1.55 1.55 0 1 0 3.1 0a1.55 1.55 0 1 0 -3.1 0M745.0 185.3a1.55 1.55 0 1 0 3.1 0a1.55 1.55 0 1 0 -3.1 0M704.7 177.7a1.55 1.55 0 1 0 3.1 0a1.55 1.55 0 1 0 -3.1 0M718.6 181.8a1.55 1.55 0 1 0 3.1 0a1.55 1.55 0 1 0 -3.1 0M694.4 194.6a1.55 1.55 0 1 0 3.1 0a1.55 1.55 0 1 0 -3.1 0M696.9 197.1a1.55 1.55 0 1 0 3.1 0a1.55 1.55 0 1 0 -3.1 0M655.6 209.2a1.55 1.55 0 1 0 3.1 0a1.55 1.55 0 1 0 -3.1 0M687.5 213.8a1.55 1.55 0 1 0 3.1 0a1.55 1.55 0 1 0 -3.1 0M679.3 220.9a1.55 1.55 0 1 0 3.1 0a1.55 1.55 0 1 0 -3.1 0M660.3 210.7a1.55 1.55 0 1 0 3.1 0a1.55 1.55 0 1 0 -3.1 0M654.0 210.0a1.55 1.55 0 1 0 3.1 0a1.55 1.55 0 1 0 -3.1 0M661.5 197.1a1.55 1.55 0 1 0 3.1 0a1.55 1.55 0 1 0 -3.1 0M665.7 211.3a1.55 1.55 0 1 0 3.1 0a1.55 1.55 0 1 0 -3.1 0M688.5 206.0a1.55 1.55 0 1 0 3.1 0a1.55 1.55 0 1 0 -3.1 0M738.5 202.0a1.55 1.55 0 1 0 3.1 0a1.55 1.55 0 1 0 -3.1 0M708.1 195.5a1.55 1.55 0 1 0 3.1 0a1.55 1.55 0 1 0 -3.1 0M711.6 199.2a1.55 1.55 0 1 0 3.1 0a1.55 1.55 0 1 0 -3.1 0M701.4 209.0a1.55 1.55 0 1 0 3.1 0a1.55 1.55 0 1 0 -3.1 0M721.7 196.0a1.55 1.55 0 1 0 3.1 0a1.55 1.55 0 1 0 -3.1 0M737.3 206.4a1.55 1.55 0 1 0 3.1 0a1.55 1.55 0 1 0 -3.1 0M700.3 209.8a1.55 1.55 0 1 0 3.1 0a1.55 1.55 0 1 0 -3.1 0M715.5 193.1a1.55 1.55 0 1 0 3.1 0a1.55 1.55 0 1 0 -3.1 0M729.9 210.5a1.55 1.55 0 1 0 3.1 0a1.55 1.55 0 1 0 -3.1 0M715.0 199.8a1.55 1.55 0 1 0 3.1 0a1.55 1.55 0 1 0 -3.1 0M702.3 198.4a1.55 1.55 0 1 0 3.1 0a1.55 1.55 0 1 0 -3.1 0M729.5 209.6a1.55 1.55 0 1 0 3.1 0a1.55 1.55 0 1 0 -3.1 0M671.4 227.7a1.55 1.55 0 1 0 3.1 0a1.55 1.55 0 1 0 -3.1 0M660.3 237.2a1.55 1.55 0 1 0 3.1 0a1.55 1.55 0 1 0 -3.1 0M696.8 227.6a1.55 1.55 0 1 0 3.1 0a1.55 1.55 0 1 0 -3.1 0M693.2 232.1a1.55 1.55 0 1 0 3.1 0a1.55 1.55 0 1 0 -3.1 0M678.4 234.8a1.55 1.55 0 1 0 3.1 0a1.55 1.55 0 1 0 -3.1 0M679.0 238.3a1.55 1.55 0 1 0 3.1 0a1.55 1.55 0 1 0 -3.1 0M667.7 245.0a1.55 1.55 0 1 0 3.1 0a1.55 1.55 0 1 0 -3.1 0M653.7 241.1a1.55 1.55 0 1 0 3.1 0a1.55 1.55 0 1 0 -3.1 0M687.0 235.7a1.55 1.55 0 1 0 3.1 0a1.55 1.55 0 1 0 -3.1 0M658.4 228.0a1.55 1.55 0 1 0 3.1 0a1.55 1.55 0 1 0 -3.1 0M707.3 241.0a1.55 1.55 0 1 0 3.1 0a1.55 1.55 0 1 0 -3.1 0M715.0 225.6a1.55 1.55 0 1 0 3.1 0a1.55 1.55 0 1 0 -3.1 0M722.6 250.1a1.55 1.55 0 1 0 3.1 0a1.55 1.55 0 1 0 -3.1 0M731.5 237.3a1.55 1.55 0 1 0 3.1 0a1.55 1.55 0 1 0 -3.1 0M736.2 250.6a1.55 1.55 0 1 0 3.1 0a1.55 1.55 0 1 0 -3.1 0M738.6 225.7a1.55 1.55 0 1 0 3.1 0a1.55 1.55 0 1 0 -3.1 0M698.2 237.9a1.55 1.55 0 1 0 3.1 0a1.55 1.55 0 1 0 -3.1 0M703.6 236.4a1.55 1.55 0 1 0 3.1 0a1.55 1.55 0 1 0 -3.1 0M652.5 274.0a1.55 1.55 0 1 0 3.1 0a1.55 1.55 0 1 0 -3.1 0M666.1 264.3a1.55 1.55 0 1 0 3.1 0a1.55 1.55 0 1 0 -3.1 0M668.1 278.3a1.55 1.55 0 1 0 3.1 0a1.55 1.55 0 1 0 -3.1 0M677.6 260.2a1.55 1.55 0 1 0 3.1 0a1.55 1.55 0 1 0 -3.1 0M683.9 267.1a1.55 1.55 0 1 0 3.1 0a1.55 1.55 0 1 0 -3.1 0M665.1 281.2a1.55 1.55 0 1 0 3.1 0a1.55 1.55 0 1 0 -3.1 0M675.8 263.0a1.55 1.55 0 1 0 3.1 0a1.55 1.55 0 1 0 -3.1 0M671.5 253.2a1.55 1.55 0 1 0 3.1 0a1.55 1.55 0 1 0 -3.1 0M660.2 257.5a1.55 1.55 0 1 0 3.1 0a1.55 1.55 0 1 0 -3.1 0M684.6 255.0a1.55 1.55 0 1 0 3.1 0a1.55 1.55 0 1 0 -3.1 0M694.3 274.6a1.55 1.55 0 1 0 3.1 0a1.55 1.55 0 1 0 -3.1 0M694.1 269.6a1.55 1.55 0 1 0 3.1 0a1.55 1.55 0 1 0 -3.1 0M682.7 253.4a1.55 1.55 0 1 0 3.1 0a1.55 1.55 0 1 0 -3.1 0M678.7 264.3a1.55 1.55 0 1 0 3.1 0a1.55 1.55 0 1 0 -3.1 0M654.0 263.9a1.55 1.55 0 1 0 3.1 0a1.55 1.55 0 1 0 -3.1 0M731.7 280.3a1.55 1.55 0 1 0 3.1 0a1.55 1.55 0 1 0 -3.1 0M716.0 258.9a1.55 1.55 0 1 0 3.1 0a1.55 1.55 0 1 0 -3.1 0M722.7 261.7a1.55 1.55 0 1 0 3.1 0a1.55 1.55 0 1 0 -3.1 0M744.5 261.6a1.55 1.55 0 1 0 3.1 0a1.55 1.55 0 1 0 -3.1 0M723.6 256.6a1.55 1.55 0 1 0 3.1 0a1.55 1.55 0 1 0 -3.1 0M718.1 281.2a1.55 1.55 0 1 0 3.1 0a1.55 1.55 0 1 0 -3.1 0M710.7 264.0a1.55 1.55 0 1 0 3.1 0a1.55 1.55 0 1 0 -3.1 0M742.6 263.6a1.55 1.55 0 1 0 3.1 0a1.55 1.55 0 1 0 -3.1 0M665.5 307.9a1.55 1.55 0 1 0 3.1 0a1.55 1.55 0 1 0 -3.1 0M690.1 306.2a1.55 1.55 0 1 0 3.1 0a1.55 1.55 0 1 0 -3.1 0M673.8 298.1a1.55 1.55 0 1 0 3.1 0a1.55 1.55 0 1 0 -3.1 0M693.2 294.6a1.55 1.55 0 1 0 3.1 0a1.55 1.55 0 1 0 -3.1 0M670.7 282.2a1.55 1.55 0 1 0 3.1 0a1.55 1.55 0 1 0 -3.1 0M667.3 289.6a1.55 1.55 0 1 0 3.1 0a1.55 1.55 0 1 0 -3.1 0M661.7 288.7a1.55 1.55 0 1 0 3.1 0a1.55 1.55 0 1 0 -3.1 0M686.1 286.6a1.55 1.55 0 1 0 3.1 0a1.55 1.55 0 1 0 -3.1 0M673.5 304.5a1.55 1.55 0 1 0 3.1 0a1.55 1.55 0 1 0 -3.1 0M680.5 284.2a1.55 1.55 0 1 0 3.1 0a1.55 1.55 0 1 0 -3.1 0M665.3 310.5a1.55 1.55 0 1 0 3.1 0a1.55 1.55 0 1 0 -3.1 0M659.4 283.5a1.55 1.55 0 1 0 3.1 0a1.55 1.55 0 1 0 -3.1 0M650.9 309.5a1.55 1.55 0 1 0 3.1 0a1.55 1.55 0 1 0 -3.1 0M655.3 284.7a1.55 1.55 0 1 0 3.1 0a1.55 1.55 0 1 0 -3.1 0M668.7 290.6a1.55 1.55 0 1 0 3.1 0a1.55 1.55 0 1 0 -3.1 0M683.9 298.2a1.55 1.55 0 1 0 3.1 0a1.55 1.55 0 1 0 -3.1 0M685.2 297.4a1.55 1.55 0 1 0 3.1 0a1.55 1.55 0 1 0 -3.1 0M676.2 302.0a1.55 1.55 0 1 0 3.1 0a1.55 1.55 0 1 0 -3.1 0M650.7 293.5a1.55 1.55 0 1 0 3.1 0a1.55 1.55 0 1 0 -3.1 0M663.2 302.9a1.55 1.55 0 1 0 3.1 0a1.55 1.55 0 1 0 -3.1 0M692.1 300.4a1.55 1.55 0 1 0 3.1 0a1.55 1.55 0 1 0 -3.1 0M655.5 292.5a1.55 1.55 0 1 0 3.1 0a1.55 1.55 0 1 0 -3.1 0M676.0 309.4a1.55 1.55 0 1 0 3.1 0a1.55 1.55 0 1 0 -3.1 0M667.1 293.0a1.55 1.55 0 1 0 3.1 0a1.55 1.55 0 1 0 -3.1 0M663.8 281.9a1.55 1.55 0 1 0 3.1 0a1.55 1.55 0 1 0 -3.1 0M716.0 289.1a1.55 1.55 0 1 0 3.1 0a1.55 1.55 0 1 0 -3.1 0M713.4 300.3a1.55 1.55 0 1 0 3.1 0a1.55 1.55 0 1 0 -3.1 0M740.7 305.0a1.55 1.55 0 1 0 3.1 0a1.55 1.55 0 1 0 -3.1 0M709.2 284.9a1.55 1.55 0 1 0 3.1 0a1.55 1.55 0 1 0 -3.1 0M710.8 301.3a1.55 1.55 0 1 0 3.1 0a1.55 1.55 0 1 0 -3.1 0M739.4 301.6a1.55 1.55 0 1 0 3.1 0a1.55 1.55 0 1 0 -3.1 0M744.8 286.8a1.55 1.55 0 1 0 3.1 0a1.55 1.55 0 1 0 -3.1 0M737.8 304.4a1.55 1.55 0 1 0 3.1 0a1.55 1.55 0 1 0 -3.1 0M708.1 288.8a1.55 1.55 0 1 0 3.1 0a1.55 1.55 0 1 0 -3.1 0M736.8 304.4a1.55 1.55 0 1 0 3.1 0a1.55 1.55 0 1 0 -3.1 0M707.5 303.9a1.55 1.55 0 1 0 3.1 0a1.55 1.55 0 1 0 -3.1 0M704.3 298.6a1.55 1.55 0 1 0 3.1 0a1.55 1.55 0 1 0 -3.1 0M688.1 321.4a1.55 1.55 0 1 0 3.1 0a1.55 1.55 0 1 0 -3.1 0M668.5 328.7a1.55 1.55 0 1 0 3.1 0a1.55 1.55 0 1 0 -3.1 0M664.9 316.8a1.55 1.55 0 1 0 3.1 0a1.55 1.55 0 1 0 -3.1 0M688.5 326.1a1.55 1.55 0 1 0 3.1 0a1.55 1.55 0 1 0 -3.1 0M691.3 321.3a1.55 1.55 0 1 0 3.1 0a1.55 1.55 0 1 0 -3.1 0M683.0 332.6a1.55 1.55 0 1 0 3.1 0a1.55 1.55 0 1 0 -3.1 0M662.0 333.9a1.55 1.55 0 1 0 3.1 0a1.55 1.55 0 1 0 -3.1 0M693.7 317.0a1.55 1.55 0 1 0 3.1 0a1.55 1.55 0 1 0 -3.1 0M693.1 316.3a1.55 1.55 0 1 0 3.1 0a1.55 1.55 0 1 0 -3.1 0M688.6 327.7a1.55 1.55 0 1 0 3.1 0a1.55 1.55 0 1 0 -3.1 0M686.8 335.7a1.55 1.55 0 1 0 3.1 0a1.55 1.55 0 1 0 -3.1 0M681.6 339.3a1.55 1.55 0 1 0 3.1 0a1.55 1.55 0 1 0 -3.1 0M696.2 314.6a1.55 1.55 0 1 0 3.1 0a1.55 1.55 0 1 0 -3.1 0M658.4 317.9a1.55 1.55 0 1 0 3.1 0a1.55 1.55 0 1 0 -3.1 0M689.5 339.3a1.55 1.55 0 1 0 3.1 0a1.55 1.55 0 1 0 -3.1 0M677.4 328.2a1.55 1.55 0 1 0 3.1 0a1.55 1.55 0 1 0 -3.1 0M679.8 314.4a1.55 1.55 0 1 0 3.1 0a1.55 1.55 0 1 0 -3.1 0M684.8 334.3a1.55 1.55 0 1 0 3.1 0a1.55 1.55 0 1 0 -3.1 0M676.8 324.0a1.55 1.55 0 1 0 3.1 0a1.55 1.55 0 1 0 -3.1 0M651.2 336.7a1.55 1.55 0 1 0 3.1 0a1.55 1.55 0 1 0 -3.1 0M667.6 335.3a1.55 1.55 0 1 0 3.1 0a1.55 1.55 0 1 0 -3.1 0M661.8 320.6a1.55 1.55 0 1 0 3.1 0a1.55 1.55 0 1 0 -3.1 0M696.0 327.1a1.55 1.55 0 1 0 3.1 0a1.55 1.55 0 1 0 -3.1 0M681.1 318.1a1.55 1.55 0 1 0 3.1 0a1.55 1.55 0 1 0 -3.1 0M682.4 321.2a1.55 1.55 0 1 0 3.1 0a1.55 1.55 0 1 0 -3.1 0M650.7 314.9a1.55 1.55 0 1 0 3.1 0a1.55 1.55 0 1 0 -3.1 0M658.3 335.3a1.55 1.55 0 1 0 3.1 0a1.55 1.55 0 1 0 -3.1 0M674.7 323.3a1.55 1.55 0 1 0 3.1 0a1.55 1.55 0 1 0 -3.1 0M686.3 331.9a1.55 1.55 0 1 0 3.1 0a1.55 1.55 0 1 0 -3.1 0M695.2 322.0a1.55 1.55 0 1 0 3.1 0a1.55 1.55 0 1 0 -3.1 0M690.5 326.5a1.55 1.55 0 1 0 3.1 0a1.55 1.55 0 1 0 -3.1 0M654.0 340.2a1.55 1.55 0 1 0 3.1 0a1.55 1.55 0 1 0 -3.1 0M680.8 328.0a1.55 1.55 0 1 0 3.1 0a1.55 1.55 0 1 0 -3.1 0M671.4 331.0a1.55 1.55 0 1 0 3.1 0a1.55 1.55 0 1 0 -3.1 0M659.1 326.6a1.55 1.55 0 1 0 3.1 0a1.55 1.55 0 1 0 -3.1 0M662.7 314.2a1.55 1.55 0 1 0 3.1 0a1.55 1.55 0 1 0 -3.1 0M659.1 312.0a1.55 1.55 0 1 0 3.1 0a1.55 1.55 0 1 0 -3.1 0M691.2 329.3a1.55 1.55 0 1 0 3.1 0a1.55 1.55 0 1 0 -3.1 0M687.1 323.4a1.55 1.55 0 1 0 3.1 0a1.55 1.55 0 1 0 -3.1 0M672.6 316.6a1.55 1.55 0 1 0 3.1 0a1.55 1.55 0 1 0 -3.1 0M689.8 334.6a1.55 1.55 0 1 0 3.1 0a1.55 1.55 0 1 0 -3.1 0M693.4 339.6a1.55 1.55 0 1 0 3.1 0a1.55 1.55 0 1 0 -3.1 0M650.9 326.3a1.55 1.55 0 1 0 3.1 0a1.55 1.55 0 1 0 -3.1 0M664.9 328.1a1.55 1.55 0 1 0 3.1 0a1.55 1.55 0 1 0 -3.1 0M673.2 326.8a1.55 1.55 0 1 0 3.1 0a1.55 1.55 0 1 0 -3.1 0M712.5 335.6a1.55 1.55 0 1 0 3.1 0a1.55 1.55 0 1 0 -3.1 0M714.9 335.7a1.55 1.55 0 1 0 3.1 0a1.55 1.55 0 1 0 -3.1 0M737.6 337.7a1.55 1.55 0 1 0 3.1 0a1.55 1.55 0 1 0 -3.1 0M732.8 330.7a1.55 1.55 0 1 0 3.1 0a1.55 1.55 0 1 0 -3.1 0M732.2 317.8a1.55 1.55 0 1 0 3.1 0a1.55 1.55 0 1 0 -3.1 0M704.2 318.2a1.55 1.55 0 1 0 3.1 0a1.55 1.55 0 1 0 -3.1 0M742.4 323.8a1.55 1.55 0 1 0 3.1 0a1.55 1.55 0 1 0 -3.1 0M728.2 331.1a1.55 1.55 0 1 0 3.1 0a1.55 1.55 0 1 0 -3.1 0M706.1 318.6a1.55 1.55 0 1 0 3.1 0a1.55 1.55 0 1 0 -3.1 0M736.5 334.5a1.55 1.55 0 1 0 3.1 0a1.55 1.55 0 1 0 -3.1 0M703.2 330.2a1.55 1.55 0 1 0 3.1 0a1.55 1.55 0 1 0 -3.1 0M727.4 329.8a1.55 1.55 0 1 0 3.1 0a1.55 1.55 0 1 0 -3.1 0M743.3 317.2a1.55 1.55 0 1 0 3.1 0a1.55 1.55 0 1 0 -3.1 0M741.0 322.9a1.55 1.55 0 1 0 3.1 0a1.55 1.55 0 1 0 -3.1 0M733.5 312.5a1.55 1.55 0 1 0 3.1 0a1.55 1.55 0 1 0 -3.1 0M699.5 323.6a1.55 1.55 0 1 0 3.1 0a1.55 1.55 0 1 0 -3.1 0M706.6 317.1a1.55 1.55 0 1 0 3.1 0a1.55 1.55 0 1 0 -3.1 0M708.8 318.7a1.55 1.55 0 1 0 3.1 0a1.55 1.55 0 1 0 -3.1 0M713.5 321.3a1.55 1.55 0 1 0 3.1 0a1.55 1.55 0 1 0 -3.1 0M729.8 313.8a1.55 1.55 0 1 0 3.1 0a1.55 1.55 0 1 0 -3.1 0M696.3 351.5a1.55 1.55 0 1 0 3.1 0a1.55 1.55 0 1 0 -3.1 0M651.9 369.0a1.55 1.55 0 1 0 3.1 0a1.55 1.55 0 1 0 -3.1 0M672.5 346.8a1.55 1.55 0 1 0 3.1 0a1.55 1.55 0 1 0 -3.1 0M692.5 359.0a1.55 1.55 0 1 0 3.1 0a1.55 1.55 0 1 0 -3.1 0M675.0 355.0a1.55 1.55 0 1 0 3.1 0a1.55 1.55 0 1 0 -3.1 0M655.1 370.1a1.55 1.55 0 1 0 3.1 0a1.55 1.55 0 1 0 -3.1 0M675.4 355.2a1.55 1.55 0 1 0 3.1 0a1.55 1.55 0 1 0 -3.1 0M691.4 364.7a1.55 1.55 0 1 0 3.1 0a1.55 1.55 0 1 0 -3.1 0M690.9 362.1a1.55 1.55 0 1 0 3.1 0a1.55 1.55 0 1 0 -3.1 0M676.1 349.2a1.55 1.55 0 1 0 3.1 0a1.55 1.55 0 1 0 -3.1 0M657.5 342.2a1.55 1.55 0 1 0 3.1 0a1.55 1.55 0 1 0 -3.1 0M695.8 341.5a1.55 1.55 0 1 0 3.1 0a1.55 1.55 0 1 0 -3.1 0M650.8 351.1a1.55 1.55 0 1 0 3.1 0a1.55 1.55 0 1 0 -3.1 0M682.3 344.1a1.55 1.55 0 1 0 3.1 0a1.55 1.55 0 1 0 -3.1 0M660.2 366.4a1.55 1.55 0 1 0 3.1 0a1.55 1.55 0 1 0 -3.1 0M688.8 362.4a1.55 1.55 0 1 0 3.1 0a1.55 1.55 0 1 0 -3.1 0M653.8 367.4a1.55 1.55 0 1 0 3.1 0a1.55 1.55 0 1 0 -3.1 0M681.1 354.3a1.55 1.55 0 1 0 3.1 0a1.55 1.55 0 1 0 -3.1 0M685.9 346.3a1.55 1.55 0 1 0 3.1 0a1.55 1.55 0 1 0 -3.1 0M650.8 342.6a1.55 1.55 0 1 0 3.1 0a1.55 1.55 0 1 0 -3.1 0M692.1 342.6a1.55 1.55 0 1 0 3.1 0a1.55 1.55 0 1 0 -3.1 0M686.9 358.8a1.55 1.55 0 1 0 3.1 0a1.55 1.55 0 1 0 -3.1 0M662.4 343.2a1.55 1.55 0 1 0 3.1 0a1.55 1.55 0 1 0 -3.1 0M670.5 355.7a1.55 1.55 0 1 0 3.1 0a1.55 1.55 0 1 0 -3.1 0M683.6 349.8a1.55 1.55 0 1 0 3.1 0a1.55 1.55 0 1 0 -3.1 0M683.4 351.7a1.55 1.55 0 1 0 3.1 0a1.55 1.55 0 1 0 -3.1 0M674.6 347.5a1.55 1.55 0 1 0 3.1 0a1.55 1.55 0 1 0 -3.1 0M669.3 362.4a1.55 1.55 0 1 0 3.1 0a1.55 1.55 0 1 0 -3.1 0M693.5 345.1a1.55 1.55 0 1 0 3.1 0a1.55 1.55 0 1 0 -3.1 0M684.5 365.1a1.55 1.55 0 1 0 3.1 0a1.55 1.55 0 1 0 -3.1 0M652.8 342.9a1.55 1.55 0 1 0 3.1 0a1.55 1.55 0 1 0 -3.1 0M695.1 362.1a1.55 1.55 0 1 0 3.1 0a1.55 1.55 0 1 0 -3.1 0M680.3 369.6a1.55 1.55 0 1 0 3.1 0a1.55 1.55 0 1 0 -3.1 0M669.2 349.3a1.55 1.55 0 1 0 3.1 0a1.55 1.55 0 1 0 -3.1 0M667.7 346.3a1.55 1.55 0 1 0 3.1 0a1.55 1.55 0 1 0 -3.1 0M737.8 364.3a1.55 1.55 0 1 0 3.1 0a1.55 1.55 0 1 0 -3.1 0M743.6 367.1a1.55 1.55 0 1 0 3.1 0a1.55 1.55 0 1 0 -3.1 0M728.8 363.0a1.55 1.55 0 1 0 3.1 0a1.55 1.55 0 1 0 -3.1 0M708.0 366.0a1.55 1.55 0 1 0 3.1 0a1.55 1.55 0 1 0 -3.1 0M742.3 366.3a1.55 1.55 0 1 0 3.1 0a1.55 1.55 0 1 0 -3.1 0M740.9 365.2a1.55 1.55 0 1 0 3.1 0a1.55 1.55 0 1 0 -3.1 0M713.4 363.9a1.55 1.55 0 1 0 3.1 0a1.55 1.55 0 1 0 -3.1 0M744.4 367.4a1.55 1.55 0 1 0 3.1 0a1.55 1.55 0 1 0 -3.1 0M738.4 361.2a1.55 1.55 0 1 0 3.1 0a1.55 1.55 0 1 0 -3.1 0M742.7 348.0a1.55 1.55 0 1 0 3.1 0a1.55 1.55 0 1 0 -3.1 0M710.3 355.0a1.55 1.55 0 1 0 3.1 0a1.55 1.55 0 1 0 -3.1 0M705.4 358.1a1.55 1.55 0 1 0 3.1 0a1.55 1.55 0 1 0 -3.1 0M699.1 350.0a1.55 1.55 0 1 0 3.1 0a1.55 1.55 0 1 0 -3.1 0M725.8 362.1a1.55 1.55 0 1 0 3.1 0a1.55 1.55 0 1 0 -3.1 0M698.4 342.4a1.55 1.55 0 1 0 3.1 0a1.55 1.55 0 1 0 -3.1 0M656.5 386.4a1.55 1.55 0 1 0 3.1 0a1.55 1.55 0 1 0 -3.1 0M669.1 393.8a1.55 1.55 0 1 0 3.1 0a1.55 1.55 0 1 0 -3.1 0M654.9 380.5a1.55 1.55 0 1 0 3.1 0a1.55 1.55 0 1 0 -3.1 0M688.0 397.8a1.55 1.55 0 1 0 3.1 0a1.55 1.55 0 1 0 -3.1 0M665.2 390.8a1.55 1.55 0 1 0 3.1 0a1.55 1.55 0 1 0 -3.1 0M676.2 381.8a1.55 1.55 0 1 0 3.1 0a1.55 1.55 0 1 0 -3.1 0M670.0 374.1a1.55 1.55 0 1 0 3.1 0a1.55 1.55 0 1 0 -3.1 0M669.1 390.7a1.55 1.55 0 1 0 3.1 0a1.55 1.55 0 1 0 -3.1 0M686.8 374.8a1.55 1.55 0 1 0 3.1 0a1.55 1.55 0 1 0 -3.1 0M692.0 394.6a1.55 1.55 0 1 0 3.1 0a1.55 1.55 0 1 0 -3.1 0M659.9 386.0a1.55 1.55 0 1 0 3.1 0a1.55 1.55 0 1 0 -3.1 0M696.3 381.3a1.55 1.55 0 1 0 3.1 0a1.55 1.55 0 1 0 -3.1 0M680.1 390.0a1.55 1.55 0 1 0 3.1 0a1.55 1.55 0 1 0 -3.1 0M697.4 394.2a1.55 1.55 0 1 0 3.1 0a1.55 1.55 0 1 0 -3.1 0M677.0 379.7a1.55 1.55 0 1 0 3.1 0a1.55 1.55 0 1 0 -3.1 0M688.9 375.6a1.55 1.55 0 1 0 3.1 0a1.55 1.55 0 1 0 -3.1 0M668.9 391.6a1.55 1.55 0 1 0 3.1 0a1.55 1.55 0 1 0 -3.1 0M696.9 383.3a1.55 1.55 0 1 0 3.1 0a1.55 1.55 0 1 0 -3.1 0M664.0 395.5a1.55 1.55 0 1 0 3.1 0a1.55 1.55 0 1 0 -3.1 0M688.5 374.6a1.55 1.55 0 1 0 3.1 0a1.55 1.55 0 1 0 -3.1 0M677.5 388.3a1.55 1.55 0 1 0 3.1 0a1.55 1.55 0 1 0 -3.1 0M681.8 370.7a1.55 1.55 0 1 0 3.1 0a1.55 1.55 0 1 0 -3.1 0M677.9 376.4a1.55 1.55 0 1 0 3.1 0a1.55 1.55 0 1 0 -3.1 0M692.3 377.3a1.55 1.55 0 1 0 3.1 0a1.55 1.55 0 1 0 -3.1 0M673.6 394.4a1.55 1.55 0 1 0 3.1 0a1.55 1.55 0 1 0 -3.1 0M683.5 375.1a1.55 1.55 0 1 0 3.1 0a1.55 1.55 0 1 0 -3.1 0M696.1 395.1a1.55 1.55 0 1 0 3.1 0a1.55 1.55 0 1 0 -3.1 0M656.0 380.8a1.55 1.55 0 1 0 3.1 0a1.55 1.55 0 1 0 -3.1 0M689.7 397.4a1.55 1.55 0 1 0 3.1 0a1.55 1.55 0 1 0 -3.1 0M679.6 391.8a1.55 1.55 0 1 0 3.1 0a1.55 1.55 0 1 0 -3.1 0M703.0 397.7a1.55 1.55 0 1 0 3.1 0a1.55 1.55 0 1 0 -3.1 0M742.7 389.4a1.55 1.55 0 1 0 3.1 0a1.55 1.55 0 1 0 -3.1 0M742.5 389.7a1.55 1.55 0 1 0 3.1 0a1.55 1.55 0 1 0 -3.1 0M728.0 380.1a1.55 1.55 0 1 0 3.1 0a1.55 1.55 0 1 0 -3.1 0M702.1 397.5a1.55 1.55 0 1 0 3.1 0a1.55 1.55 0 1 0 -3.1 0M718.7 395.9a1.55 1.55 0 1 0 3.1 0a1.55 1.55 0 1 0 -3.1 0M711.8 393.8a1.55 1.55 0 1 0 3.1 0a1.55 1.55 0 1 0 -3.1 0M712.6 386.2a1.55 1.55 0 1 0 3.1 0a1.55 1.55 0 1 0 -3.1 0M712.5 389.7a1.55 1.55 0 1 0 3.1 0a1.55 1.55 0 1 0 -3.1 0M720.7 379.5a1.55 1.55 0 1 0 3.1 0a1.55 1.55 0 1 0 -3.1 0M699.8 370.2a1.55 1.55 0 1 0 3.1 0a1.55 1.55 0 1 0 -3.1 0M718.1 372.4a1.55 1.55 0 1 0 3.1 0a1.55 1.55 0 1 0 -3.1 0M698.2 397.9a1.55 1.55 0 1 0 3.1 0a1.55 1.55 0 1 0 -3.1 0M702.5 372.7a1.55 1.55 0 1 0 3.1 0a1.55 1.55 0 1 0 -3.1 0M717.3 374.6a1.55 1.55 0 1 0 3.1 0a1.55 1.55 0 1 0 -3.1 0M730.6 397.0a1.55 1.55 0 1 0 3.1 0a1.55 1.55 0 1 0 -3.1 0M714.9 389.8a1.55 1.55 0 1 0 3.1 0a1.55 1.55 0 1 0 -3.1 0M719.2 377.4a1.55 1.55 0 1 0 3.1 0a1.55 1.55 0 1 0 -3.1 0M701.8 372.3a1.55 1.55 0 1 0 3.1 0a1.55 1.55 0 1 0 -3.1 0M720.3 388.8a1.55 1.55 0 1 0 3.1 0a1.55 1.55 0 1 0 -3.1 0M683.4 402.3a1.55 1.55 0 1 0 3.1 0a1.55 1.55 0 1 0 -3.1 0M682.1 400.1a1.55 1.55 0 1 0 3.1 0a1.55 1.55 0 1 0 -3.1 0M653.5 428.0a1.55 1.55 0 1 0 3.1 0a1.55 1.55 0 1 0 -3.1 0M659.9 412.2a1.55 1.55 0 1 0 3.1 0a1.55 1.55 0 1 0 -3.1 0M670.6 426.7a1.55 1.55 0 1 0 3.1 0a1.55 1.55 0 1 0 -3.1 0M660.2 412.0a1.55 1.55 0 1 0 3.1 0a1.55 1.55 0 1 0 -3.1 0M669.6 406.6a1.55 1.55 0 1 0 3.1 0a1.55 1.55 0 1 0 -3.1 0M672.7 403.2a1.55 1.55 0 1 0 3.1 0a1.55 1.55 0 1 0 -3.1 0M686.4 414.5a1.55 1.55 0 1 0 3.1 0a1.55 1.55 0 1 0 -3.1 0M667.5 422.8a1.55 1.55 0 1 0 3.1 0a1.55 1.55 0 1 0 -3.1 0M664.4 418.7a1.55 1.55 0 1 0 3.1 0a1.55 1.55 0 1 0 -3.1 0M667.7 423.9a1.55 1.55 0 1 0 3.1 0a1.55 1.55 0 1 0 -3.1 0M734.9 404.1a1.55 1.55 0 1 0 3.1 0a1.55 1.55 0 1 0 -3.1 0M724.5 418.5a1.55 1.55 0 1 0 3.1 0a1.55 1.55 0 1 0 -3.1 0M728.4 404.7a1.55 1.55 0 1 0 3.1 0a1.55 1.55 0 1 0 -3.1 0M709.3 409.4a1.55 1.55 0 1 0 3.1 0a1.55 1.55 0 1 0 -3.1 0M731.3 417.6a1.55 1.55 0 1 0 3.1 0a1.55 1.55 0 1 0 -3.1 0M704.7 411.2a1.55 1.55 0 1 0 3.1 0a1.55 1.55 0 1 0 -3.1 0M707.7 418.3a1.55 1.55 0 1 0 3.1 0a1.55 1.55 0 1 0 -3.1 0M723.5 400.7a1.55 1.55 0 1 0 3.1 0a1.55 1.55 0 1 0 -3.1 0M704.7 427.0a1.55 1.55 0 1 0 3.1 0a1.55 1.55 0 1 0 -3.1 0M723.2 401.3a1.55 1.55 0 1 0 3.1 0a1.55 1.55 0 1 0 -3.1 0M700.0 410.2a1.55 1.55 0 1 0 3.1 0a1.55 1.55 0 1 0 -3.1 0M699.1 412.9a1.55 1.55 0 1 0 3.1 0a1.55 1.55 0 1 0 -3.1 0M703.4 409.7a1.55 1.55 0 1 0 3.1 0a1.55 1.55 0 1 0 -3.1 0M714.8 409.8a1.55 1.55 0 1 0 3.1 0a1.55 1.55 0 1 0 -3.1 0M710.0 426.9a1.55 1.55 0 1 0 3.1 0a1.55 1.55 0 1 0 -3.1 0M678.2 434.8a1.55 1.55 0 1 0 3.1 0a1.55 1.55 0 1 0 -3.1 0M680.1 443.5a1.55 1.55 0 1 0 3.1 0a1.55 1.55 0 1 0 -3.1 0M665.4 443.4a1.55 1.55 0 1 0 3.1 0a1.55 1.55 0 1 0 -3.1 0M697.2 441.8a1.55 1.55 0 1 0 3.1 0a1.55 1.55 0 1 0 -3.1 0M673.2 432.4a1.55 1.55 0 1 0 3.1 0a1.55 1.55 0 1 0 -3.1 0M653.2 456.8a1.55 1.55 0 1 0 3.1 0a1.55 1.55 0 1 0 -3.1 0M687.9 430.8a1.55 1.55 0 1 0 3.1 0a1.55 1.55 0 1 0 -3.1 0M653.0 457.9a1.55 1.55 0 1 0 3.1 0a1.55 1.55 0 1 0 -3.1 0M651.1 441.6a1.55 1.55 0 1 0 3.1 0a1.55 1.55 0 1 0 -3.1 0M657.1 442.1a1.55 1.55 0 1 0 3.1 0a1.55 1.55 0 1 0 -3.1 0M682.0 458.2a1.55 1.55 0 1 0 3.1 0a1.55 1.55 0 1 0 -3.1 0M691.7 451.2a1.55 1.55 0 1 0 3.1 0a1.55 1.55 0 1 0 -3.1 0M676.8 448.2a1.55 1.55 0 1 0 3.1 0a1.55 1.55 0 1 0 -3.1 0M666.8 446.8a1.55 1.55 0 1 0 3.1 0a1.55 1.55 0 1 0 -3.1 0M650.8 446.0a1.55 1.55 0 1 0 3.1 0a1.55 1.55 0 1 0 -3.1 0M716.1 448.3a1.55 1.55 0 1 0 3.1 0a1.55 1.55 0 1 0 -3.1 0M701.6 441.1a1.55 1.55 0 1 0 3.1 0a1.55 1.55 0 1 0 -3.1 0M744.2 450.5a1.55 1.55 0 1 0 3.1 0a1.55 1.55 0 1 0 -3.1 0M732.1 432.1a1.55 1.55 0 1 0 3.1 0a1.55 1.55 0 1 0 -3.1 0M710.6 431.5a1.55 1.55 0 1 0 3.1 0a1.55 1.55 0 1 0 -3.1 0M733.1 439.6a1.55 1.55 0 1 0 3.1 0a1.55 1.55 0 1 0 -3.1 0M707.0 450.5a1.55 1.55 0 1 0 3.1 0a1.55 1.55 0 1 0 -3.1 0M702.6 432.2a1.55 1.55 0 1 0 3.1 0a1.55 1.55 0 1 0 -3.1 0M736.0 456.1a1.55 1.55 0 1 0 3.1 0a1.55 1.55 0 1 0 -3.1 0M722.9 452.4a1.55 1.55 0 1 0 3.1 0a1.55 1.55 0 1 0 -3.1 0M733.9 441.7a1.55 1.55 0 1 0 3.1 0a1.55 1.55 0 1 0 -3.1 0M742.4 437.2a1.55 1.55 0 1 0 3.1 0a1.55 1.55 0 1 0 -3.1 0M702.6 447.7a1.55 1.55 0 1 0 3.1 0a1.55 1.55 0 1 0 -3.1 0M725.0 431.7a1.55 1.55 0 1 0 3.1 0a1.55 1.55 0 1 0 -3.1 0M715.3 453.1a1.55 1.55 0 1 0 3.1 0a1.55 1.55 0 1 0 -3.1 0M669.0 462.9a1.55 1.55 0 1 0 3.1 0a1.55 1.55 0 1 0 -3.1 0M661.7 481.1a1.55 1.55 0 1 0 3.1 0a1.55 1.55 0 1 0 -3.1 0M691.4 477.5a1.55 1.55 0 1 0 3.1 0a1.55 1.55 0 1 0 -3.1 0M655.8 481.7a1.55 1.55 0 1 0 3.1 0a1.55 1.55 0 1 0 -3.1 0M686.9 480.3a1.55 1.55 0 1 0 3.1 0a1.55 1.55 0 1 0 -3.1 0M676.9 463.5a1.55 1.55 0 1 0 3.1 0a1.55 1.55 0 1 0 -3.1 0M679.4 466.0a1.55 1.55 0 1 0 3.1 0a1.55 1.55 0 1 0 -3.1 0M696.7 479.3a1.55 1.55 0 1 0 3.1 0a1.55 1.55 0 1 0 -3.1 0M692.0 471.9a1.55 1.55 0 1 0 3.1 0a1.55 1.55 0 1 0 -3.1 0M660.1 484.3a1.55 1.55 0 1 0 3.1 0a1.55 1.55 0 1 0 -3.1 0M666.1 484.1a1.55 1.55 0 1 0 3.1 0a1.55 1.55 0 1 0 -3.1 0M687.1 471.7a1.55 1.55 0 1 0 3.1 0a1.55 1.55 0 1 0 -3.1 0M652.7 462.3a1.55 1.55 0 1 0 3.1 0a1.55 1.55 0 1 0 -3.1 0M678.8 475.1a1.55 1.55 0 1 0 3.1 0a1.55 1.55 0 1 0 -3.1 0M657.3 474.3a1.55 1.55 0 1 0 3.1 0a1.55 1.55 0 1 0 -3.1 0M693.9 470.9a1.55 1.55 0 1 0 3.1 0a1.55 1.55 0 1 0 -3.1 0M672.3 470.2a1.55 1.55 0 1 0 3.1 0a1.55 1.55 0 1 0 -3.1 0M676.6 469.8a1.55 1.55 0 1 0 3.1 0a1.55 1.55 0 1 0 -3.1 0M660.0 483.8a1.55 1.55 0 1 0 3.1 0a1.55 1.55 0 1 0 -3.1 0M651.2 463.6a1.55 1.55 0 1 0 3.1 0a1.55 1.55 0 1 0 -3.1 0M736.5 475.0a1.55 1.55 0 1 0 3.1 0a1.55 1.55 0 1 0 -3.1 0M700.1 467.5a1.55 1.55 0 1 0 3.1 0a1.55 1.55 0 1 0 -3.1 0M708.3 462.1a1.55 1.55 0 1 0 3.1 0a1.55 1.55 0 1 0 -3.1 0M707.8 479.4a1.55 1.55 0 1 0 3.1 0a1.55 1.55 0 1 0 -3.1 0M704.3 479.2a1.55 1.55 0 1 0 3.1 0a1.55 1.55 0 1 0 -3.1 0M726.2 480.3a1.55 1.55 0 1 0 3.1 0a1.55 1.55 0 1 0 -3.1 0M700.1 470.9a1.55 1.55 0 1 0 3.1 0a1.55 1.55 0 1 0 -3.1 0M732.5 485.0a1.55 1.55 0 1 0 3.1 0a1.55 1.55 0 1 0 -3.1 0M717.8 486.2a1.55 1.55 0 1 0 3.1 0a1.55 1.55 0 1 0 -3.1 0M698.6 477.1a1.55 1.55 0 1 0 3.1 0a1.55 1.55 0 1 0 -3.1 0M711.3 462.3a1.55 1.55 0 1 0 3.1 0a1.55 1.55 0 1 0 -3.1 0M698.5 469.1a1.55 1.55 0 1 0 3.1 0a1.55 1.55 0 1 0 -3.1 0M732.4 475.9a1.55 1.55 0 1 0 3.1 0a1.55 1.55 0 1 0 -3.1 0M721.4 480.9a1.55 1.55 0 1 0 3.1 0a1.55 1.55 0 1 0 -3.1 0M709.7 486.6a1.55 1.55 0 1 0 3.1 0a1.55 1.55 0 1 0 -3.1 0M740.5 487.3a1.55 1.55 0 1 0 3.1 0a1.55 1.55 0 1 0 -3.1 0M704.3 466.8a1.55 1.55 0 1 0 3.1 0a1.55 1.55 0 1 0 -3.1 0M719.4 473.1a1.55 1.55 0 1 0 3.1 0a1.55 1.55 0 1 0 -3.1 0M711.7 483.4a1.55 1.55 0 1 0 3.1 0a1.55 1.55 0 1 0 -3.1 0M735.5 484.5a1.55 1.55 0 1 0 3.1 0a1.55 1.55 0 1 0 -3.1 0M711.8 466.0a1.55 1.55 0 1 0 3.1 0a1.55 1.55 0 1 0 -3.1 0M711.9 460.1a1.55 1.55 0 1 0 3.1 0a1.55 1.55 0 1 0 -3.1 0M706.1 472.6a1.55 1.55 0 1 0 3.1 0a1.55 1.55 0 1 0 -3.1 0M723.2 473.4a1.55 1.55 0 1 0 3.1 0a1.55 1.55 0 1 0 -3.1 0M734.4 486.8a1.55 1.55 0 1 0 3.1 0a1.55 1.55 0 1 0 -3.1 0M661.9 511.1a1.55 1.55 0 1 0 3.1 0a1.55 1.55 0 1 0 -3.1 0M682.4 510.3a1.55 1.55 0 1 0 3.1 0a1.55 1.55 0 1 0 -3.1 0M652.8 505.3a1.55 1.55 0 1 0 3.1 0a1.55 1.55 0 1 0 -3.1 0M660.1 497.4a1.55 1.55 0 1 0 3.1 0a1.55 1.55 0 1 0 -3.1 0M661.1 501.3a1.55 1.55 0 1 0 3.1 0a1.55 1.55 0 1 0 -3.1 0M659.0 503.5a1.55 1.55 0 1 0 3.1 0a1.55 1.55 0 1 0 -3.1 0M691.6 508.7a1.55 1.55 0 1 0 3.1 0a1.55 1.55 0 1 0 -3.1 0M675.5 504.8a1.55 1.55 0 1 0 3.1 0a1.55 1.55 0 1 0 -3.1 0M654.0 517.1a1.55 1.55 0 1 0 3.1 0a1.55 1.55 0 1 0 -3.1 0M690.4 507.7a1.55 1.55 0 1 0 3.1 0a1.55 1.55 0 1 0 -3.1 0M683.0 505.5a1.55 1.55 0 1 0 3.1 0a1.55 1.55 0 1 0 -3.1 0M690.2 511.9a1.55 1.55 0 1 0 3.1 0a1.55 1.55 0 1 0 -3.1 0M673.5 501.5a1.55 1.55 0 1 0 3.1 0a1.55 1.55 0 1 0 -3.1 0M688.1 516.8a1.55 1.55 0 1 0 3.1 0a1.55 1.55 0 1 0 -3.1 0M667.7 503.7a1.55 1.55 0 1 0 3.1 0a1.55 1.55 0 1 0 -3.1 0M716.2 517.2a1.55 1.55 0 1 0 3.1 0a1.55 1.55 0 1 0 -3.1 0M727.3 491.2a1.55 1.55 0 1 0 3.1 0a1.55 1.55 0 1 0 -3.1 0M702.9 493.3a1.55 1.55 0 1 0 3.1 0a1.55 1.55 0 1 0 -3.1 0M697.9 496.1a1.55 1.55 0 1 0 3.1 0a1.55 1.55 0 1 0 -3.1 0M721.1 490.9a1.55 1.55 0 1 0 3.1 0a1.55 1.55 0 1 0 -3.1 0M739.1 516.3a1.55 1.55 0 1 0 3.1 0a1.55 1.55 0 1 0 -3.1 0M721.3 510.6a1.55 1.55 0 1 0 3.1 0a1.55 1.55 0 1 0 -3.1 0M718.5 515.7a1.55 1.55 0 1 0 3.1 0a1.55 1.55 0 1 0 -3.1 0M714.8 505.6a1.55 1.55 0 1 0 3.1 0a1.55 1.55 0 1 0 -3.1 0M698.0 503.7a1.55 1.55 0 1 0 3.1 0a1.55 1.55 0 1 0 -3.1 0M740.0 515.9a1.55 1.55 0 1 0 3.1 0a1.55 1.55 0 1 0 -3.1 0M742.4 503.3a1.55 1.55 0 1 0 3.1 0a1.55 1.55 0 1 0 -3.1 0M707.8 489.1a1.55 1.55 0 1 0 3.1 0a1.55 1.55 0 1 0 -3.1 0M720.2 504.8a1.55 1.55 0 1 0 3.1 0a1.55 1.55 0 1 0 -3.1 0M715.6 491.7a1.55 1.55 0 1 0 3.1 0a1.55 1.55 0 1 0 -3.1 0M703.9 511.5a1.55 1.55 0 1 0 3.1 0a1.55 1.55 0 1 0 -3.1 0M711.2 515.9a1.55 1.55 0 1 0 3.1 0a1.55 1.55 0 1 0 -3.1 0M737.6 503.3a1.55 1.55 0 1 0 3.1 0a1.55 1.55 0 1 0 -3.1 0M726.2 491.6a1.55 1.55 0 1 0 3.1 0a1.55 1.55 0 1 0 -3.1 0M721.2 509.5a1.55 1.55 0 1 0 3.1 0a1.55 1.55 0 1 0 -3.1 0M784.4 188.2a1.55 1.55 0 1 0 3.1 0a1.55 1.55 0 1 0 -3.1 0M767.1 187.5a1.55 1.55 0 1 0 3.1 0a1.55 1.55 0 1 0 -3.1 0M751.8 178.5a1.55 1.55 0 1 0 3.1 0a1.55 1.55 0 1 0 -3.1 0M766.5 174.0a1.55 1.55 0 1 0 3.1 0a1.55 1.55 0 1 0 -3.1 0M785.5 172.1a1.55 1.55 0 1 0 3.1 0a1.55 1.55 0 1 0 -3.1 0M823.9 168.2a1.55 1.55 0 1 0 3.1 0a1.55 1.55 0 1 0 -3.1 0M824.4 178.1a1.55 1.55 0 1 0 3.1 0a1.55 1.55 0 1 0 -3.1 0M798.5 167.3a1.55 1.55 0 1 0 3.1 0a1.55 1.55 0 1 0 -3.1 0M788.1 215.7a1.55 1.55 0 1 0 3.1 0a1.55 1.55 0 1 0 -3.1 0M749.1 207.3a1.55 1.55 0 1 0 3.1 0a1.55 1.55 0 1 0 -3.1 0M782.5 210.6a1.55 1.55 0 1 0 3.1 0a1.55 1.55 0 1 0 -3.1 0M784.7 210.8a1.55 1.55 0 1 0 3.1 0a1.55 1.55 0 1 0 -3.1 0M783.4 219.2a1.55 1.55 0 1 0 3.1 0a1.55 1.55 0 1 0 -3.1 0M758.4 218.9a1.55 1.55 0 1 0 3.1 0a1.55 1.55 0 1 0 -3.1 0M779.9 208.6a1.55 1.55 0 1 0 3.1 0a1.55 1.55 0 1 0 -3.1 0M775.9 215.5a1.55 1.55 0 1 0 3.1 0a1.55 1.55 0 1 0 -3.1 0M779.6 193.2a1.55 1.55 0 1 0 3.1 0a1.55 1.55 0 1 0 -3.1 0M833.2 197.4a1.55 1.55 0 1 0 3.1 0a1.55 1.55 0 1 0 -3.1 0M833.3 215.8a1.55 1.55 0 1 0 3.1 0a1.55 1.55 0 1 0 -3.1 0M818.7 220.0a1.55 1.55 0 1 0 3.1 0a1.55 1.55 0 1 0 -3.1 0M812.5 205.5a1.55 1.55 0 1 0 3.1 0a1.55 1.55 0 1 0 -3.1 0M753.5 250.2a1.55 1.55 0 1 0 3.1 0a1.55 1.55 0 1 0 -3.1 0M788.2 225.1a1.55 1.55 0 1 0 3.1 0a1.55 1.55 0 1 0 -3.1 0M781.2 244.5a1.55 1.55 0 1 0 3.1 0a1.55 1.55 0 1 0 -3.1 0M785.2 227.8a1.55 1.55 0 1 0 3.1 0a1.55 1.55 0 1 0 -3.1 0M760.3 248.3a1.55 1.55 0 1 0 3.1 0a1.55 1.55 0 1 0 -3.1 0M751.4 239.9a1.55 1.55 0 1 0 3.1 0a1.55 1.55 0 1 0 -3.1 0M784.2 249.8a1.55 1.55 0 1 0 3.1 0a1.55 1.55 0 1 0 -3.1 0M765.3 241.6a1.55 1.55 0 1 0 3.1 0a1.55 1.55 0 1 0 -3.1 0M787.1 247.5a1.55 1.55 0 1 0 3.1 0a1.55 1.55 0 1 0 -3.1 0M798.0 244.5a1.55 1.55 0 1 0 3.1 0a1.55 1.55 0 1 0 -3.1 0M797.8 228.9a1.55 1.55 0 1 0 3.1 0a1.55 1.55 0 1 0 -3.1 0M794.4 246.4a1.55 1.55 0 1 0 3.1 0a1.55 1.55 0 1 0 -3.1 0M829.4 229.3a1.55 1.55 0 1 0 3.1 0a1.55 1.55 0 1 0 -3.1 0M838.1 240.7a1.55 1.55 0 1 0 3.1 0a1.55 1.55 0 1 0 -3.1 0M745.9 280.5a1.55 1.55 0 1 0 3.1 0a1.55 1.55 0 1 0 -3.1 0M773.2 261.3a1.55 1.55 0 1 0 3.1 0a1.55 1.55 0 1 0 -3.1 0M771.5 265.8a1.55 1.55 0 1 0 3.1 0a1.55 1.55 0 1 0 -3.1 0M773.2 277.7a1.55 1.55 0 1 0 3.1 0a1.55 1.55 0 1 0 -3.1 0M748.0 271.2a1.55 1.55 0 1 0 3.1 0a1.55 1.55 0 1 0 -3.1 0M804.9 261.1a1.55 1.55 0 1 0 3.1 0a1.55 1.55 0 1 0 -3.1 0M837.1 278.1a1.55 1.55 0 1 0 3.1 0a1.55 1.55 0 1 0 -3.1 0M818.6 267.8a1.55 1.55 0 1 0 3.1 0a1.55 1.55 0 1 0 -3.1 0M806.8 273.0a1.55 1.55 0 1 0 3.1 0a1.55 1.55 0 1 0 -3.1 0M796.2 262.4a1.55 1.55 0 1 0 3.1 0a1.55 1.55 0 1 0 -3.1 0M772.5 294.2a1.55 1.55 0 1 0 3.1 0a1.55 1.55 0 1 0 -3.1 0M755.5 292.1a1.55 1.55 0 1 0 3.1 0a1.55 1.55 0 1 0 -3.1 0M762.9 295.0a1.55 1.55 0 1 0 3.1 0a1.55 1.55 0 1 0 -3.1 0M763.8 308.7a1.55 1.55 0 1 0 3.1 0a1.55 1.55 0 1 0 -3.1 0M786.4 290.6a1.55 1.55 0 1 0 3.1 0a1.55 1.55 0 1 0 -3.1 0M790.2 302.0a1.55 1.55 0 1 0 3.1 0a1.55 1.55 0 1 0 -3.1 0M758.3 307.1a1.55 1.55 0 1 0 3.1 0a1.55 1.55 0 1 0 -3.1 0M759.4 301.5a1.55 1.55 0 1 0 3.1 0a1.55 1.55 0 1 0 -3.1 0M753.7 303.2a1.55 1.55 0 1 0 3.1 0a1.55 1.55 0 1 0 -3.1 0M758.9 285.7a1.55 1.55 0 1 0 3.1 0a1.55 1.55 0 1 0 -3.1 0M820.9 293.1a1.55 1.55 0 1 0 3.1 0a1.55 1.55 0 1 0 -3.1 0M801.0 295.1a1.55 1.55 0 1 0 3.1 0a1.55 1.55 0 1 0 -3.1 0M813.6 286.1a1.55 1.55 0 1 0 3.1 0a1.55 1.55 0 1 0 -3.1 0M795.4 304.2a1.55 1.55 0 1 0 3.1 0a1.55 1.55 0 1 0 -3.1 0M818.8 310.1a1.55 1.55 0 1 0 3.1 0a1.55 1.55 0 1 0 -3.1 0M832.1 282.5a1.55 1.55 0 1 0 3.1 0a1.55 1.55 0 1 0 -3.1 0M807.7 288.2a1.55 1.55 0 1 0 3.1 0a1.55 1.55 0 1 0 -3.1 0M746.8 311.6a1.55 1.55 0 1 0 3.1 0a1.55 1.55 0 1 0 -3.1 0M774.8 323.8a1.55 1.55 0 1 0 3.1 0a1.55 1.55 0 1 0 -3.1 0M774.5 328.2a1.55 1.55 0 1 0 3.1 0a1.55 1.55 0 1 0 -3.1 0M786.8 319.5a1.55 1.55 0 1 0 3.1 0a1.55 1.55 0 1 0 -3.1 0M765.3 332.2a1.55 1.55 0 1 0 3.1 0a1.55 1.55 0 1 0 -3.1 0M751.8 331.3a1.55 1.55 0 1 0 3.1 0a1.55 1.55 0 1 0 -3.1 0M833.5 333.5a1.55 1.55 0 1 0 3.1 0a1.55 1.55 0 1 0 -3.1 0M807.0 320.1a1.55 1.55 0 1 0 3.1 0a1.55 1.55 0 1 0 -3.1 0M832.7 314.5a1.55 1.55 0 1 0 3.1 0a1.55 1.55 0 1 0 -3.1 0M805.8 324.9a1.55 1.55 0 1 0 3.1 0a1.55 1.55 0 1 0 -3.1 0M811.5 320.6a1.55 1.55 0 1 0 3.1 0a1.55 1.55 0 1 0 -3.1 0M802.9 315.8a1.55 1.55 0 1 0 3.1 0a1.55 1.55 0 1 0 -3.1 0M825.8 335.4a1.55 1.55 0 1 0 3.1 0a1.55 1.55 0 1 0 -3.1 0M807.0 330.7a1.55 1.55 0 1 0 3.1 0a1.55 1.55 0 1 0 -3.1 0M836.0 327.1a1.55 1.55 0 1 0 3.1 0a1.55 1.55 0 1 0 -3.1 0M821.2 313.1a1.55 1.55 0 1 0 3.1 0a1.55 1.55 0 1 0 -3.1 0M788.8 359.8a1.55 1.55 0 1 0 3.1 0a1.55 1.55 0 1 0 -3.1 0M748.2 345.2a1.55 1.55 0 1 0 3.1 0a1.55 1.55 0 1 0 -3.1 0M766.1 341.5a1.55 1.55 0 1 0 3.1 0a1.55 1.55 0 1 0 -3.1 0M781.0 359.2a1.55 1.55 0 1 0 3.1 0a1.55 1.55 0 1 0 -3.1 0M785.1 353.9a1.55 1.55 0 1 0 3.1 0a1.55 1.55 0 1 0 -3.1 0M778.6 344.0a1.55 1.55 0 1 0 3.1 0a1.55 1.55 0 1 0 -3.1 0M772.4 342.1a1.55 1.55 0 1 0 3.1 0a1.55 1.55 0 1 0 -3.1 0M763.8 358.9a1.55 1.55 0 1 0 3.1 0a1.55 1.55 0 1 0 -3.1 0M822.1 360.3a1.55 1.55 0 1 0 3.1 0a1.55 1.55 0 1 0 -3.1 0M833.3 358.5a1.55 1.55 0 1 0 3.1 0a1.55 1.55 0 1 0 -3.1 0M827.3 362.8a1.55 1.55 0 1 0 3.1 0a1.55 1.55 0 1 0 -3.1 0M821.9 343.5a1.55 1.55 0 1 0 3.1 0a1.55 1.55 0 1 0 -3.1 0M832.8 359.3a1.55 1.55 0 1 0 3.1 0a1.55 1.55 0 1 0 -3.1 0M814.9 354.3a1.55 1.55 0 1 0 3.1 0a1.55 1.55 0 1 0 -3.1 0M808.4 355.8a1.55 1.55 0 1 0 3.1 0a1.55 1.55 0 1 0 -3.1 0M837.7 344.1a1.55 1.55 0 1 0 3.1 0a1.55 1.55 0 1 0 -3.1 0M807.0 349.9a1.55 1.55 0 1 0 3.1 0a1.55 1.55 0 1 0 -3.1 0M836.9 359.4a1.55 1.55 0 1 0 3.1 0a1.55 1.55 0 1 0 -3.1 0M832.2 346.6a1.55 1.55 0 1 0 3.1 0a1.55 1.55 0 1 0 -3.1 0M834.0 367.6a1.55 1.55 0 1 0 3.1 0a1.55 1.55 0 1 0 -3.1 0M746.2 392.7a1.55 1.55 0 1 0 3.1 0a1.55 1.55 0 1 0 -3.1 0M756.2 376.7a1.55 1.55 0 1 0 3.1 0a1.55 1.55 0 1 0 -3.1 0M765.8 374.9a1.55 1.55 0 1 0 3.1 0a1.55 1.55 0 1 0 -3.1 0M776.5 374.7a1.55 1.55 0 1 0 3.1 0a1.55 1.55 0 1 0 -3.1 0M782.1 373.6a1.55 1.55 0 1 0 3.1 0a1.55 1.55 0 1 0 -3.1 0M758.0 389.1a1.55 1.55 0 1 0 3.1 0a1.55 1.55 0 1 0 -3.1 0M774.6 382.4a1.55 1.55 0 1 0 3.1 0a1.55 1.55 0 1 0 -3.1 0M781.7 375.8a1.55 1.55 0 1 0 3.1 0a1.55 1.55 0 1 0 -3.1 0M804.9 379.7a1.55 1.55 0 1 0 3.1 0a1.55 1.55 0 1 0 -3.1 0M811.4 382.8a1.55 1.55 0 1 0 3.1 0a1.55 1.55 0 1 0 -3.1 0M826.9 380.2a1.55 1.55 0 1 0 3.1 0a1.55 1.55 0 1 0 -3.1 0M832.7 397.1a1.55 1.55 0 1 0 3.1 0a1.55 1.55 0 1 0 -3.1 0M806.2 398.6a1.55 1.55 0 1 0 3.1 0a1.55 1.55 0 1 0 -3.1 0M816.7 381.5a1.55 1.55 0 1 0 3.1 0a1.55 1.55 0 1 0 -3.1 0M804.1 398.0a1.55 1.55 0 1 0 3.1 0a1.55 1.55 0 1 0 -3.1 0M814.0 394.7a1.55 1.55 0 1 0 3.1 0a1.55 1.55 0 1 0 -3.1 0M801.3 388.4a1.55 1.55 0 1 0 3.1 0a1.55 1.55 0 1 0 -3.1 0M836.7 389.0a1.55 1.55 0 1 0 3.1 0a1.55 1.55 0 1 0 -3.1 0M825.6 388.6a1.55 1.55 0 1 0 3.1 0a1.55 1.55 0 1 0 -3.1 0M811.3 395.5a1.55 1.55 0 1 0 3.1 0a1.55 1.55 0 1 0 -3.1 0M748.2 413.5a1.55 1.55 0 1 0 3.1 0a1.55 1.55 0 1 0 -3.1 0M763.4 411.2a1.55 1.55 0 1 0 3.1 0a1.55 1.55 0 1 0 -3.1 0M760.8 400.9a1.55 1.55 0 1 0 3.1 0a1.55 1.55 0 1 0 -3.1 0M755.3 404.9a1.55 1.55 0 1 0 3.1 0a1.55 1.55 0 1 0 -3.1 0M757.6 410.0a1.55 1.55 0 1 0 3.1 0a1.55 1.55 0 1 0 -3.1 0M765.2 413.6a1.55 1.55 0 1 0 3.1 0a1.55 1.55 0 1 0 -3.1 0M769.6 410.7a1.55 1.55 0 1 0 3.1 0a1.55 1.55 0 1 0 -3.1 0M748.2 427.4a1.55 1.55 0 1 0 3.1 0a1.55 1.55 0 1 0 -3.1 0M790.8 421.7a1.55 1.55 0 1 0 3.1 0a1.55 1.55 0 1 0 -3.1 0M761.8 422.1a1.55 1.55 0 1 0 3.1 0a1.55 1.55 0 1 0 -3.1 0M826.3 425.0a1.55 1.55 0 1 0 3.1 0a1.55 1.55 0 1 0 -3.1 0M806.3 427.0a1.55 1.55 0 1 0 3.1 0a1.55 1.55 0 1 0 -3.1 0M822.7 407.7a1.55 1.55 0 1 0 3.1 0a1.55 1.55 0 1 0 -3.1 0M827.4 406.3a1.55 1.55 0 1 0 3.1 0a1.55 1.55 0 1 0 -3.1 0M810.8 423.9a1.55 1.55 0 1 0 3.1 0a1.55 1.55 0 1 0 -3.1 0M792.4 416.1a1.55 1.55 0 1 0 3.1 0a1.55 1.55 0 1 0 -3.1 0M836.2 415.9a1.55 1.55 0 1 0 3.1 0a1.55 1.55 0 1 0 -3.1 0M821.2 402.1a1.55 1.55 0 1 0 3.1 0a1.55 1.55 0 1 0 -3.1 0M832.9 407.3a1.55 1.55 0 1 0 3.1 0a1.55 1.55 0 1 0 -3.1 0M820.1 422.3a1.55 1.55 0 1 0 3.1 0a1.55 1.55 0 1 0 -3.1 0M827.5 416.8a1.55 1.55 0 1 0 3.1 0a1.55 1.55 0 1 0 -3.1 0M825.5 422.5a1.55 1.55 0 1 0 3.1 0a1.55 1.55 0 1 0 -3.1 0M836.5 424.3a1.55 1.55 0 1 0 3.1 0a1.55 1.55 0 1 0 -3.1 0M829.5 402.9a1.55 1.55 0 1 0 3.1 0a1.55 1.55 0 1 0 -3.1 0M799.3 403.6a1.55 1.55 0 1 0 3.1 0a1.55 1.55 0 1 0 -3.1 0M765.1 431.6a1.55 1.55 0 1 0 3.1 0a1.55 1.55 0 1 0 -3.1 0M766.6 434.7a1.55 1.55 0 1 0 3.1 0a1.55 1.55 0 1 0 -3.1 0M772.2 447.7a1.55 1.55 0 1 0 3.1 0a1.55 1.55 0 1 0 -3.1 0M790.6 452.9a1.55 1.55 0 1 0 3.1 0a1.55 1.55 0 1 0 -3.1 0M787.8 429.7a1.55 1.55 0 1 0 3.1 0a1.55 1.55 0 1 0 -3.1 0M785.0 440.6a1.55 1.55 0 1 0 3.1 0a1.55 1.55 0 1 0 -3.1 0M774.4 431.3a1.55 1.55 0 1 0 3.1 0a1.55 1.55 0 1 0 -3.1 0M765.4 434.3a1.55 1.55 0 1 0 3.1 0a1.55 1.55 0 1 0 -3.1 0M781.5 433.3a1.55 1.55 0 1 0 3.1 0a1.55 1.55 0 1 0 -3.1 0M765.8 439.4a1.55 1.55 0 1 0 3.1 0a1.55 1.55 0 1 0 -3.1 0M749.3 456.5a1.55 1.55 0 1 0 3.1 0a1.55 1.55 0 1 0 -3.1 0M750.1 437.0a1.55 1.55 0 1 0 3.1 0a1.55 1.55 0 1 0 -3.1 0M826.3 440.9a1.55 1.55 0 1 0 3.1 0a1.55 1.55 0 1 0 -3.1 0M818.7 444.0a1.55 1.55 0 1 0 3.1 0a1.55 1.55 0 1 0 -3.1 0M836.0 449.9a1.55 1.55 0 1 0 3.1 0a1.55 1.55 0 1 0 -3.1 0M835.2 453.7a1.55 1.55 0 1 0 3.1 0a1.55 1.55 0 1 0 -3.1 0M824.9 430.9a1.55 1.55 0 1 0 3.1 0a1.55 1.55 0 1 0 -3.1 0M799.4 435.9a1.55 1.55 0 1 0 3.1 0a1.55 1.55 0 1 0 -3.1 0M805.0 456.9a1.55 1.55 0 1 0 3.1 0a1.55 1.55 0 1 0 -3.1 0M812.5 438.0a1.55 1.55 0 1 0 3.1 0a1.55 1.55 0 1 0 -3.1 0M805.5 430.6a1.55 1.55 0 1 0 3.1 0a1.55 1.55 0 1 0 -3.1 0M792.3 450.8a1.55 1.55 0 1 0 3.1 0a1.55 1.55 0 1 0 -3.1 0M808.3 447.7a1.55 1.55 0 1 0 3.1 0a1.55 1.55 0 1 0 -3.1 0M806.3 458.0a1.55 1.55 0 1 0 3.1 0a1.55 1.55 0 1 0 -3.1 0M802.1 450.9a1.55 1.55 0 1 0 3.1 0a1.55 1.55 0 1 0 -3.1 0M823.9 447.5a1.55 1.55 0 1 0 3.1 0a1.55 1.55 0 1 0 -3.1 0M826.2 445.6a1.55 1.55 0 1 0 3.1 0a1.55 1.55 0 1 0 -3.1 0M808.2 454.0a1.55 1.55 0 1 0 3.1 0a1.55 1.55 0 1 0 -3.1 0M802.9 432.0a1.55 1.55 0 1 0 3.1 0a1.55 1.55 0 1 0 -3.1 0M813.6 449.4a1.55 1.55 0 1 0 3.1 0a1.55 1.55 0 1 0 -3.1 0M753.0 484.5a1.55 1.55 0 1 0 3.1 0a1.55 1.55 0 1 0 -3.1 0M776.7 461.8a1.55 1.55 0 1 0 3.1 0a1.55 1.55 0 1 0 -3.1 0M745.8 478.0a1.55 1.55 0 1 0 3.1 0a1.55 1.55 0 1 0 -3.1 0M753.0 460.0a1.55 1.55 0 1 0 3.1 0a1.55 1.55 0 1 0 -3.1 0M751.2 486.2a1.55 1.55 0 1 0 3.1 0a1.55 1.55 0 1 0 -3.1 0M781.2 458.7a1.55 1.55 0 1 0 3.1 0a1.55 1.55 0 1 0 -3.1 0M781.5 484.8a1.55 1.55 0 1 0 3.1 0a1.55 1.55 0 1 0 -3.1 0M764.2 472.8a1.55 1.55 0 1 0 3.1 0a1.55 1.55 0 1 0 -3.1 0M787.4 465.9a1.55 1.55 0 1 0 3.1 0a1.55 1.55 0 1 0 -3.1 0M747.8 474.8a1.55 1.55 0 1 0 3.1 0a1.55 1.55 0 1 0 -3.1 0M781.7 472.1a1.55 1.55 0 1 0 3.1 0a1.55 1.55 0 1 0 -3.1 0M776.4 459.6a1.55 1.55 0 1 0 3.1 0a1.55 1.55 0 1 0 -3.1 0M791.2 463.5a1.55 1.55 0 1 0 3.1 0a1.55 1.55 0 1 0 -3.1 0M772.0 479.1a1.55 1.55 0 1 0 3.1 0a1.55 1.55 0 1 0 -3.1 0M752.5 483.2a1.55 1.55 0 1 0 3.1 0a1.55 1.55 0 1 0 -3.1 0M815.2 486.1a1.55 1.55 0 1 0 3.1 0a1.55 1.55 0 1 0 -3.1 0M821.8 458.9a1.55 1.55 0 1 0 3.1 0a1.55 1.55 0 1 0 -3.1 0M795.6 458.7a1.55 1.55 0 1 0 3.1 0a1.55 1.55 0 1 0 -3.1 0M796.9 479.1a1.55 1.55 0 1 0 3.1 0a1.55 1.55 0 1 0 -3.1 0M838.2 459.5a1.55 1.55 0 1 0 3.1 0a1.55 1.55 0 1 0 -3.1 0M800.9 466.9a1.55 1.55 0 1 0 3.1 0a1.55 1.55 0 1 0 -3.1 0M821.1 476.4a1.55 1.55 0 1 0 3.1 0a1.55 1.55 0 1 0 -3.1 0M829.1 469.4a1.55 1.55 0 1 0 3.1 0a1.55 1.55 0 1 0 -3.1 0M802.8 473.7a1.55 1.55 0 1 0 3.1 0a1.55 1.55 0 1 0 -3.1 0M825.6 469.8a1.55 1.55 0 1 0 3.1 0a1.55 1.55 0 1 0 -3.1 0M817.8 466.4a1.55 1.55 0 1 0 3.1 0a1.55 1.55 0 1 0 -3.1 0M798.5 486.9a1.55 1.55 0 1 0 3.1 0a1.55 1.55 0 1 0 -3.1 0M793.7 469.9a1.55 1.55 0 1 0 3.1 0a1.55 1.55 0 1 0 -3.1 0M812.7 463.5a1.55 1.55 0 1 0 3.1 0a1.55 1.55 0 1 0 -3.1 0M838.0 484.9a1.55 1.55 0 1 0 3.1 0a1.55 1.55 0 1 0 -3.1 0M810.0 475.8a1.55 1.55 0 1 0 3.1 0a1.55 1.55 0 1 0 -3.1 0M817.9 461.3a1.55 1.55 0 1 0 3.1 0a1.55 1.55 0 1 0 -3.1 0M820.5 479.2a1.55 1.55 0 1 0 3.1 0a1.55 1.55 0 1 0 -3.1 0M823.4 478.5a1.55 1.55 0 1 0 3.1 0a1.55 1.55 0 1 0 -3.1 0M818.4 485.3a1.55 1.55 0 1 0 3.1 0a1.55 1.55 0 1 0 -3.1 0M786.7 492.0a1.55 1.55 0 1 0 3.1 0a1.55 1.55 0 1 0 -3.1 0M770.9 491.1a1.55 1.55 0 1 0 3.1 0a1.55 1.55 0 1 0 -3.1 0M783.4 514.7a1.55 1.55 0 1 0 3.1 0a1.55 1.55 0 1 0 -3.1 0M751.3 505.7a1.55 1.55 0 1 0 3.1 0a1.55 1.55 0 1 0 -3.1 0M770.1 498.4a1.55 1.55 0 1 0 3.1 0a1.55 1.55 0 1 0 -3.1 0M771.6 491.8a1.55 1.55 0 1 0 3.1 0a1.55 1.55 0 1 0 -3.1 0M782.8 514.7a1.55 1.55 0 1 0 3.1 0a1.55 1.55 0 1 0 -3.1 0M761.0 491.5a1.55 1.55 0 1 0 3.1 0a1.55 1.55 0 1 0 -3.1 0M780.6 517.2a1.55 1.55 0 1 0 3.1 0a1.55 1.55 0 1 0 -3.1 0M774.6 514.0a1.55 1.55 0 1 0 3.1 0a1.55 1.55 0 1 0 -3.1 0M768.7 488.4a1.55 1.55 0 1 0 3.1 0a1.55 1.55 0 1 0 -3.1 0M748.5 493.4a1.55 1.55 0 1 0 3.1 0a1.55 1.55 0 1 0 -3.1 0M767.8 488.8a1.55 1.55 0 1 0 3.1 0a1.55 1.55 0 1 0 -3.1 0M785.5 515.8a1.55 1.55 0 1 0 3.1 0a1.55 1.55 0 1 0 -3.1 0M775.3 492.3a1.55 1.55 0 1 0 3.1 0a1.55 1.55 0 1 0 -3.1 0M817.5 499.3a1.55 1.55 0 1 0 3.1 0a1.55 1.55 0 1 0 -3.1 0M831.1 490.4a1.55 1.55 0 1 0 3.1 0a1.55 1.55 0 1 0 -3.1 0M800.0 492.3a1.55 1.55 0 1 0 3.1 0a1.55 1.55 0 1 0 -3.1 0M797.7 517.4a1.55 1.55 0 1 0 3.1 0a1.55 1.55 0 1 0 -3.1 0M806.4 509.3a1.55 1.55 0 1 0 3.1 0a1.55 1.55 0 1 0 -3.1 0M828.5 501.2a1.55 1.55 0 1 0 3.1 0a1.55 1.55 0 1 0 -3.1 0M810.5 494.4a1.55 1.55 0 1 0 3.1 0a1.55 1.55 0 1 0 -3.1 0M836.3 498.8a1.55 1.55 0 1 0 3.1 0a1.55 1.55 0 1 0 -3.1 0M823.0 492.3a1.55 1.55 0 1 0 3.1 0a1.55 1.55 0 1 0 -3.1 0M806.0 488.3a1.55 1.55 0 1 0 3.1 0a1.55 1.55 0 1 0 -3.1 0M800.5 516.4a1.55 1.55 0 1 0 3.1 0a1.55 1.55 0 1 0 -3.1 0M831.0 512.6a1.55 1.55 0 1 0 3.1 0a1.55 1.55 0 1 0 -3.1 0M808.0 502.6a1.55 1.55 0 1 0 3.1 0a1.55 1.55 0 1 0 -3.1 0M797.4 505.2a1.55 1.55 0 1 0 3.1 0a1.55 1.55 0 1 0 -3.1 0M808.9 515.2a1.55 1.55 0 1 0 3.1 0a1.55 1.55 0 1 0 -3.1 0M820.6 504.4a1.55 1.55 0 1 0 3.1 0a1.55 1.55 0 1 0 -3.1 0M799.7 494.4a1.55 1.55 0 1 0 3.1 0a1.55 1.55 0 1 0 -3.1 0M811.5 516.9a1.55 1.55 0 1 0 3.1 0a1.55 1.55 0 1 0 -3.1 0M833.6 505.6a1.55 1.55 0 1 0 3.1 0a1.55 1.55 0 1 0 -3.1 0M796.5 509.2a1.55 1.55 0 1 0 3.1 0a1.55 1.55 0 1 0 -3.1 0M804.2 516.4a1.55 1.55 0 1 0 3.1 0a1.55 1.55 0 1 0 -3.1 0M807.8 512.7a1.55 1.55 0 1 0 3.1 0a1.55 1.55 0 1 0 -3.1 0" fill="#555555" fill-opacity="0.6" filter="url(#bl)"/><path d="M410.0 226.1a1.55 1.55 0 1 0 3.1 0a1.55 1.55 0 1 0 -3.1 0M424.5 220.3a1.55 1.55 0 1 0 3.1 0a1.55 1.55 0 1 0 -3.1 0M444.9 226.1a1.55 1.55 0 1 0 3.1 0a1.55 1.55 0 1 0 -3.1 0M373.9 281.1a1.55 1.55 0 1 0 3.1 0a1.55 1.55 0 1 0 -3.1 0M282.9 142.5a1.55 1.55 0 1 0 3.1 0a1.55 1.55 0 1 0 -3.1 0M460.0 300.4a1.55 1.55 0 1 0 3.1 0a1.55 1.55 0 1 0 -3.1 0M427.1 312.4a1.55 1.55 0 1 0 3.1 0a1.55 1.55 0 1 0 -3.1 0M421.9 331.2a1.55 1.55 0 1 0 3.1 0a1.55 1.55 0 1 0 -3.1 0M459.4 323.5a1.55 1.55 0 1 0 3.1 0a1.55 1.55 0 1 0 -3.1 0M454.5 331.2a1.55 1.55 0 1 0 3.1 0a1.55 1.55 0 1 0 -3.1 0M451.7 343.5a1.55 1.55 0 1 0 3.1 0a1.55 1.55 0 1 0 -3.1 0M405.0 365.6a1.55 1.55 0 1 0 3.1 0a1.55 1.55 0 1 0 -3.1 0M402.5 377.6a1.55 1.55 0 1 0 3.1 0a1.55 1.55 0 1 0 -3.1 0M355.5 380.0a1.55 1.55 0 1 0 3.1 0a1.55 1.55 0 1 0 -3.1 0M445.5 374.2a1.55 1.55 0 1 0 3.1 0a1.55 1.55 0 1 0 -3.1 0M348.1 400.3a1.55 1.55 0 1 0 3.1 0a1.55 1.55 0 1 0 -3.1 0M402.5 400.3a1.55 1.55 0 1 0 3.1 0a1.55 1.55 0 1 0 -3.1 0M405.6 400.3a1.55 1.55 0 1 0 3.1 0a1.55 1.55 0 1 0 -3.1 0M412.0 398.8a1.55 1.55 0 1 0 3.1 0a1.55 1.55 0 1 0 -3.1 0M415.4 409.8a1.55 1.55 0 1 0 3.1 0a1.55 1.55 0 1 0 -3.1 0M429.6 405.5a1.55 1.55 0 1 0 3.1 0a1.55 1.55 0 1 0 -3.1 0M443.4 405.5a1.55 1.55 0 1 0 3.1 0a1.55 1.55 0 1 0 -3.1 0M447.7 404.3a1.55 1.55 0 1 0 3.1 0a1.55 1.55 0 1 0 -3.1 0M447.7 414.1a1.55 1.55 0 1 0 3.1 0a1.55 1.55 0 1 0 -3.1 0M452.9 411.7a1.55 1.55 0 1 0 3.1 0a1.55 1.55 0 1 0 -3.1 0M459.4 409.8a1.55 1.55 0 1 0 3.1 0a1.55 1.55 0 1 0 -3.1 0M460.9 396.3a1.55 1.55 0 1 0 3.1 0a1.55 1.55 0 1 0 -3.1 0M460.9 423.4a1.55 1.55 0 1 0 3.1 0a1.55 1.55 0 1 0 -3.1 0M460.9 426.4a1.55 1.55 0 1 0 3.1 0a1.55 1.55 0 1 0 -3.1 0M460.0 432.0a1.55 1.55 0 1 0 3.1 0a1.55 1.55 0 1 0 -3.1 0M387.5 441.5a1.55 1.55 0 1 0 3.1 0a1.55 1.55 0 1 0 -3.1 0M413.3 438.1a1.55 1.55 0 1 0 3.1 0a1.55 1.55 0 1 0 -3.1 0M380.1 468.5a1.55 1.55 0 1 0 3.1 0a1.55 1.55 0 1 0 -3.1 0M380.7 471.6a1.55 1.55 0 1 0 3.1 0a1.55 1.55 0 1 0 -3.1 0M320.2 508.2a1.55 1.55 0 1 0 3.1 0a1.55 1.55 0 1 0 -3.1 0M417.9 515.6a1.55 1.55 0 1 0 3.1 0a1.55 1.55 0 1 0 -3.1 0M373.3 540.4a1.55 1.55 0 1 0 3.1 0a1.55 1.55 0 1 0 -3.1 0M383.6 540.4a1.55 1.55 0 1 0 3.1 0a1.55 1.55 0 1 0 -3.1 0M390.4 531.0a1.55 1.55 0 1 0 3.1 0a1.55 1.55 0 1 0 -3.1 0M393.1 532.8a1.55 1.55 0 1 0 3.1 0a1.55 1.55 0 1 0 -3.1 0M422.9 549.3a1.55 1.55 0 1 0 3.1 0a1.55 1.55 0 1 0 -3.1 0M431.5 561.1a1.55 1.55 0 1 0 3.1 0a1.55 1.55 0 1 0 -3.1 0M355.3 570.3a1.55 1.55 0 1 0 3.1 0a1.55 1.55 0 1 0 -3.1 0M368.3 564.1a1.55 1.55 0 1 0 3.1 0a1.55 1.55 0 1 0 -3.1 0M306.0 592.7a1.55 1.55 0 1 0 3.1 0a1.55 1.55 0 1 0 -3.1 0M431.5 590.9a1.55 1.55 0 1 0 3.1 0a1.55 1.55 0 1 0 -3.1 0M327.2 617.5a1.55 1.55 0 1 0 3.1 0a1.55 1.55 0 1 0 -3.1 0M423.8 616.3a1.55 1.55 0 1 0 3.1 0a1.55 1.55 0 1 0 -3.1 0M442.1 624.9a1.55 1.55 0 1 0 3.1 0a1.55 1.55 0 1 0 -3.1 0M450.7 640.3a1.55 1.55 0 1 0 3.1 0a1.55 1.55 0 1 0 -3.1 0M422.0 647.1a1.55 1.55 0 1 0 3.1 0a1.55 1.55 0 1 0 -3.1 0M331.9 650.0a1.55 1.55 0 1 0 3.1 0a1.55 1.55 0 1 0 -3.1 0M351.1 647.1a1.55 1.55 0 1 0 3.1 0a1.55 1.55 0 1 0 -3.1 0M454.5 652.4a1.55 1.55 0 1 0 3.1 0a1.55 1.55 0 1 0 -3.1 0M352.6 661.8a1.55 1.55 0 1 0 3.1 0a1.55 1.55 0 1 0 -3.1 0M406.7 660.4a1.55 1.55 0 1 0 3.1 0a1.55 1.55 0 1 0 -3.1 0M139.4 665.1a1.55 1.55 0 1 0 3.1 0a1.55 1.55 0 1 0 -3.1 0M146.5 663.3a1.55 1.55 0 1 0 3.1 0a1.55 1.55 0 1 0 -3.1 0M168.6 665.1a1.55 1.55 0 1 0 3.1 0a1.55 1.55 0 1 0 -3.1 0M193.7 663.3a1.55 1.55 0 1 0 3.1 0a1.55 1.55 0 1 0 -3.1 0M196.4 663.3a1.55 1.55 0 1 0 3.1 0a1.55 1.55 0 1 0 -3.1 0M240.1 662.7a1.55 1.55 0 1 0 3.1 0a1.55 1.55 0 1 0 -3.1 0M270.5 662.7a1.55 1.55 0 1 0 3.1 0a1.55 1.55 0 1 0 -3.1 0M293.8 663.3a1.55 1.55 0 1 0 3.1 0a1.55 1.55 0 1 0 -3.1 0M300.3 661.8a1.55 1.55 0 1 0 3.1 0a1.55 1.55 0 1 0 -3.1 0M619.9 79.6a1.55 1.55 0 1 0 3.1 0a1.55 1.55 0 1 0 -3.1 0M597.7 134.2a1.55 1.55 0 1 0 3.1 0a1.55 1.55 0 1 0 -3.1 0M599.5 141.3a1.55 1.55 0 1 0 3.1 0a1.55 1.55 0 1 0 -3.1 0M616.2 146.0a1.55 1.55 0 1 0 3.1 0a1.55 1.55 0 1 0 -3.1 0M630.1 141.3a1.55 1.55 0 1 0 3.1 0a1.55 1.55 0 1 0 -3.1 0M569.0 144.4a1.55 1.55 0 1 0 3.1 0a1.55 1.55 0 1 0 -3.1 0M517.4 144.4a1.55 1.55 0 1 0 3.1 0a1.55 1.55 0 1 0 -3.1 0M498.9 171.6a1.55 1.55 0 1 0 3.1 0a1.55 1.55 0 1 0 -3.1 0M506.6 183.9a1.55 1.55 0 1 0 3.1 0a1.55 1.55 0 1 0 -3.1 0M556.0 184.5a1.55 1.55 0 1 0 3.1 0a1.55 1.55 0 1 0 -3.1 0M571.4 188.9a1.55 1.55 0 1 0 3.1 0a1.55 1.55 0 1 0 -3.1 0M638.7 202.5a1.55 1.55 0 1 0 3.1 0a1.55 1.55 0 1 0 -3.1 0M604.5 210.2a1.55 1.55 0 1 0 3.1 0a1.55 1.55 0 1 0 -3.1 0M605.7 227.2a1.55 1.55 0 1 0 3.1 0a1.55 1.55 0 1 0 -3.1 0M607.6 231.2a1.55 1.55 0 1 0 3.1 0a1.55 1.55 0 1 0 -3.1 0M611.6 232.4a1.55 1.55 0 1 0 3.1 0a1.55 1.55 0 1 0 -3.1 0M640.0 227.2a1.55 1.55 0 1 0 3.1 0a1.55 1.55 0 1 0 -3.1 0M641.5 228.7a1.55 1.55 0 1 0 3.1 0a1.55 1.55 0 1 0 -3.1 0M602.0 241.7a1.55 1.55 0 1 0 3.1 0a1.55 1.55 0 1 0 -3.1 0M611.6 240.7a1.55 1.55 0 1 0 3.1 0a1.55 1.55 0 1 0 -3.1 0M633.8 241.7a1.55 1.55 0 1 0 3.1 0a1.55 1.55 0 1 0 -3.1 0M646.8 239.5a1.55 1.55 0 1 0 3.1 0a1.55 1.55 0 1 0 -3.1 0M532.8 246.0a1.55 1.55 0 1 0 3.1 0a1.55 1.55 0 1 0 -3.1 0M568.0 246.0a1.55 1.55 0 1 0 3.1 0a1.55 1.55 0 1 0 -3.1 0M595.2 254.9a1.55 1.55 0 1 0 3.1 0a1.55 1.55 0 1 0 -3.1 0M597.4 254.0a1.55 1.55 0 1 0 3.1 0a1.55 1.55 0 1 0 -3.1 0M611.6 256.5a1.55 1.55 0 1 0 3.1 0a1.55 1.55 0 1 0 -3.1 0M554.1 257.4a1.55 1.55 0 1 0 3.1 0a1.55 1.55 0 1 0 -3.1 0M554.1 266.7a1.55 1.55 0 1 0 3.1 0a1.55 1.55 0 1 0 -3.1 0M578.2 266.1a1.55 1.55 0 1 0 3.1 0a1.55 1.55 0 1 0 -3.1 0M540.6 268.8a1.55 1.55 0 1 0 3.1 0a1.55 1.55 0 1 0 -3.1 0M506.6 268.8a1.55 1.55 0 1 0 3.1 0a1.55 1.55 0 1 0 -3.1 0M610.0 264.2a1.55 1.55 0 1 0 3.1 0a1.55 1.55 0 1 0 -3.1 0M613.7 262.7a1.55 1.55 0 1 0 3.1 0a1.55 1.55 0 1 0 -3.1 0M619.9 261.1a1.55 1.55 0 1 0 3.1 0a1.55 1.55 0 1 0 -3.1 0M626.1 262.7a1.55 1.55 0 1 0 3.1 0a1.55 1.55 0 1 0 -3.1 0M631.6 260.2a1.55 1.55 0 1 0 3.1 0a1.55 1.55 0 1 0 -3.1 0M638.4 258.0a1.55 1.55 0 1 0 3.1 0a1.55 1.55 0 1 0 -3.1 0M647.7 256.5a1.55 1.55 0 1 0 3.1 0a1.55 1.55 0 1 0 -3.1 0M613.7 270.4a1.55 1.55 0 1 0 3.1 0a1.55 1.55 0 1 0 -3.1 0M619.9 270.4a1.55 1.55 0 1 0 3.1 0a1.55 1.55 0 1 0 -3.1 0M623.0 268.8a1.55 1.55 0 1 0 3.1 0a1.55 1.55 0 1 0 -3.1 0M609.1 275.0a1.55 1.55 0 1 0 3.1 0a1.55 1.55 0 1 0 -3.1 0M613.7 275.0a1.55 1.55 0 1 0 3.1 0a1.55 1.55 0 1 0 -3.1 0M623.0 276.6a1.55 1.55 0 1 0 3.1 0a1.55 1.55 0 1 0 -3.1 0M627.6 271.9a1.55 1.55 0 1 0 3.1 0a1.55 1.55 0 1 0 -3.1 0M644.6 271.9a1.55 1.55 0 1 0 3.1 0a1.55 1.55 0 1 0 -3.1 0M587.5 281.2a1.55 1.55 0 1 0 3.1 0a1.55 1.55 0 1 0 -3.1 0M1161.1 76.8a1.55 1.55 0 1 0 3.1 0a1.55 1.55 0 1 0 -3.1 0M1206.5 76.8a1.55 1.55 0 1 0 3.1 0a1.55 1.55 0 1 0 -3.1 0M1153.4 115.3a1.55 1.55 0 1 0 3.1 0a1.55 1.55 0 1 0 -3.1 0M1158.3 131.7a1.55 1.55 0 1 0 3.1 0a1.55 1.55 0 1 0 -3.1 0M1116.7 135.1a1.55 1.55 0 1 0 3.1 0a1.55 1.55 0 1 0 -3.1 0M1126.0 143.7a1.55 1.55 0 1 0 3.1 0a1.55 1.55 0 1 0 -3.1 0M1136.4 149.9a1.55 1.55 0 1 0 3.1 0a1.55 1.55 0 1 0 -3.1 0M1143.8 157.9a1.55 1.55 0 1 0 3.1 0a1.55 1.55 0 1 0 -3.1 0M1160.2 156.1a1.55 1.55 0 1 0 3.1 0a1.55 1.55 0 1 0 -3.1 0M1195.1 170.9a1.55 1.55 0 1 0 3.1 0a1.55 1.55 0 1 0 -3.1 0M1165.1 203.9a1.55 1.55 0 1 0 3.1 0a1.55 1.55 0 1 0 -3.1 0M1150.9 217.2a1.55 1.55 0 1 0 3.1 0a1.55 1.55 0 1 0 -3.1 0M1119.2 227.0a1.55 1.55 0 1 0 3.1 0a1.55 1.55 0 1 0 -3.1 0M1155.0 240.9a1.55 1.55 0 1 0 3.1 0a1.55 1.55 0 1 0 -3.1 0M1143.8 265.6a1.55 1.55 0 1 0 3.1 0a1.55 1.55 0 1 0 -3.1 0M1042.3 238.5a1.55 1.55 0 1 0 3.1 0a1.55 1.55 0 1 0 -3.1 0M1032.2 273.3a1.55 1.55 0 1 0 3.1 0a1.55 1.55 0 1 0 -3.1 0M1037.1 279.5a1.55 1.55 0 1 0 3.1 0a1.55 1.55 0 1 0 -3.1 0M1037.1 286.9a1.55 1.55 0 1 0 3.1 0a1.55 1.55 0 1 0 -3.1 0M1088.4 290.0a1.55 1.55 0 1 0 3.1 0a1.55 1.55 0 1 0 -3.1 0M1137.5 294.3a1.55 1.55 0 1 0 3.1 0a1.55 1.55 0 1 0 -3.1 0M1116.6 302.3a1.55 1.55 0 1 0 3.1 0a1.55 1.55 0 1 0 -3.1 0M1120.6 302.3a1.55 1.55 0 1 0 3.1 0a1.55 1.55 0 1 0 -3.1 0M1089.0 307.2a1.55 1.55 0 1 0 3.1 0a1.55 1.55 0 1 0 -3.1 0M1032.1 321.3a1.55 1.55 0 1 0 3.1 0a1.55 1.55 0 1 0 -3.1 0M1039.2 319.5a1.55 1.55 0 1 0 3.1 0a1.55 1.55 0 1 0 -3.1 0M1034.0 330.6a1.55 1.55 0 1 0 3.1 0a1.55 1.55 0 1 0 -3.1 0M1040.7 328.7a1.55 1.55 0 1 0 3.1 0a1.55 1.55 0 1 0 -3.1 0M1053.0 328.7a1.55 1.55 0 1 0 3.1 0a1.55 1.55 0 1 0 -3.1 0M1050.6 333.6a1.55 1.55 0 1 0 3.1 0a1.55 1.55 0 1 0 -3.1 0M1053.6 339.5a1.55 1.55 0 1 0 3.1 0a1.55 1.55 0 1 0 -3.1 0M1030.0 340.4a1.55 1.55 0 1 0 3.1 0a1.55 1.55 0 1 0 -3.1 0M1057.6 352.7a1.55 1.55 0 1 0 3.1 0a1.55 1.55 0 1 0 -3.1 0M1065.3 352.7a1.55 1.55 0 1 0 3.1 0a1.55 1.55 0 1 0 -3.1 0M1111.4 345.6a1.55 1.55 0 1 0 3.1 0a1.55 1.55 0 1 0 -3.1 0M1172.3 340.4a1.55 1.55 0 1 0 3.1 0a1.55 1.55 0 1 0 -3.1 0M1116.6 371.1a1.55 1.55 0 1 0 3.1 0a1.55 1.55 0 1 0 -3.1 0M1040.7 380.3a1.55 1.55 0 1 0 3.1 0a1.55 1.55 0 1 0 -3.1 0M1053.6 395.7a1.55 1.55 0 1 0 3.1 0a1.55 1.55 0 1 0 -3.1 0M1040.1 401.2a1.55 1.55 0 1 0 3.1 0a1.55 1.55 0 1 0 -3.1 0M1053.0 401.9a1.55 1.55 0 1 0 3.1 0a1.55 1.55 0 1 0 -3.1 0M1077.0 401.2a1.55 1.55 0 1 0 3.1 0a1.55 1.55 0 1 0 -3.1 0M1093.0 404.9a1.55 1.55 0 1 0 3.1 0a1.55 1.55 0 1 0 -3.1 0M1030.0 406.5a1.55 1.55 0 1 0 3.1 0a1.55 1.55 0 1 0 -3.1 0M1037.1 414.1a1.55 1.55 0 1 0 3.1 0a1.55 1.55 0 1 0 -3.1 0M1053.0 419.4a1.55 1.55 0 1 0 3.1 0a1.55 1.55 0 1 0 -3.1 0M1044.4 427.1a1.55 1.55 0 1 0 3.1 0a1.55 1.55 0 1 0 -3.1 0M1034.0 429.5a1.55 1.55 0 1 0 3.1 0a1.55 1.55 0 1 0 -3.1 0M1088.4 432.6a1.55 1.55 0 1 0 3.1 0a1.55 1.55 0 1 0 -3.1 0M1089.0 435.0a1.55 1.55 0 1 0 3.1 0a1.55 1.55 0 1 0 -3.1 0M1028.5 438.7a1.55 1.55 0 1 0 3.1 0a1.55 1.55 0 1 0 -3.1 0M1047.5 438.7a1.55 1.55 0 1 0 3.1 0a1.55 1.55 0 1 0 -3.1 0M1050.0 442.4a1.55 1.55 0 1 0 3.1 0a1.55 1.55 0 1 0 -3.1 0M1035.2 444.3a1.55 1.55 0 1 0 3.1 0a1.55 1.55 0 1 0 -3.1 0M1096.1 446.4a1.55 1.55 0 1 0 3.1 0a1.55 1.55 0 1 0 -3.1 0M1116.6 451.6a1.55 1.55 0 1 0 3.1 0a1.55 1.55 0 1 0 -3.1 0M1041.4 462.4a1.55 1.55 0 1 0 3.1 0a1.55 1.55 0 1 0 -3.1 0M1074.5 463.3a1.55 1.55 0 1 0 3.1 0a1.55 1.55 0 1 0 -3.1 0M1109.0 466.4a1.55 1.55 0 1 0 3.1 0a1.55 1.55 0 1 0 -3.1 0M1096.1 474.7a1.55 1.55 0 1 0 3.1 0a1.55 1.55 0 1 0 -3.1 0M1049.3 480.8a1.55 1.55 0 1 0 3.1 0a1.55 1.55 0 1 0 -3.1 0M1060.7 480.8a1.55 1.55 0 1 0 3.1 0a1.55 1.55 0 1 0 -3.1 0M1074.5 483.3a1.55 1.55 0 1 0 3.1 0a1.55 1.55 0 1 0 -3.1 0M1109.0 481.8a1.55 1.55 0 1 0 3.1 0a1.55 1.55 0 1 0 -3.1 0M1030.9 506.3a1.55 1.55 0 1 0 3.1 0a1.55 1.55 0 1 0 -3.1 0M1150.8 514.9a1.55 1.55 0 1 0 3.1 0a1.55 1.55 0 1 0 -3.1 0M984.6 523.1a1.55 1.55 0 1 0 3.1 0a1.55 1.55 0 1 0 -3.1 0M990.9 521.7a1.55 1.55 0 1 0 3.1 0a1.55 1.55 0 1 0 -3.1 0M1004.9 526.8a1.55 1.55 0 1 0 3.1 0a1.55 1.55 0 1 0 -3.1 0M1000.1 533.7a1.55 1.55 0 1 0 3.1 0a1.55 1.55 0 1 0 -3.1 0M984.6 533.0a1.55 1.55 0 1 0 3.1 0a1.55 1.55 0 1 0 -3.1 0M982.3 536.4a1.55 1.55 0 1 0 3.1 0a1.55 1.55 0 1 0 -3.1 0M960.0 541.7a1.55 1.55 0 1 0 3.1 0a1.55 1.55 0 1 0 -3.1 0M841.3 531.1a1.55 1.55 0 1 0 3.1 0a1.55 1.55 0 1 0 -3.1 0M844.5 535.7a1.55 1.55 0 1 0 3.1 0a1.55 1.55 0 1 0 -3.1 0M870.1 538.7a1.55 1.55 0 1 0 3.1 0a1.55 1.55 0 1 0 -3.1 0M873.6 544.5a1.55 1.55 0 1 0 3.1 0a1.55 1.55 0 1 0 -3.1 0M863.6 541.0a1.55 1.55 0 1 0 3.1 0a1.55 1.55 0 1 0 -3.1 0M917.1 561.1a1.55 1.55 0 1 0 3.1 0a1.55 1.55 0 1 0 -3.1 0M929.8 559.9a1.55 1.55 0 1 0 3.1 0a1.55 1.55 0 1 0 -3.1 0M965.5 558.3a1.55 1.55 0 1 0 3.1 0a1.55 1.55 0 1 0 -3.1 0M975.0 564.1a1.55 1.55 0 1 0 3.1 0a1.55 1.55 0 1 0 -3.1 0M987.6 554.9a1.55 1.55 0 1 0 3.1 0a1.55 1.55 0 1 0 -3.1 0M1025.0 546.3a1.55 1.55 0 1 0 3.1 0a1.55 1.55 0 1 0 -3.1 0M1027.3 545.7a1.55 1.55 0 1 0 3.1 0a1.55 1.55 0 1 0 -3.1 0M841.3 566.9a1.55 1.55 0 1 0 3.1 0a1.55 1.55 0 1 0 -3.1 0M855.6 570.3a1.55 1.55 0 1 0 3.1 0a1.55 1.55 0 1 0 -3.1 0M880.5 577.2a1.55 1.55 0 1 0 3.1 0a1.55 1.55 0 1 0 -3.1 0M883.7 578.6a1.55 1.55 0 1 0 3.1 0a1.55 1.55 0 1 0 -3.1 0M886.7 572.6a1.55 1.55 0 1 0 3.1 0a1.55 1.55 0 1 0 -3.1 0M896.4 592.2a1.55 1.55 0 1 0 3.1 0a1.55 1.55 0 1 0 -3.1 0M969.0 580.2a1.55 1.55 0 1 0 3.1 0a1.55 1.55 0 1 0 -3.1 0M999.6 603.7a1.55 1.55 0 1 0 3.1 0a1.55 1.55 0 1 0 -3.1 0M1004.9 604.4a1.55 1.55 0 1 0 3.1 0a1.55 1.55 0 1 0 -3.1 0M904.0 617.6a1.55 1.55 0 1 0 3.1 0a1.55 1.55 0 1 0 -3.1 0M841.3 634.4a1.55 1.55 0 1 0 3.1 0a1.55 1.55 0 1 0 -3.1 0M899.8 637.8a1.55 1.55 0 1 0 3.1 0a1.55 1.55 0 1 0 -3.1 0M920.1 638.3a1.55 1.55 0 1 0 3.1 0a1.55 1.55 0 1 0 -3.1 0M924.7 638.3a1.55 1.55 0 1 0 3.1 0a1.55 1.55 0 1 0 -3.1 0M844.5 652.8a1.55 1.55 0 1 0 3.1 0a1.55 1.55 0 1 0 -3.1 0M844.5 656.3a1.55 1.55 0 1 0 3.1 0a1.55 1.55 0 1 0 -3.1 0M858.3 661.4a1.55 1.55 0 1 0 3.1 0a1.55 1.55 0 1 0 -3.1 0M867.1 665.0a1.55 1.55 0 1 0 3.1 0a1.55 1.55 0 1 0 -3.1 0M868.9 665.0a1.55 1.55 0 1 0 3.1 0a1.55 1.55 0 1 0 -3.1 0M892.0 665.0a1.55 1.55 0 1 0 3.1 0a1.55 1.55 0 1 0 -3.1 0M894.1 662.5a1.55 1.55 0 1 0 3.1 0a1.55 1.55 0 1 0 -3.1 0M923.6 663.2a1.55 1.55 0 1 0 3.1 0a1.55 1.55 0 1 0 -3.1 0M928.9 662.0a1.55 1.55 0 1 0 3.1 0a1.55 1.55 0 1 0 -3.1 0M937.4 663.2a1.55 1.55 0 1 0 3.1 0a1.55 1.55 0 1 0 -3.1 0M928.9 652.1a1.55 1.55 0 1 0 3.1 0a1.55 1.55 0 1 0 -3.1 0M1004.9 648.2a1.55 1.55 0 1 0 3.1 0a1.55 1.55 0 1 0 -3.1 0M975.0 663.2a1.55 1.55 0 1 0 3.1 0a1.55 1.55 0 1 0 -3.1 0M1007.7 663.2a1.55 1.55 0 1 0 3.1 0a1.55 1.55 0 1 0 -3.1 0M1037.2 540.4a1.55 1.55 0 1 0 3.1 0a1.55 1.55 0 1 0 -3.1 0M1136.3 563.6a1.55 1.55 0 1 0 3.1 0a1.55 1.55 0 1 0 -3.1 0M1084.2 659.7a1.55 1.55 0 1 0 3.1 0a1.55 1.55 0 1 0 -3.1 0M1042.3 665.0a1.55 1.55 0 1 0 3.1 0a1.55 1.55 0 1 0 -3.1 0M679.0 78.6a1.55 1.55 0 1 0 3.1 0a1.55 1.55 0 1 0 -3.1 0M651.1 80.2a1.55 1.55 0 1 0 3.1 0a1.55 1.55 0 1 0 -3.1 0M803.7 75.2a1.55 1.55 0 1 0 3.1 0a1.55 1.55 0 1 0 -3.1 0M765.3 99.7a1.55 1.55 0 1 0 3.1 0a1.55 1.55 0 1 0 -3.1 0M802.8 103.1a1.55 1.55 0 1 0 3.1 0a1.55 1.55 0 1 0 -3.1 0M748.4 89.2a1.55 1.55 0 1 0 3.1 0a1.55 1.55 0 1 0 -3.1 0M659.3 131.5a1.55 1.55 0 1 0 3.1 0a1.55 1.55 0 1 0 -3.1 0M698.6 112.0a1.55 1.55 0 1 0 3.1 0a1.55 1.55 0 1 0 -3.1 0M684.7 128.1a1.55 1.55 0 1 0 3.1 0a1.55 1.55 0 1 0 -3.1 0M656.2 140.6a1.55 1.55 0 1 0 3.1 0a1.55 1.55 0 1 0 -3.1 0M681.1 154.6a1.55 1.55 0 1 0 3.1 0a1.55 1.55 0 1 0 -3.1 0M727.7 141.1a1.55 1.55 0 1 0 3.1 0a1.55 1.55 0 1 0 -3.1 0M743.0 128.6a1.55 1.55 0 1 0 3.1 0a1.55 1.55 0 1 0 -3.1 0M707.7 125.8a1.55 1.55 0 1 0 3.1 0a1.55 1.55 0 1 0 -3.1 0M714.5 154.6a1.55 1.55 0 1 0 3.1 0a1.55 1.55 0 1 0 -3.1 0M828.4 125.6a1.55 1.55 0 1 0 3.1 0a1.55 1.55 0 1 0 -3.1 0M798.7 141.2a1.55 1.55 0 1 0 3.1 0a1.55 1.55 0 1 0 -3.1 0M783.8 149.3a1.55 1.55 0 1 0 3.1 0a1.55 1.55 0 1 0 -3.1 0M748.6 111.7a1.55 1.55 0 1 0 3.1 0a1.55 1.55 0 1 0 -3.1 0M789.1 131.1a1.55 1.55 0 1 0 3.1 0a1.55 1.55 0 1 0 -3.1 0M921.7 94.3a1.55 1.55 0 1 0 3.1 0a1.55 1.55 0 1 0 -3.1 0M878.2 109.0a1.55 1.55 0 1 0 3.1 0a1.55 1.55 0 1 0 -3.1 0M990.6 135.2a1.55 1.55 0 1 0 3.1 0a1.55 1.55 0 1 0 -3.1 0M863.2 207.8a1.55 1.55 0 1 0 3.1 0a1.55 1.55 0 1 0 -3.1 0M857.0 189.0a1.55 1.55 0 1 0 3.1 0a1.55 1.55 0 1 0 -3.1 0M843.0 187.6a1.55 1.55 0 1 0 3.1 0a1.55 1.55 0 1 0 -3.1 0M855.0 182.5a1.55 1.55 0 1 0 3.1 0a1.55 1.55 0 1 0 -3.1 0M841.3 204.2a1.55 1.55 0 1 0 3.1 0a1.55 1.55 0 1 0 -3.1 0M927.9 190.7a1.55 1.55 0 1 0 3.1 0a1.55 1.55 0 1 0 -3.1 0M915.9 183.7a1.55 1.55 0 1 0 3.1 0a1.55 1.55 0 1 0 -3.1 0M897.0 211.2a1.55 1.55 0 1 0 3.1 0a1.55 1.55 0 1 0 -3.1 0M893.5 220.2a1.55 1.55 0 1 0 3.1 0a1.55 1.55 0 1 0 -3.1 0M915.0 165.8a1.55 1.55 0 1 0 3.1 0a1.55 1.55 0 1 0 -3.1 0M919.9 219.5a1.55 1.55 0 1 0 3.1 0a1.55 1.55 0 1 0 -3.1 0M871.3 203.7a1.55 1.55 0 1 0 3.1 0a1.55 1.55 0 1 0 -3.1 0M850.0 185.5a1.55 1.55 0 1 0 3.1 0a1.55 1.55 0 1 0 -3.1 0M914.6 204.0a1.55 1.55 0 1 0 3.1 0a1.55 1.55 0 1 0 -3.1 0M920.7 175.4a1.55 1.55 0 1 0 3.1 0a1.55 1.55 0 1 0 -3.1 0M976.8 183.7a1.55 1.55 0 1 0 3.1 0a1.55 1.55 0 1 0 -3.1 0M943.2 200.0a1.55 1.55 0 1 0 3.1 0a1.55 1.55 0 1 0 -3.1 0M946.3 183.4a1.55 1.55 0 1 0 3.1 0a1.55 1.55 0 1 0 -3.1 0M1012.0 200.3a1.55 1.55 0 1 0 3.1 0a1.55 1.55 0 1 0 -3.1 0M968.8 190.6a1.55 1.55 0 1 0 3.1 0a1.55 1.55 0 1 0 -3.1 0M954.0 207.9a1.55 1.55 0 1 0 3.1 0a1.55 1.55 0 1 0 -3.1 0M964.8 195.5a1.55 1.55 0 1 0 3.1 0a1.55 1.55 0 1 0 -3.1 0M941.4 178.1a1.55 1.55 0 1 0 3.1 0a1.55 1.55 0 1 0 -3.1 0M988.3 204.8a1.55 1.55 0 1 0 3.1 0a1.55 1.55 0 1 0 -3.1 0M941.0 177.4a1.55 1.55 0 1 0 3.1 0a1.55 1.55 0 1 0 -3.1 0M946.0 214.6a1.55 1.55 0 1 0 3.1 0a1.55 1.55 0 1 0 -3.1 0M946.0 217.7a1.55 1.55 0 1 0 3.1 0a1.55 1.55 0 1 0 -3.1 0M864.5 249.9a1.55 1.55 0 1 0 3.1 0a1.55 1.55 0 1 0 -3.1 0M909.9 228.6a1.55 1.55 0 1 0 3.1 0a1.55 1.55 0 1 0 -3.1 0M851.2 270.7a1.55 1.55 0 1 0 3.1 0a1.55 1.55 0 1 0 -3.1 0M914.8 243.5a1.55 1.55 0 1 0 3.1 0a1.55 1.55 0 1 0 -3.1 0M907.4 222.7a1.55 1.55 0 1 0 3.1 0a1.55 1.55 0 1 0 -3.1 0M927.9 231.8a1.55 1.55 0 1 0 3.1 0a1.55 1.55 0 1 0 -3.1 0M912.7 258.2a1.55 1.55 0 1 0 3.1 0a1.55 1.55 0 1 0 -3.1 0M899.8 270.7a1.55 1.55 0 1 0 3.1 0a1.55 1.55 0 1 0 -3.1 0M911.0 236.8a1.55 1.55 0 1 0 3.1 0a1.55 1.55 0 1 0 -3.1 0M907.4 255.3a1.55 1.55 0 1 0 3.1 0a1.55 1.55 0 1 0 -3.1 0M875.0 256.8a1.55 1.55 0 1 0 3.1 0a1.55 1.55 0 1 0 -3.1 0M842.5 231.7a1.55 1.55 0 1 0 3.1 0a1.55 1.55 0 1 0 -3.1 0M890.5 258.7a1.55 1.55 0 1 0 3.1 0a1.55 1.55 0 1 0 -3.1 0M891.0 238.9a1.55 1.55 0 1 0 3.1 0a1.55 1.55 0 1 0 -3.1 0M875.3 232.5a1.55 1.55 0 1 0 3.1 0a1.55 1.55 0 1 0 -3.1 0M926.1 258.7a1.55 1.55 0 1 0 3.1 0a1.55 1.55 0 1 0 -3.1 0M852.3 236.6a1.55 1.55 0 1 0 3.1 0a1.55 1.55 0 1 0 -3.1 0M933.0 272.8a1.55 1.55 0 1 0 3.1 0a1.55 1.55 0 1 0 -3.1 0M906.6 232.8a1.55 1.55 0 1 0 3.1 0a1.55 1.55 0 1 0 -3.1 0M926.2 274.3a1.55 1.55 0 1 0 3.1 0a1.55 1.55 0 1 0 -3.1 0M848.0 223.2a1.55 1.55 0 1 0 3.1 0a1.55 1.55 0 1 0 -3.1 0M850.4 271.1a1.55 1.55 0 1 0 3.1 0a1.55 1.55 0 1 0 -3.1 0M893.6 255.2a1.55 1.55 0 1 0 3.1 0a1.55 1.55 0 1 0 -3.1 0M910.1 270.3a1.55 1.55 0 1 0 3.1 0a1.55 1.55 0 1 0 -3.1 0M925.6 268.7a1.55 1.55 0 1 0 3.1 0a1.55 1.55 0 1 0 -3.1 0M911.9 277.5a1.55 1.55 0 1 0 3.1 0a1.55 1.55 0 1 0 -3.1 0M884.0 279.6a1.55 1.55 0 1 0 3.1 0a1.55 1.55 0 1 0 -3.1 0M868.9 263.1a1.55 1.55 0 1 0 3.1 0a1.55 1.55 0 1 0 -3.1 0M907.2 254.7a1.55 1.55 0 1 0 3.1 0a1.55 1.55 0 1 0 -3.1 0M844.7 222.8a1.55 1.55 0 1 0 3.1 0a1.55 1.55 0 1 0 -3.1 0M923.2 227.4a1.55 1.55 0 1 0 3.1 0a1.55 1.55 0 1 0 -3.1 0M862.6 258.3a1.55 1.55 0 1 0 3.1 0a1.55 1.55 0 1 0 -3.1 0M860.8 274.2a1.55 1.55 0 1 0 3.1 0a1.55 1.55 0 1 0 -3.1 0M842.5 251.8a1.55 1.55 0 1 0 3.1 0a1.55 1.55 0 1 0 -3.1 0M851.0 271.1a1.55 1.55 0 1 0 3.1 0a1.55 1.55 0 1 0 -3.1 0M990.3 277.6a1.55 1.55 0 1 0 3.1 0a1.55 1.55 0 1 0 -3.1 0M956.0 254.1a1.55 1.55 0 1 0 3.1 0a1.55 1.55 0 1 0 -3.1 0M1016.8 236.6a1.55 1.55 0 1 0 3.1 0a1.55 1.55 0 1 0 -3.1 0M1011.9 236.6a1.55 1.55 0 1 0 3.1 0a1.55 1.55 0 1 0 -3.1 0M1000.5 231.4a1.55 1.55 0 1 0 3.1 0a1.55 1.55 0 1 0 -3.1 0M998.0 238.1a1.55 1.55 0 1 0 3.1 0a1.55 1.55 0 1 0 -3.1 0M962.1 271.6a1.55 1.55 0 1 0 3.1 0a1.55 1.55 0 1 0 -3.1 0M1005.1 271.7a1.55 1.55 0 1 0 3.1 0a1.55 1.55 0 1 0 -3.1 0M1020.4 246.3a1.55 1.55 0 1 0 3.1 0a1.55 1.55 0 1 0 -3.1 0M964.8 226.2a1.55 1.55 0 1 0 3.1 0a1.55 1.55 0 1 0 -3.1 0M506.2 316.4a1.55 1.55 0 1 0 3.1 0a1.55 1.55 0 1 0 -3.1 0M529.9 309.7a1.55 1.55 0 1 0 3.1 0a1.55 1.55 0 1 0 -3.1 0M530.9 335.6a1.55 1.55 0 1 0 3.1 0a1.55 1.55 0 1 0 -3.1 0M515.1 307.6a1.55 1.55 0 1 0 3.1 0a1.55 1.55 0 1 0 -3.1 0M549.9 338.2a1.55 1.55 0 1 0 3.1 0a1.55 1.55 0 1 0 -3.1 0M504.7 303.3a1.55 1.55 0 1 0 3.1 0a1.55 1.55 0 1 0 -3.1 0M532.2 377.2a1.55 1.55 0 1 0 3.1 0a1.55 1.55 0 1 0 -3.1 0M506.0 355.0a1.55 1.55 0 1 0 3.1 0a1.55 1.55 0 1 0 -3.1 0M509.5 379.7a1.55 1.55 0 1 0 3.1 0a1.55 1.55 0 1 0 -3.1 0M540.0 377.1a1.55 1.55 0 1 0 3.1 0a1.55 1.55 0 1 0 -3.1 0M541.7 353.3a1.55 1.55 0 1 0 3.1 0a1.55 1.55 0 1 0 -3.1 0M504.2 357.5a1.55 1.55 0 1 0 3.1 0a1.55 1.55 0 1 0 -3.1 0M465.2 376.6a1.55 1.55 0 1 0 3.1 0a1.55 1.55 0 1 0 -3.1 0M543.1 365.4a1.55 1.55 0 1 0 3.1 0a1.55 1.55 0 1 0 -3.1 0M514.6 360.4a1.55 1.55 0 1 0 3.1 0a1.55 1.55 0 1 0 -3.1 0M525.9 365.2a1.55 1.55 0 1 0 3.1 0a1.55 1.55 0 1 0 -3.1 0M501.6 388.8a1.55 1.55 0 1 0 3.1 0a1.55 1.55 0 1 0 -3.1 0M489.6 382.3a1.55 1.55 0 1 0 3.1 0a1.55 1.55 0 1 0 -3.1 0M502.6 340.6a1.55 1.55 0 1 0 3.1 0a1.55 1.55 0 1 0 -3.1 0M495.2 373.2a1.55 1.55 0 1 0 3.1 0a1.55 1.55 0 1 0 -3.1 0M497.0 365.3a1.55 1.55 0 1 0 3.1 0a1.55 1.55 0 1 0 -3.1 0M551.4 347.1a1.55 1.55 0 1 0 3.1 0a1.55 1.55 0 1 0 -3.1 0M497.5 383.9a1.55 1.55 0 1 0 3.1 0a1.55 1.55 0 1 0 -3.1 0M545.4 370.5a1.55 1.55 0 1 0 3.1 0a1.55 1.55 0 1 0 -3.1 0M526.6 395.3a1.55 1.55 0 1 0 3.1 0a1.55 1.55 0 1 0 -3.1 0M543.7 381.1a1.55 1.55 0 1 0 3.1 0a1.55 1.55 0 1 0 -3.1 0M508.6 387.9a1.55 1.55 0 1 0 3.1 0a1.55 1.55 0 1 0 -3.1 0M501.6 350.7a1.55 1.55 0 1 0 3.1 0a1.55 1.55 0 1 0 -3.1 0M467.3 415.4a1.55 1.55 0 1 0 3.1 0a1.55 1.55 0 1 0 -3.1 0M539.1 432.4a1.55 1.55 0 1 0 3.1 0a1.55 1.55 0 1 0 -3.1 0M467.8 418.3a1.55 1.55 0 1 0 3.1 0a1.55 1.55 0 1 0 -3.1 0M485.2 420.7a1.55 1.55 0 1 0 3.1 0a1.55 1.55 0 1 0 -3.1 0M497.5 421.0a1.55 1.55 0 1 0 3.1 0a1.55 1.55 0 1 0 -3.1 0M486.3 430.5a1.55 1.55 0 1 0 3.1 0a1.55 1.55 0 1 0 -3.1 0M511.5 421.4a1.55 1.55 0 1 0 3.1 0a1.55 1.55 0 1 0 -3.1 0M481.1 401.9a1.55 1.55 0 1 0 3.1 0a1.55 1.55 0 1 0 -3.1 0M489.2 440.6a1.55 1.55 0 1 0 3.1 0a1.55 1.55 0 1 0 -3.1 0M486.1 454.7a1.55 1.55 0 1 0 3.1 0a1.55 1.55 0 1 0 -3.1 0M508.1 509.3a1.55 1.55 0 1 0 3.1 0a1.55 1.55 0 1 0 -3.1 0M503.6 479.9a1.55 1.55 0 1 0 3.1 0a1.55 1.55 0 1 0 -3.1 0M474.8 509.6a1.55 1.55 0 1 0 3.1 0a1.55 1.55 0 1 0 -3.1 0M478.3 501.0a1.55 1.55 0 1 0 3.1 0a1.55 1.55 0 1 0 -3.1 0M552.7 516.2a1.55 1.55 0 1 0 3.1 0a1.55 1.55 0 1 0 -3.1 0M479.3 508.0a1.55 1.55 0 1 0 3.1 0a1.55 1.55 0 1 0 -3.1 0M506.7 516.8a1.55 1.55 0 1 0 3.1 0a1.55 1.55 0 1 0 -3.1 0M505.2 508.1a1.55 1.55 0 1 0 3.1 0a1.55 1.55 0 1 0 -3.1 0M487.4 470.9a1.55 1.55 0 1 0 3.1 0a1.55 1.55 0 1 0 -3.1 0M479.3 481.3a1.55 1.55 0 1 0 3.1 0a1.55 1.55 0 1 0 -3.1 0M500.3 493.0a1.55 1.55 0 1 0 3.1 0a1.55 1.55 0 1 0 -3.1 0M539.0 508.2a1.55 1.55 0 1 0 3.1 0a1.55 1.55 0 1 0 -3.1 0M919.9 316.8a1.55 1.55 0 1 0 3.1 0a1.55 1.55 0 1 0 -3.1 0M839.6 294.1a1.55 1.55 0 1 0 3.1 0a1.55 1.55 0 1 0 -3.1 0M862.5 332.2a1.55 1.55 0 1 0 3.1 0a1.55 1.55 0 1 0 -3.1 0M914.8 300.1a1.55 1.55 0 1 0 3.1 0a1.55 1.55 0 1 0 -3.1 0M859.4 324.8a1.55 1.55 0 1 0 3.1 0a1.55 1.55 0 1 0 -3.1 0M927.9 324.7a1.55 1.55 0 1 0 3.1 0a1.55 1.55 0 1 0 -3.1 0M905.6 332.9a1.55 1.55 0 1 0 3.1 0a1.55 1.55 0 1 0 -3.1 0M916.2 333.6a1.55 1.55 0 1 0 3.1 0a1.55 1.55 0 1 0 -3.1 0M888.0 338.5a1.55 1.55 0 1 0 3.1 0a1.55 1.55 0 1 0 -3.1 0M891.2 290.6a1.55 1.55 0 1 0 3.1 0a1.55 1.55 0 1 0 -3.1 0M847.3 324.4a1.55 1.55 0 1 0 3.1 0a1.55 1.55 0 1 0 -3.1 0M911.5 304.7a1.55 1.55 0 1 0 3.1 0a1.55 1.55 0 1 0 -3.1 0M868.8 303.4a1.55 1.55 0 1 0 3.1 0a1.55 1.55 0 1 0 -3.1 0M882.2 289.7a1.55 1.55 0 1 0 3.1 0a1.55 1.55 0 1 0 -3.1 0M867.0 295.8a1.55 1.55 0 1 0 3.1 0a1.55 1.55 0 1 0 -3.1 0M899.3 296.9a1.55 1.55 0 1 0 3.1 0a1.55 1.55 0 1 0 -3.1 0M875.0 297.8a1.55 1.55 0 1 0 3.1 0a1.55 1.55 0 1 0 -3.1 0M905.2 317.7a1.55 1.55 0 1 0 3.1 0a1.55 1.55 0 1 0 -3.1 0M841.8 283.7a1.55 1.55 0 1 0 3.1 0a1.55 1.55 0 1 0 -3.1 0M906.7 328.5a1.55 1.55 0 1 0 3.1 0a1.55 1.55 0 1 0 -3.1 0M908.3 324.1a1.55 1.55 0 1 0 3.1 0a1.55 1.55 0 1 0 -3.1 0M883.6 289.8a1.55 1.55 0 1 0 3.1 0a1.55 1.55 0 1 0 -3.1 0M881.6 323.6a1.55 1.55 0 1 0 3.1 0a1.55 1.55 0 1 0 -3.1 0M868.2 336.0a1.55 1.55 0 1 0 3.1 0a1.55 1.55 0 1 0 -3.1 0M860.0 324.6a1.55 1.55 0 1 0 3.1 0a1.55 1.55 0 1 0 -3.1 0M855.7 336.9a1.55 1.55 0 1 0 3.1 0a1.55 1.55 0 1 0 -3.1 0M883.3 327.9a1.55 1.55 0 1 0 3.1 0a1.55 1.55 0 1 0 -3.1 0M909.0 286.1a1.55 1.55 0 1 0 3.1 0a1.55 1.55 0 1 0 -3.1 0M865.1 306.8a1.55 1.55 0 1 0 3.1 0a1.55 1.55 0 1 0 -3.1 0M887.1 336.1a1.55 1.55 0 1 0 3.1 0a1.55 1.55 0 1 0 -3.1 0M1020.8 334.6a1.55 1.55 0 1 0 3.1 0a1.55 1.55 0 1 0 -3.1 0M957.2 330.3a1.55 1.55 0 1 0 3.1 0a1.55 1.55 0 1 0 -3.1 0M1013.8 286.8a1.55 1.55 0 1 0 3.1 0a1.55 1.55 0 1 0 -3.1 0M937.9 321.0a1.55 1.55 0 1 0 3.1 0a1.55 1.55 0 1 0 -3.1 0M951.8 312.9a1.55 1.55 0 1 0 3.1 0a1.55 1.55 0 1 0 -3.1 0M1020.6 336.4a1.55 1.55 0 1 0 3.1 0a1.55 1.55 0 1 0 -3.1 0M949.8 311.8a1.55 1.55 0 1 0 3.1 0a1.55 1.55 0 1 0 -3.1 0M983.1 296.6a1.55 1.55 0 1 0 3.1 0a1.55 1.55 0 1 0 -3.1 0M975.0 332.2a1.55 1.55 0 1 0 3.1 0a1.55 1.55 0 1 0 -3.1 0M967.0 282.6a1.55 1.55 0 1 0 3.1 0a1.55 1.55 0 1 0 -3.1 0M1004.5 333.7a1.55 1.55 0 1 0 3.1 0a1.55 1.55 0 1 0 -3.1 0M1009.9 322.2a1.55 1.55 0 1 0 3.1 0a1.55 1.55 0 1 0 -3.1 0M882.6 366.3a1.55 1.55 0 1 0 3.1 0a1.55 1.55 0 1 0 -3.1 0M908.9 359.6a1.55 1.55 0 1 0 3.1 0a1.55 1.55 0 1 0 -3.1 0M933.4 390.4a1.55 1.55 0 1 0 3.1 0a1.55 1.55 0 1 0 -3.1 0M916.0 375.3a1.55 1.55 0 1 0 3.1 0a1.55 1.55 0 1 0 -3.1 0M913.2 347.0a1.55 1.55 0 1 0 3.1 0a1.55 1.55 0 1 0 -3.1 0M932.9 383.9a1.55 1.55 0 1 0 3.1 0a1.55 1.55 0 1 0 -3.1 0M882.1 344.0a1.55 1.55 0 1 0 3.1 0a1.55 1.55 0 1 0 -3.1 0M928.6 377.6a1.55 1.55 0 1 0 3.1 0a1.55 1.55 0 1 0 -3.1 0M928.0 375.7a1.55 1.55 0 1 0 3.1 0a1.55 1.55 0 1 0 -3.1 0M874.7 354.9a1.55 1.55 0 1 0 3.1 0a1.55 1.55 0 1 0 -3.1 0M883.8 373.2a1.55 1.55 0 1 0 3.1 0a1.55 1.55 0 1 0 -3.1 0M875.8 374.1a1.55 1.55 0 1 0 3.1 0a1.55 1.55 0 1 0 -3.1 0M852.5 396.0a1.55 1.55 0 1 0 3.1 0a1.55 1.55 0 1 0 -3.1 0M910.5 366.3a1.55 1.55 0 1 0 3.1 0a1.55 1.55 0 1 0 -3.1 0M902.7 352.3a1.55 1.55 0 1 0 3.1 0a1.55 1.55 0 1 0 -3.1 0M861.0 385.8a1.55 1.55 0 1 0 3.1 0a1.55 1.55 0 1 0 -3.1 0M865.6 381.7a1.55 1.55 0 1 0 3.1 0a1.55 1.55 0 1 0 -3.1 0M911.1 377.5a1.55 1.55 0 1 0 3.1 0a1.55 1.55 0 1 0 -3.1 0M869.8 362.1a1.55 1.55 0 1 0 3.1 0a1.55 1.55 0 1 0 -3.1 0M856.9 393.3a1.55 1.55 0 1 0 3.1 0a1.55 1.55 0 1 0 -3.1 0M905.1 355.0a1.55 1.55 0 1 0 3.1 0a1.55 1.55 0 1 0 -3.1 0M867.3 362.1a1.55 1.55 0 1 0 3.1 0a1.55 1.55 0 1 0 -3.1 0M842.6 375.7a1.55 1.55 0 1 0 3.1 0a1.55 1.55 0 1 0 -3.1 0M893.9 384.7a1.55 1.55 0 1 0 3.1 0a1.55 1.55 0 1 0 -3.1 0M872.2 363.6a1.55 1.55 0 1 0 3.1 0a1.55 1.55 0 1 0 -3.1 0M895.0 390.5a1.55 1.55 0 1 0 3.1 0a1.55 1.55 0 1 0 -3.1 0M906.0 394.9a1.55 1.55 0 1 0 3.1 0a1.55 1.55 0 1 0 -3.1 0M930.8 387.7a1.55 1.55 0 1 0 3.1 0a1.55 1.55 0 1 0 -3.1 0M863.3 387.8a1.55 1.55 0 1 0 3.1 0a1.55 1.55 0 1 0 -3.1 0M932.9 382.7a1.55 1.55 0 1 0 3.1 0a1.55 1.55 0 1 0 -3.1 0M997.5 367.3a1.55 1.55 0 1 0 3.1 0a1.55 1.55 0 1 0 -3.1 0M992.0 393.7a1.55 1.55 0 1 0 3.1 0a1.55 1.55 0 1 0 -3.1 0M958.2 365.2a1.55 1.55 0 1 0 3.1 0a1.55 1.55 0 1 0 -3.1 0M1023.5 351.4a1.55 1.55 0 1 0 3.1 0a1.55 1.55 0 1 0 -3.1 0M994.1 369.0a1.55 1.55 0 1 0 3.1 0a1.55 1.55 0 1 0 -3.1 0M935.1 347.0a1.55 1.55 0 1 0 3.1 0a1.55 1.55 0 1 0 -3.1 0M940.0 392.0a1.55 1.55 0 1 0 3.1 0a1.55 1.55 0 1 0 -3.1 0M999.1 351.7a1.55 1.55 0 1 0 3.1 0a1.55 1.55 0 1 0 -3.1 0M1007.9 372.9a1.55 1.55 0 1 0 3.1 0a1.55 1.55 0 1 0 -3.1 0M950.4 397.5a1.55 1.55 0 1 0 3.1 0a1.55 1.55 0 1 0 -3.1 0M1014.0 341.9a1.55 1.55 0 1 0 3.1 0a1.55 1.55 0 1 0 -3.1 0M956.7 348.5a1.55 1.55 0 1 0 3.1 0a1.55 1.55 0 1 0 -3.1 0M971.7 381.2a1.55 1.55 0 1 0 3.1 0a1.55 1.55 0 1 0 -3.1 0M981.3 399.1a1.55 1.55 0 1 0 3.1 0a1.55 1.55 0 1 0 -3.1 0M975.5 387.8a1.55 1.55 0 1 0 3.1 0a1.55 1.55 0 1 0 -3.1 0M1000.9 369.9a1.55 1.55 0 1 0 3.1 0a1.55 1.55 0 1 0 -3.1 0M1015.7 346.7a1.55 1.55 0 1 0 3.1 0a1.55 1.55 0 1 0 -3.1 0M963.6 383.1a1.55 1.55 0 1 0 3.1 0a1.55 1.55 0 1 0 -3.1 0M1022.3 369.9a1.55 1.55 0 1 0 3.1 0a1.55 1.55 0 1 0 -3.1 0M942.8 396.9a1.55 1.55 0 1 0 3.1 0a1.55 1.55 0 1 0 -3.1 0M866.7 411.2a1.55 1.55 0 1 0 3.1 0a1.55 1.55 0 1 0 -3.1 0M866.4 416.2a1.55 1.55 0 1 0 3.1 0a1.55 1.55 0 1 0 -3.1 0M870.8 423.1a1.55 1.55 0 1 0 3.1 0a1.55 1.55 0 1 0 -3.1 0M926.7 455.5a1.55 1.55 0 1 0 3.1 0a1.55 1.55 0 1 0 -3.1 0M915.5 426.7a1.55 1.55 0 1 0 3.1 0a1.55 1.55 0 1 0 -3.1 0M875.1 438.0a1.55 1.55 0 1 0 3.1 0a1.55 1.55 0 1 0 -3.1 0M845.9 443.4a1.55 1.55 0 1 0 3.1 0a1.55 1.55 0 1 0 -3.1 0M898.1 452.9a1.55 1.55 0 1 0 3.1 0a1.55 1.55 0 1 0 -3.1 0M902.5 401.8a1.55 1.55 0 1 0 3.1 0a1.55 1.55 0 1 0 -3.1 0M931.9 406.2a1.55 1.55 0 1 0 3.1 0a1.55 1.55 0 1 0 -3.1 0M915.4 448.2a1.55 1.55 0 1 0 3.1 0a1.55 1.55 0 1 0 -3.1 0M930.9 446.7a1.55 1.55 0 1 0 3.1 0a1.55 1.55 0 1 0 -3.1 0M921.3 406.8a1.55 1.55 0 1 0 3.1 0a1.55 1.55 0 1 0 -3.1 0M898.0 427.9a1.55 1.55 0 1 0 3.1 0a1.55 1.55 0 1 0 -3.1 0M858.2 428.0a1.55 1.55 0 1 0 3.1 0a1.55 1.55 0 1 0 -3.1 0M866.8 451.2a1.55 1.55 0 1 0 3.1 0a1.55 1.55 0 1 0 -3.1 0M851.4 411.4a1.55 1.55 0 1 0 3.1 0a1.55 1.55 0 1 0 -3.1 0M926.4 450.3a1.55 1.55 0 1 0 3.1 0a1.55 1.55 0 1 0 -3.1 0M840.6 443.1a1.55 1.55 0 1 0 3.1 0a1.55 1.55 0 1 0 -3.1 0M852.0 447.5a1.55 1.55 0 1 0 3.1 0a1.55 1.55 0 1 0 -3.1 0M948.9 446.1a1.55 1.55 0 1 0 3.1 0a1.55 1.55 0 1 0 -3.1 0M941.8 430.8a1.55 1.55 0 1 0 3.1 0a1.55 1.55 0 1 0 -3.1 0M989.6 439.9a1.55 1.55 0 1 0 3.1 0a1.55 1.55 0 1 0 -3.1 0M943.9 410.8a1.55 1.55 0 1 0 3.1 0a1.55 1.55 0 1 0 -3.1 0M1009.6 425.5a1.55 1.55 0 1 0 3.1 0a1.55 1.55 0 1 0 -3.1 0M946.7 426.7a1.55 1.55 0 1 0 3.1 0a1.55 1.55 0 1 0 -3.1 0M993.1 433.4a1.55 1.55 0 1 0 3.1 0a1.55 1.55 0 1 0 -3.1 0M1015.2 435.6a1.55 1.55 0 1 0 3.1 0a1.55 1.55 0 1 0 -3.1 0M981.9 451.9a1.55 1.55 0 1 0 3.1 0a1.55 1.55 0 1 0 -3.1 0M986.9 413.4a1.55 1.55 0 1 0 3.1 0a1.55 1.55 0 1 0 -3.1 0M1002.7 443.5a1.55 1.55 0 1 0 3.1 0a1.55 1.55 0 1 0 -3.1 0M1027.3 416.2a1.55 1.55 0 1 0 3.1 0a1.55 1.55 0 1 0 -3.1 0M973.7 434.2a1.55 1.55 0 1 0 3.1 0a1.55 1.55 0 1 0 -3.1 0M1007.2 448.3a1.55 1.55 0 1 0 3.1 0a1.55 1.55 0 1 0 -3.1 0M994.0 416.2a1.55 1.55 0 1 0 3.1 0a1.55 1.55 0 1 0 -3.1 0M911.9 512.0a1.55 1.55 0 1 0 3.1 0a1.55 1.55 0 1 0 -3.1 0M921.7 483.3a1.55 1.55 0 1 0 3.1 0a1.55 1.55 0 1 0 -3.1 0M923.1 471.2a1.55 1.55 0 1 0 3.1 0a1.55 1.55 0 1 0 -3.1 0M921.3 514.3a1.55 1.55 0 1 0 3.1 0a1.55 1.55 0 1 0 -3.1 0M906.8 506.1a1.55 1.55 0 1 0 3.1 0a1.55 1.55 0 1 0 -3.1 0M864.4 498.5a1.55 1.55 0 1 0 3.1 0a1.55 1.55 0 1 0 -3.1 0M895.1 480.6a1.55 1.55 0 1 0 3.1 0a1.55 1.55 0 1 0 -3.1 0M927.2 516.9a1.55 1.55 0 1 0 3.1 0a1.55 1.55 0 1 0 -3.1 0M857.6 496.3a1.55 1.55 0 1 0 3.1 0a1.55 1.55 0 1 0 -3.1 0M916.5 485.2a1.55 1.55 0 1 0 3.1 0a1.55 1.55 0 1 0 -3.1 0M887.6 472.8a1.55 1.55 0 1 0 3.1 0a1.55 1.55 0 1 0 -3.1 0M901.1 500.6a1.55 1.55 0 1 0 3.1 0a1.55 1.55 0 1 0 -3.1 0M847.6 490.4a1.55 1.55 0 1 0 3.1 0a1.55 1.55 0 1 0 -3.1 0M922.4 482.4a1.55 1.55 0 1 0 3.1 0a1.55 1.55 0 1 0 -3.1 0M844.4 491.7a1.55 1.55 0 1 0 3.1 0a1.55 1.55 0 1 0 -3.1 0M875.6 483.3a1.55 1.55 0 1 0 3.1 0a1.55 1.55 0 1 0 -3.1 0M894.7 461.5a1.55 1.55 0 1 0 3.1 0a1.55 1.55 0 1 0 -3.1 0M871.2 493.6a1.55 1.55 0 1 0 3.1 0a1.55 1.55 0 1 0 -3.1 0M897.2 465.4a1.55 1.55 0 1 0 3.1 0a1.55 1.55 0 1 0 -3.1 0M906.0 489.9a1.55 1.55 0 1 0 3.1 0a1.55 1.55 0 1 0 -3.1 0M980.7 503.1a1.55 1.55 0 1 0 3.1 0a1.55 1.55 0 1 0 -3.1 0M972.2 479.9a1.55 1.55 0 1 0 3.1 0a1.55 1.55 0 1 0 -3.1 0M1020.0 470.4a1.55 1.55 0 1 0 3.1 0a1.55 1.55 0 1 0 -3.1 0M948.9 489.5a1.55 1.55 0 1 0 3.1 0a1.55 1.55 0 1 0 -3.1 0M980.1 459.3a1.55 1.55 0 1 0 3.1 0a1.55 1.55 0 1 0 -3.1 0M941.9 487.5a1.55 1.55 0 1 0 3.1 0a1.55 1.55 0 1 0 -3.1 0M1019.9 494.2a1.55 1.55 0 1 0 3.1 0a1.55 1.55 0 1 0 -3.1 0M958.4 484.9a1.55 1.55 0 1 0 3.1 0a1.55 1.55 0 1 0 -3.1 0M963.9 463.0a1.55 1.55 0 1 0 3.1 0a1.55 1.55 0 1 0 -3.1 0M941.7 505.5a1.55 1.55 0 1 0 3.1 0a1.55 1.55 0 1 0 -3.1 0M941.6 475.7a1.55 1.55 0 1 0 3.1 0a1.55 1.55 0 1 0 -3.1 0M961.3 464.6a1.55 1.55 0 1 0 3.1 0a1.55 1.55 0 1 0 -3.1 0M551.4 560.0a1.55 1.55 0 1 0 3.1 0a1.55 1.55 0 1 0 -3.1 0M556.2 522.9a1.55 1.55 0 1 0 3.1 0a1.55 1.55 0 1 0 -3.1 0M496.3 557.4a1.55 1.55 0 1 0 3.1 0a1.55 1.55 0 1 0 -3.1 0M473.9 522.7a1.55 1.55 0 1 0 3.1 0a1.55 1.55 0 1 0 -3.1 0M479.5 576.2a1.55 1.55 0 1 0 3.1 0a1.55 1.55 0 1 0 -3.1 0M545.9 541.4a1.55 1.55 0 1 0 3.1 0a1.55 1.55 0 1 0 -3.1 0M525.3 533.5a1.55 1.55 0 1 0 3.1 0a1.55 1.55 0 1 0 -3.1 0M466.0 571.3a1.55 1.55 0 1 0 3.1 0a1.55 1.55 0 1 0 -3.1 0M509.1 573.8a1.55 1.55 0 1 0 3.1 0a1.55 1.55 0 1 0 -3.1 0M509.5 533.3a1.55 1.55 0 1 0 3.1 0a1.55 1.55 0 1 0 -3.1 0M524.0 540.3a1.55 1.55 0 1 0 3.1 0a1.55 1.55 0 1 0 -3.1 0M632.6 537.4a1.55 1.55 0 1 0 3.1 0a1.55 1.55 0 1 0 -3.1 0M586.6 537.9a1.55 1.55 0 1 0 3.1 0a1.55 1.55 0 1 0 -3.1 0M564.2 537.6a1.55 1.55 0 1 0 3.1 0a1.55 1.55 0 1 0 -3.1 0M610.7 540.3a1.55 1.55 0 1 0 3.1 0a1.55 1.55 0 1 0 -3.1 0M598.5 563.4a1.55 1.55 0 1 0 3.1 0a1.55 1.55 0 1 0 -3.1 0M624.8 549.3a1.55 1.55 0 1 0 3.1 0a1.55 1.55 0 1 0 -3.1 0M626.6 555.2a1.55 1.55 0 1 0 3.1 0a1.55 1.55 0 1 0 -3.1 0M564.6 544.7a1.55 1.55 0 1 0 3.1 0a1.55 1.55 0 1 0 -3.1 0M615.1 522.3a1.55 1.55 0 1 0 3.1 0a1.55 1.55 0 1 0 -3.1 0M640.1 573.4a1.55 1.55 0 1 0 3.1 0a1.55 1.55 0 1 0 -3.1 0M629.1 561.3a1.55 1.55 0 1 0 3.1 0a1.55 1.55 0 1 0 -3.1 0M622.1 554.3a1.55 1.55 0 1 0 3.1 0a1.55 1.55 0 1 0 -3.1 0M586.7 547.9a1.55 1.55 0 1 0 3.1 0a1.55 1.55 0 1 0 -3.1 0M606.4 535.7a1.55 1.55 0 1 0 3.1 0a1.55 1.55 0 1 0 -3.1 0M616.5 536.7a1.55 1.55 0 1 0 3.1 0a1.55 1.55 0 1 0 -3.1 0M592.5 536.7a1.55 1.55 0 1 0 3.1 0a1.55 1.55 0 1 0 -3.1 0M588.9 540.9a1.55 1.55 0 1 0 3.1 0a1.55 1.55 0 1 0 -3.1 0M599.7 543.5a1.55 1.55 0 1 0 3.1 0a1.55 1.55 0 1 0 -3.1 0M558.0 547.3a1.55 1.55 0 1 0 3.1 0a1.55 1.55 0 1 0 -3.1 0M508.6 628.8a1.55 1.55 0 1 0 3.1 0a1.55 1.55 0 1 0 -3.1 0M492.0 619.5a1.55 1.55 0 1 0 3.1 0a1.55 1.55 0 1 0 -3.1 0M529.3 577.6a1.55 1.55 0 1 0 3.1 0a1.55 1.55 0 1 0 -3.1 0M496.2 589.1a1.55 1.55 0 1 0 3.1 0a1.55 1.55 0 1 0 -3.1 0M475.2 601.5a1.55 1.55 0 1 0 3.1 0a1.55 1.55 0 1 0 -3.1 0M502.8 618.8a1.55 1.55 0 1 0 3.1 0a1.55 1.55 0 1 0 -3.1 0M539.5 591.7a1.55 1.55 0 1 0 3.1 0a1.55 1.55 0 1 0 -3.1 0M474.6 618.5a1.55 1.55 0 1 0 3.1 0a1.55 1.55 0 1 0 -3.1 0M539.3 577.2a1.55 1.55 0 1 0 3.1 0a1.55 1.55 0 1 0 -3.1 0M519.7 584.3a1.55 1.55 0 1 0 3.1 0a1.55 1.55 0 1 0 -3.1 0M554.8 592.1a1.55 1.55 0 1 0 3.1 0a1.55 1.55 0 1 0 -3.1 0M522.8 622.7a1.55 1.55 0 1 0 3.1 0a1.55 1.55 0 1 0 -3.1 0M600.0 621.9a1.55 1.55 0 1 0 3.1 0a1.55 1.55 0 1 0 -3.1 0M631.8 587.5a1.55 1.55 0 1 0 3.1 0a1.55 1.55 0 1 0 -3.1 0M645.5 586.2a1.55 1.55 0 1 0 3.1 0a1.55 1.55 0 1 0 -3.1 0M617.4 624.7a1.55 1.55 0 1 0 3.1 0a1.55 1.55 0 1 0 -3.1 0M633.9 592.8a1.55 1.55 0 1 0 3.1 0a1.55 1.55 0 1 0 -3.1 0M626.8 594.6a1.55 1.55 0 1 0 3.1 0a1.55 1.55 0 1 0 -3.1 0M634.6 618.2a1.55 1.55 0 1 0 3.1 0a1.55 1.55 0 1 0 -3.1 0M619.7 605.2a1.55 1.55 0 1 0 3.1 0a1.55 1.55 0 1 0 -3.1 0M588.2 616.5a1.55 1.55 0 1 0 3.1 0a1.55 1.55 0 1 0 -3.1 0M571.0 606.8a1.55 1.55 0 1 0 3.1 0a1.55 1.55 0 1 0 -3.1 0M591.1 610.9a1.55 1.55 0 1 0 3.1 0a1.55 1.55 0 1 0 -3.1 0M636.7 595.5a1.55 1.55 0 1 0 3.1 0a1.55 1.55 0 1 0 -3.1 0M620.5 577.7a1.55 1.55 0 1 0 3.1 0a1.55 1.55 0 1 0 -3.1 0M576.9 605.8a1.55 1.55 0 1 0 3.1 0a1.55 1.55 0 1 0 -3.1 0M465.7 655.3a1.55 1.55 0 1 0 3.1 0a1.55 1.55 0 1 0 -3.1 0M479.8 665.3a1.55 1.55 0 1 0 3.1 0a1.55 1.55 0 1 0 -3.1 0M523.5 665.0a1.55 1.55 0 1 0 3.1 0a1.55 1.55 0 1 0 -3.1 0M529.4 642.3a1.55 1.55 0 1 0 3.1 0a1.55 1.55 0 1 0 -3.1 0M508.1 651.8a1.55 1.55 0 1 0 3.1 0a1.55 1.55 0 1 0 -3.1 0M525.7 641.7a1.55 1.55 0 1 0 3.1 0a1.55 1.55 0 1 0 -3.1 0M468.5 658.4a1.55 1.55 0 1 0 3.1 0a1.55 1.55 0 1 0 -3.1 0M643.5 655.0a1.55 1.55 0 1 0 3.1 0a1.55 1.55 0 1 0 -3.1 0M589.8 639.8a1.55 1.55 0 1 0 3.1 0a1.55 1.55 0 1 0 -3.1 0M588.5 665.2a1.55 1.55 0 1 0 3.1 0a1.55 1.55 0 1 0 -3.1 0M569.3 646.9a1.55 1.55 0 1 0 3.1 0a1.55 1.55 0 1 0 -3.1 0M649.8 665.3a1.55 1.55 0 1 0 3.1 0a1.55 1.55 0 1 0 -3.1 0M590.8 645.8a1.55 1.55 0 1 0 3.1 0a1.55 1.55 0 1 0 -3.1 0M562.6 646.5a1.55 1.55 0 1 0 3.1 0a1.55 1.55 0 1 0 -3.1 0M621.2 659.7a1.55 1.55 0 1 0 3.1 0a1.55 1.55 0 1 0 -3.1 0M669.3 529.8a1.55 1.55 0 1 0 3.1 0a1.55 1.55 0 1 0 -3.1 0M699.1 549.7a1.55 1.55 0 1 0 3.1 0a1.55 1.55 0 1 0 -3.1 0M717.9 532.3a1.55 1.55 0 1 0 3.1 0a1.55 1.55 0 1 0 -3.1 0M730.8 528.8a1.55 1.55 0 1 0 3.1 0a1.55 1.55 0 1 0 -3.1 0M713.8 534.2a1.55 1.55 0 1 0 3.1 0a1.55 1.55 0 1 0 -3.1 0M665.5 535.5a1.55 1.55 0 1 0 3.1 0a1.55 1.55 0 1 0 -3.1 0M674.7 561.5a1.55 1.55 0 1 0 3.1 0a1.55 1.55 0 1 0 -3.1 0M662.0 553.3a1.55 1.55 0 1 0 3.1 0a1.55 1.55 0 1 0 -3.1 0M652.5 538.0a1.55 1.55 0 1 0 3.1 0a1.55 1.55 0 1 0 -3.1 0M721.2 531.0a1.55 1.55 0 1 0 3.1 0a1.55 1.55 0 1 0 -3.1 0M662.8 538.9a1.55 1.55 0 1 0 3.1 0a1.55 1.55 0 1 0 -3.1 0M729.7 574.6a1.55 1.55 0 1 0 3.1 0a1.55 1.55 0 1 0 -3.1 0M668.9 560.9a1.55 1.55 0 1 0 3.1 0a1.55 1.55 0 1 0 -3.1 0M694.2 566.6a1.55 1.55 0 1 0 3.1 0a1.55 1.55 0 1 0 -3.1 0M701.5 556.4a1.55 1.55 0 1 0 3.1 0a1.55 1.55 0 1 0 -3.1 0M712.5 545.4a1.55 1.55 0 1 0 3.1 0a1.55 1.55 0 1 0 -3.1 0M715.4 562.2a1.55 1.55 0 1 0 3.1 0a1.55 1.55 0 1 0 -3.1 0M717.4 533.4a1.55 1.55 0 1 0 3.1 0a1.55 1.55 0 1 0 -3.1 0M718.8 572.7a1.55 1.55 0 1 0 3.1 0a1.55 1.55 0 1 0 -3.1 0M739.9 542.7a1.55 1.55 0 1 0 3.1 0a1.55 1.55 0 1 0 -3.1 0M676.3 551.1a1.55 1.55 0 1 0 3.1 0a1.55 1.55 0 1 0 -3.1 0M699.5 546.2a1.55 1.55 0 1 0 3.1 0a1.55 1.55 0 1 0 -3.1 0M674.0 561.1a1.55 1.55 0 1 0 3.1 0a1.55 1.55 0 1 0 -3.1 0M685.0 530.6a1.55 1.55 0 1 0 3.1 0a1.55 1.55 0 1 0 -3.1 0M691.9 574.5a1.55 1.55 0 1 0 3.1 0a1.55 1.55 0 1 0 -3.1 0M693.3 564.9a1.55 1.55 0 1 0 3.1 0a1.55 1.55 0 1 0 -3.1 0M651.8 519.1a1.55 1.55 0 1 0 3.1 0a1.55 1.55 0 1 0 -3.1 0M678.4 545.0a1.55 1.55 0 1 0 3.1 0a1.55 1.55 0 1 0 -3.1 0M684.4 573.6a1.55 1.55 0 1 0 3.1 0a1.55 1.55 0 1 0 -3.1 0M735.6 521.5a1.55 1.55 0 1 0 3.1 0a1.55 1.55 0 1 0 -3.1 0M784.2 562.6a1.55 1.55 0 1 0 3.1 0a1.55 1.55 0 1 0 -3.1 0M834.8 572.7a1.55 1.55 0 1 0 3.1 0a1.55 1.55 0 1 0 -3.1 0M764.3 537.7a1.55 1.55 0 1 0 3.1 0a1.55 1.55 0 1 0 -3.1 0M800.6 560.3a1.55 1.55 0 1 0 3.1 0a1.55 1.55 0 1 0 -3.1 0M833.4 552.6a1.55 1.55 0 1 0 3.1 0a1.55 1.55 0 1 0 -3.1 0M801.2 571.4a1.55 1.55 0 1 0 3.1 0a1.55 1.55 0 1 0 -3.1 0M829.0 570.7a1.55 1.55 0 1 0 3.1 0a1.55 1.55 0 1 0 -3.1 0M782.2 524.5a1.55 1.55 0 1 0 3.1 0a1.55 1.55 0 1 0 -3.1 0M834.1 523.4a1.55 1.55 0 1 0 3.1 0a1.55 1.55 0 1 0 -3.1 0M823.1 563.0a1.55 1.55 0 1 0 3.1 0a1.55 1.55 0 1 0 -3.1 0M748.0 550.1a1.55 1.55 0 1 0 3.1 0a1.55 1.55 0 1 0 -3.1 0M751.0 520.0a1.55 1.55 0 1 0 3.1 0a1.55 1.55 0 1 0 -3.1 0M745.8 557.5a1.55 1.55 0 1 0 3.1 0a1.55 1.55 0 1 0 -3.1 0M764.2 575.9a1.55 1.55 0 1 0 3.1 0a1.55 1.55 0 1 0 -3.1 0M792.1 572.3a1.55 1.55 0 1 0 3.1 0a1.55 1.55 0 1 0 -3.1 0M829.9 536.1a1.55 1.55 0 1 0 3.1 0a1.55 1.55 0 1 0 -3.1 0M779.9 527.1a1.55 1.55 0 1 0 3.1 0a1.55 1.55 0 1 0 -3.1 0M820.2 557.5a1.55 1.55 0 1 0 3.1 0a1.55 1.55 0 1 0 -3.1 0M824.9 521.9a1.55 1.55 0 1 0 3.1 0a1.55 1.55 0 1 0 -3.1 0M803.5 556.0a1.55 1.55 0 1 0 3.1 0a1.55 1.55 0 1 0 -3.1 0M830.0 521.1a1.55 1.55 0 1 0 3.1 0a1.55 1.55 0 1 0 -3.1 0M777.8 571.6a1.55 1.55 0 1 0 3.1 0a1.55 1.55 0 1 0 -3.1 0M826.9 537.5a1.55 1.55 0 1 0 3.1 0a1.55 1.55 0 1 0 -3.1 0M766.9 543.3a1.55 1.55 0 1 0 3.1 0a1.55 1.55 0 1 0 -3.1 0M774.1 522.5a1.55 1.55 0 1 0 3.1 0a1.55 1.55 0 1 0 -3.1 0M652.3 580.2a1.55 1.55 0 1 0 3.1 0a1.55 1.55 0 1 0 -3.1 0M674.0 618.5a1.55 1.55 0 1 0 3.1 0a1.55 1.55 0 1 0 -3.1 0M729.2 583.0a1.55 1.55 0 1 0 3.1 0a1.55 1.55 0 1 0 -3.1 0M720.1 616.1a1.55 1.55 0 1 0 3.1 0a1.55 1.55 0 1 0 -3.1 0M694.3 586.5a1.55 1.55 0 1 0 3.1 0a1.55 1.55 0 1 0 -3.1 0M684.4 588.2a1.55 1.55 0 1 0 3.1 0a1.55 1.55 0 1 0 -3.1 0M724.4 608.1a1.55 1.55 0 1 0 3.1 0a1.55 1.55 0 1 0 -3.1 0M735.2 613.1a1.55 1.55 0 1 0 3.1 0a1.55 1.55 0 1 0 -3.1 0M721.4 598.0a1.55 1.55 0 1 0 3.1 0a1.55 1.55 0 1 0 -3.1 0M681.9 604.4a1.55 1.55 0 1 0 3.1 0a1.55 1.55 0 1 0 -3.1 0M707.8 604.1a1.55 1.55 0 1 0 3.1 0a1.55 1.55 0 1 0 -3.1 0M661.1 577.2a1.55 1.55 0 1 0 3.1 0a1.55 1.55 0 1 0 -3.1 0M741.8 633.6a1.55 1.55 0 1 0 3.1 0a1.55 1.55 0 1 0 -3.1 0M739.7 604.4a1.55 1.55 0 1 0 3.1 0a1.55 1.55 0 1 0 -3.1 0M662.5 587.3a1.55 1.55 0 1 0 3.1 0a1.55 1.55 0 1 0 -3.1 0M691.5 593.7a1.55 1.55 0 1 0 3.1 0a1.55 1.55 0 1 0 -3.1 0M728.7 604.0a1.55 1.55 0 1 0 3.1 0a1.55 1.55 0 1 0 -3.1 0M655.3 587.2a1.55 1.55 0 1 0 3.1 0a1.55 1.55 0 1 0 -3.1 0M716.1 582.0a1.55 1.55 0 1 0 3.1 0a1.55 1.55 0 1 0 -3.1 0M676.1 589.4a1.55 1.55 0 1 0 3.1 0a1.55 1.55 0 1 0 -3.1 0M733.0 614.8a1.55 1.55 0 1 0 3.1 0a1.55 1.55 0 1 0 -3.1 0M689.3 616.1a1.55 1.55 0 1 0 3.1 0a1.55 1.55 0 1 0 -3.1 0M651.2 622.1a1.55 1.55 0 1 0 3.1 0a1.55 1.55 0 1 0 -3.1 0M681.9 629.4a1.55 1.55 0 1 0 3.1 0a1.55 1.55 0 1 0 -3.1 0M722.9 610.6a1.55 1.55 0 1 0 3.1 0a1.55 1.55 0 1 0 -3.1 0M748.3 618.6a1.55 1.55 0 1 0 3.1 0a1.55 1.55 0 1 0 -3.1 0M791.1 585.5a1.55 1.55 0 1 0 3.1 0a1.55 1.55 0 1 0 -3.1 0M770.5 587.2a1.55 1.55 0 1 0 3.1 0a1.55 1.55 0 1 0 -3.1 0M768.1 617.9a1.55 1.55 0 1 0 3.1 0a1.55 1.55 0 1 0 -3.1 0M797.2 597.2a1.55 1.55 0 1 0 3.1 0a1.55 1.55 0 1 0 -3.1 0M828.0 583.9a1.55 1.55 0 1 0 3.1 0a1.55 1.55 0 1 0 -3.1 0M768.6 591.8a1.55 1.55 0 1 0 3.1 0a1.55 1.55 0 1 0 -3.1 0M804.9 613.0a1.55 1.55 0 1 0 3.1 0a1.55 1.55 0 1 0 -3.1 0M818.2 582.8a1.55 1.55 0 1 0 3.1 0a1.55 1.55 0 1 0 -3.1 0M790.2 581.7a1.55 1.55 0 1 0 3.1 0a1.55 1.55 0 1 0 -3.1 0M757.0 626.0a1.55 1.55 0 1 0 3.1 0a1.55 1.55 0 1 0 -3.1 0M817.1 617.7a1.55 1.55 0 1 0 3.1 0a1.55 1.55 0 1 0 -3.1 0M800.2 606.4a1.55 1.55 0 1 0 3.1 0a1.55 1.55 0 1 0 -3.1 0M758.7 591.3a1.55 1.55 0 1 0 3.1 0a1.55 1.55 0 1 0 -3.1 0M814.9 627.2a1.55 1.55 0 1 0 3.1 0a1.55 1.55 0 1 0 -3.1 0M769.5 588.5a1.55 1.55 0 1 0 3.1 0a1.55 1.55 0 1 0 -3.1 0M831.1 584.4a1.55 1.55 0 1 0 3.1 0a1.55 1.55 0 1 0 -3.1 0M792.3 614.1a1.55 1.55 0 1 0 3.1 0a1.55 1.55 0 1 0 -3.1 0M699.8 646.8a1.55 1.55 0 1 0 3.1 0a1.55 1.55 0 1 0 -3.1 0M682.4 665.3a1.55 1.55 0 1 0 3.1 0a1.55 1.55 0 1 0 -3.1 0M669.6 646.6a1.55 1.55 0 1 0 3.1 0a1.55 1.55 0 1 0 -3.1 0M725.9 665.3a1.55 1.55 0 1 0 3.1 0a1.55 1.55 0 1 0 -3.1 0M735.6 638.0a1.55 1.55 0 1 0 3.1 0a1.55 1.55 0 1 0 -3.1 0M706.7 641.2a1.55 1.55 0 1 0 3.1 0a1.55 1.55 0 1 0 -3.1 0M709.7 660.6a1.55 1.55 0 1 0 3.1 0a1.55 1.55 0 1 0 -3.1 0M707.7 663.1a1.55 1.55 0 1 0 3.1 0a1.55 1.55 0 1 0 -3.1 0M663.2 657.6a1.55 1.55 0 1 0 3.1 0a1.55 1.55 0 1 0 -3.1 0M722.9 665.3a1.55 1.55 0 1 0 3.1 0a1.55 1.55 0 1 0 -3.1 0M652.0 656.1a1.55 1.55 0 1 0 3.1 0a1.55 1.55 0 1 0 -3.1 0M698.7 659.1a1.55 1.55 0 1 0 3.1 0a1.55 1.55 0 1 0 -3.1 0M770.4 661.9a1.55 1.55 0 1 0 3.1 0a1.55 1.55 0 1 0 -3.1 0M755.0 643.4a1.55 1.55 0 1 0 3.1 0a1.55 1.55 0 1 0 -3.1 0M780.0 659.2a1.55 1.55 0 1 0 3.1 0a1.55 1.55 0 1 0 -3.1 0M794.2 637.7a1.55 1.55 0 1 0 3.1 0a1.55 1.55 0 1 0 -3.1 0M748.8 636.1a1.55 1.55 0 1 0 3.1 0a1.55 1.55 0 1 0 -3.1 0M777.7 641.0a1.55 1.55 0 1 0 3.1 0a1.55 1.55 0 1 0 -3.1 0M806.4 646.9a1.55 1.55 0 1 0 3.1 0a1.55 1.55 0 1 0 -3.1 0M827.7 665.3a1.55 1.55 0 1 0 3.1 0a1.55 1.55 0 1 0 -3.1 0M790.3 665.3a1.55 1.55 0 1 0 3.1 0a1.55 1.55 0 1 0 -3.1 0M824.7 663.9a1.55 1.55 0 1 0 3.1 0a1.55 1.55 0 1 0 -3.1 0M815.4 661.6a1.55 1.55 0 1 0 3.1 0a1.55 1.55 0 1 0 -3.1 0M794.5 655.4a1.55 1.55 0 1 0 3.1 0a1.55 1.55 0 1 0 -3.1 0M591.0 301.3a1.55 1.55 0 1 0 3.1 0a1.55 1.55 0 1 0 -3.1 0M579.7 297.2a1.55 1.55 0 1 0 3.1 0a1.55 1.55 0 1 0 -3.1 0M587.5 304.7a1.55 1.55 0 1 0 3.1 0a1.55 1.55 0 1 0 -3.1 0M557.5 308.4a1.55 1.55 0 1 0 3.1 0a1.55 1.55 0 1 0 -3.1 0M564.8 285.8a1.55 1.55 0 1 0 3.1 0a1.55 1.55 0 1 0 -3.1 0M590.1 288.9a1.55 1.55 0 1 0 3.1 0a1.55 1.55 0 1 0 -3.1 0M577.3 308.0a1.55 1.55 0 1 0 3.1 0a1.55 1.55 0 1 0 -3.1 0M578.3 285.6a1.55 1.55 0 1 0 3.1 0a1.55 1.55 0 1 0 -3.1 0M637.4 289.3a1.55 1.55 0 1 0 3.1 0a1.55 1.55 0 1 0 -3.1 0M619.5 286.3a1.55 1.55 0 1 0 3.1 0a1.55 1.55 0 1 0 -3.1 0M621.7 281.9a1.55 1.55 0 1 0 3.1 0a1.55 1.55 0 1 0 -3.1 0M645.7 291.6a1.55 1.55 0 1 0 3.1 0a1.55 1.55 0 1 0 -3.1 0M642.7 295.0a1.55 1.55 0 1 0 3.1 0a1.55 1.55 0 1 0 -3.1 0M638.1 307.4a1.55 1.55 0 1 0 3.1 0a1.55 1.55 0 1 0 -3.1 0M650.1 287.4a1.55 1.55 0 1 0 3.1 0a1.55 1.55 0 1 0 -3.1 0M610.2 303.9a1.55 1.55 0 1 0 3.1 0a1.55 1.55 0 1 0 -3.1 0M630.6 288.5a1.55 1.55 0 1 0 3.1 0a1.55 1.55 0 1 0 -3.1 0M610.5 282.7a1.55 1.55 0 1 0 3.1 0a1.55 1.55 0 1 0 -3.1 0M619.8 281.7a1.55 1.55 0 1 0 3.1 0a1.55 1.55 0 1 0 -3.1 0M639.0 296.7a1.55 1.55 0 1 0 3.1 0a1.55 1.55 0 1 0 -3.1 0M620.6 308.2a1.55 1.55 0 1 0 3.1 0a1.55 1.55 0 1 0 -3.1 0M607.6 292.5a1.55 1.55 0 1 0 3.1 0a1.55 1.55 0 1 0 -3.1 0M570.3 312.8a1.55 1.55 0 1 0 3.1 0a1.55 1.55 0 1 0 -3.1 0M599.6 336.0a1.55 1.55 0 1 0 3.1 0a1.55 1.55 0 1 0 -3.1 0M596.9 319.8a1.55 1.55 0 1 0 3.1 0a1.55 1.55 0 1 0 -3.1 0M589.4 315.8a1.55 1.55 0 1 0 3.1 0a1.55 1.55 0 1 0 -3.1 0M581.6 325.6a1.55 1.55 0 1 0 3.1 0a1.55 1.55 0 1 0 -3.1 0M573.6 315.0a1.55 1.55 0 1 0 3.1 0a1.55 1.55 0 1 0 -3.1 0M626.2 313.3a1.55 1.55 0 1 0 3.1 0a1.55 1.55 0 1 0 -3.1 0M644.9 329.0a1.55 1.55 0 1 0 3.1 0a1.55 1.55 0 1 0 -3.1 0M606.5 314.0a1.55 1.55 0 1 0 3.1 0a1.55 1.55 0 1 0 -3.1 0M650.0 325.5a1.55 1.55 0 1 0 3.1 0a1.55 1.55 0 1 0 -3.1 0M614.1 324.5a1.55 1.55 0 1 0 3.1 0a1.55 1.55 0 1 0 -3.1 0M636.3 326.3a1.55 1.55 0 1 0 3.1 0a1.55 1.55 0 1 0 -3.1 0M620.1 333.3a1.55 1.55 0 1 0 3.1 0a1.55 1.55 0 1 0 -3.1 0M617.5 339.1a1.55 1.55 0 1 0 3.1 0a1.55 1.55 0 1 0 -3.1 0M615.5 312.4a1.55 1.55 0 1 0 3.1 0a1.55 1.55 0 1 0 -3.1 0M603.9 319.1a1.55 1.55 0 1 0 3.1 0a1.55 1.55 0 1 0 -3.1 0M640.7 328.6a1.55 1.55 0 1 0 3.1 0a1.55 1.55 0 1 0 -3.1 0M631.6 334.1a1.55 1.55 0 1 0 3.1 0a1.55 1.55 0 1 0 -3.1 0M635.0 319.7a1.55 1.55 0 1 0 3.1 0a1.55 1.55 0 1 0 -3.1 0M638.1 326.1a1.55 1.55 0 1 0 3.1 0a1.55 1.55 0 1 0 -3.1 0M649.3 315.0a1.55 1.55 0 1 0 3.1 0a1.55 1.55 0 1 0 -3.1 0M630.5 320.4a1.55 1.55 0 1 0 3.1 0a1.55 1.55 0 1 0 -3.1 0M616.4 312.7a1.55 1.55 0 1 0 3.1 0a1.55 1.55 0 1 0 -3.1 0M561.3 354.4a1.55 1.55 0 1 0 3.1 0a1.55 1.55 0 1 0 -3.1 0M561.5 364.5a1.55 1.55 0 1 0 3.1 0a1.55 1.55 0 1 0 -3.1 0M592.3 368.1a1.55 1.55 0 1 0 3.1 0a1.55 1.55 0 1 0 -3.1 0M574.4 364.4a1.55 1.55 0 1 0 3.1 0a1.55 1.55 0 1 0 -3.1 0M596.4 367.7a1.55 1.55 0 1 0 3.1 0a1.55 1.55 0 1 0 -3.1 0M641.6 367.3a1.55 1.55 0 1 0 3.1 0a1.55 1.55 0 1 0 -3.1 0M626.8 367.2a1.55 1.55 0 1 0 3.1 0a1.55 1.55 0 1 0 -3.1 0M640.3 353.6a1.55 1.55 0 1 0 3.1 0a1.55 1.55 0 1 0 -3.1 0M614.5 341.7a1.55 1.55 0 1 0 3.1 0a1.55 1.55 0 1 0 -3.1 0M635.6 360.2a1.55 1.55 0 1 0 3.1 0a1.55 1.55 0 1 0 -3.1 0M643.8 358.9a1.55 1.55 0 1 0 3.1 0a1.55 1.55 0 1 0 -3.1 0M647.9 361.3a1.55 1.55 0 1 0 3.1 0a1.55 1.55 0 1 0 -3.1 0M649.9 368.3a1.55 1.55 0 1 0 3.1 0a1.55 1.55 0 1 0 -3.1 0M638.1 361.5a1.55 1.55 0 1 0 3.1 0a1.55 1.55 0 1 0 -3.1 0M623.5 351.3a1.55 1.55 0 1 0 3.1 0a1.55 1.55 0 1 0 -3.1 0M605.6 363.5a1.55 1.55 0 1 0 3.1 0a1.55 1.55 0 1 0 -3.1 0M608.4 348.3a1.55 1.55 0 1 0 3.1 0a1.55 1.55 0 1 0 -3.1 0M613.9 355.4a1.55 1.55 0 1 0 3.1 0a1.55 1.55 0 1 0 -3.1 0M619.0 363.1a1.55 1.55 0 1 0 3.1 0a1.55 1.55 0 1 0 -3.1 0M647.6 355.1a1.55 1.55 0 1 0 3.1 0a1.55 1.55 0 1 0 -3.1 0M634.2 349.3a1.55 1.55 0 1 0 3.1 0a1.55 1.55 0 1 0 -3.1 0M599.7 381.1a1.55 1.55 0 1 0 3.1 0a1.55 1.55 0 1 0 -3.1 0M575.8 395.6a1.55 1.55 0 1 0 3.1 0a1.55 1.55 0 1 0 -3.1 0M592.2 383.9a1.55 1.55 0 1 0 3.1 0a1.55 1.55 0 1 0 -3.1 0M564.5 370.6a1.55 1.55 0 1 0 3.1 0a1.55 1.55 0 1 0 -3.1 0M601.2 372.3a1.55 1.55 0 1 0 3.1 0a1.55 1.55 0 1 0 -3.1 0M595.3 383.9a1.55 1.55 0 1 0 3.1 0a1.55 1.55 0 1 0 -3.1 0M570.5 380.4a1.55 1.55 0 1 0 3.1 0a1.55 1.55 0 1 0 -3.1 0M563.4 381.4a1.55 1.55 0 1 0 3.1 0a1.55 1.55 0 1 0 -3.1 0M559.4 399.2a1.55 1.55 0 1 0 3.1 0a1.55 1.55 0 1 0 -3.1 0M590.1 389.5a1.55 1.55 0 1 0 3.1 0a1.55 1.55 0 1 0 -3.1 0M604.4 390.9a1.55 1.55 0 1 0 3.1 0a1.55 1.55 0 1 0 -3.1 0M644.1 373.3a1.55 1.55 0 1 0 3.1 0a1.55 1.55 0 1 0 -3.1 0M635.7 377.5a1.55 1.55 0 1 0 3.1 0a1.55 1.55 0 1 0 -3.1 0M612.7 389.2a1.55 1.55 0 1 0 3.1 0a1.55 1.55 0 1 0 -3.1 0M645.9 370.5a1.55 1.55 0 1 0 3.1 0a1.55 1.55 0 1 0 -3.1 0M624.4 376.7a1.55 1.55 0 1 0 3.1 0a1.55 1.55 0 1 0 -3.1 0M647.5 370.2a1.55 1.55 0 1 0 3.1 0a1.55 1.55 0 1 0 -3.1 0M617.4 380.3a1.55 1.55 0 1 0 3.1 0a1.55 1.55 0 1 0 -3.1 0M621.9 385.9a1.55 1.55 0 1 0 3.1 0a1.55 1.55 0 1 0 -3.1 0M625.3 391.4a1.55 1.55 0 1 0 3.1 0a1.55 1.55 0 1 0 -3.1 0M604.4 377.0a1.55 1.55 0 1 0 3.1 0a1.55 1.55 0 1 0 -3.1 0M636.3 374.8a1.55 1.55 0 1 0 3.1 0a1.55 1.55 0 1 0 -3.1 0M610.7 392.6a1.55 1.55 0 1 0 3.1 0a1.55 1.55 0 1 0 -3.1 0M631.6 372.0a1.55 1.55 0 1 0 3.1 0a1.55 1.55 0 1 0 -3.1 0M625.7 393.7a1.55 1.55 0 1 0 3.1 0a1.55 1.55 0 1 0 -3.1 0M631.5 371.4a1.55 1.55 0 1 0 3.1 0a1.55 1.55 0 1 0 -3.1 0M644.4 373.1a1.55 1.55 0 1 0 3.1 0a1.55 1.55 0 1 0 -3.1 0M622.8 391.9a1.55 1.55 0 1 0 3.1 0a1.55 1.55 0 1 0 -3.1 0M644.5 376.4a1.55 1.55 0 1 0 3.1 0a1.55 1.55 0 1 0 -3.1 0M643.6 388.1a1.55 1.55 0 1 0 3.1 0a1.55 1.55 0 1 0 -3.1 0M617.0 392.5a1.55 1.55 0 1 0 3.1 0a1.55 1.55 0 1 0 -3.1 0M644.5 372.5a1.55 1.55 0 1 0 3.1 0a1.55 1.55 0 1 0 -3.1 0M620.8 373.8a1.55 1.55 0 1 0 3.1 0a1.55 1.55 0 1 0 -3.1 0M621.5 386.4a1.55 1.55 0 1 0 3.1 0a1.55 1.55 0 1 0 -3.1 0M561.0 406.1a1.55 1.55 0 1 0 3.1 0a1.55 1.55 0 1 0 -3.1 0M564.5 416.0a1.55 1.55 0 1 0 3.1 0a1.55 1.55 0 1 0 -3.1 0M586.6 425.1a1.55 1.55 0 1 0 3.1 0a1.55 1.55 0 1 0 -3.1 0M630.3 409.4a1.55 1.55 0 1 0 3.1 0a1.55 1.55 0 1 0 -3.1 0M643.6 417.2a1.55 1.55 0 1 0 3.1 0a1.55 1.55 0 1 0 -3.1 0M646.9 403.1a1.55 1.55 0 1 0 3.1 0a1.55 1.55 0 1 0 -3.1 0M641.6 417.9a1.55 1.55 0 1 0 3.1 0a1.55 1.55 0 1 0 -3.1 0M628.4 424.0a1.55 1.55 0 1 0 3.1 0a1.55 1.55 0 1 0 -3.1 0M639.3 402.8a1.55 1.55 0 1 0 3.1 0a1.55 1.55 0 1 0 -3.1 0M611.1 407.2a1.55 1.55 0 1 0 3.1 0a1.55 1.55 0 1 0 -3.1 0M636.2 428.1a1.55 1.55 0 1 0 3.1 0a1.55 1.55 0 1 0 -3.1 0M646.7 415.0a1.55 1.55 0 1 0 3.1 0a1.55 1.55 0 1 0 -3.1 0M616.2 428.2a1.55 1.55 0 1 0 3.1 0a1.55 1.55 0 1 0 -3.1 0M640.4 419.2a1.55 1.55 0 1 0 3.1 0a1.55 1.55 0 1 0 -3.1 0M627.7 423.4a1.55 1.55 0 1 0 3.1 0a1.55 1.55 0 1 0 -3.1 0M632.1 417.4a1.55 1.55 0 1 0 3.1 0a1.55 1.55 0 1 0 -3.1 0M641.5 409.5a1.55 1.55 0 1 0 3.1 0a1.55 1.55 0 1 0 -3.1 0M637.5 421.7a1.55 1.55 0 1 0 3.1 0a1.55 1.55 0 1 0 -3.1 0M606.5 403.2a1.55 1.55 0 1 0 3.1 0a1.55 1.55 0 1 0 -3.1 0M647.6 410.1a1.55 1.55 0 1 0 3.1 0a1.55 1.55 0 1 0 -3.1 0M647.0 408.3a1.55 1.55 0 1 0 3.1 0a1.55 1.55 0 1 0 -3.1 0M632.1 416.8a1.55 1.55 0 1 0 3.1 0a1.55 1.55 0 1 0 -3.1 0M620.3 414.7a1.55 1.55 0 1 0 3.1 0a1.55 1.55 0 1 0 -3.1 0M585.3 439.1a1.55 1.55 0 1 0 3.1 0a1.55 1.55 0 1 0 -3.1 0M585.3 451.1a1.55 1.55 0 1 0 3.1 0a1.55 1.55 0 1 0 -3.1 0M574.1 433.7a1.55 1.55 0 1 0 3.1 0a1.55 1.55 0 1 0 -3.1 0M600.9 453.3a1.55 1.55 0 1 0 3.1 0a1.55 1.55 0 1 0 -3.1 0M556.8 430.3a1.55 1.55 0 1 0 3.1 0a1.55 1.55 0 1 0 -3.1 0M596.9 440.7a1.55 1.55 0 1 0 3.1 0a1.55 1.55 0 1 0 -3.1 0M635.0 438.2a1.55 1.55 0 1 0 3.1 0a1.55 1.55 0 1 0 -3.1 0M628.9 451.0a1.55 1.55 0 1 0 3.1 0a1.55 1.55 0 1 0 -3.1 0M603.6 452.9a1.55 1.55 0 1 0 3.1 0a1.55 1.55 0 1 0 -3.1 0M642.8 452.4a1.55 1.55 0 1 0 3.1 0a1.55 1.55 0 1 0 -3.1 0M607.0 451.4a1.55 1.55 0 1 0 3.1 0a1.55 1.55 0 1 0 -3.1 0M628.0 441.4a1.55 1.55 0 1 0 3.1 0a1.55 1.55 0 1 0 -3.1 0M644.9 433.4a1.55 1.55 0 1 0 3.1 0a1.55 1.55 0 1 0 -3.1 0M649.2 432.6a1.55 1.55 0 1 0 3.1 0a1.55 1.55 0 1 0 -3.1 0M624.7 454.5a1.55 1.55 0 1 0 3.1 0a1.55 1.55 0 1 0 -3.1 0M648.6 451.9a1.55 1.55 0 1 0 3.1 0a1.55 1.55 0 1 0 -3.1 0M632.8 450.9a1.55 1.55 0 1 0 3.1 0a1.55 1.55 0 1 0 -3.1 0M642.0 452.7a1.55 1.55 0 1 0 3.1 0a1.55 1.55 0 1 0 -3.1 0M623.3 452.2a1.55 1.55 0 1 0 3.1 0a1.55 1.55 0 1 0 -3.1 0M644.1 440.4a1.55 1.55 0 1 0 3.1 0a1.55 1.55 0 1 0 -3.1 0M633.2 449.4a1.55 1.55 0 1 0 3.1 0a1.55 1.55 0 1 0 -3.1 0M611.8 433.4a1.55 1.55 0 1 0 3.1 0a1.55 1.55 0 1 0 -3.1 0M639.5 437.0a1.55 1.55 0 1 0 3.1 0a1.55 1.55 0 1 0 -3.1 0M650.5 442.1a1.55 1.55 0 1 0 3.1 0a1.55 1.55 0 1 0 -3.1 0M611.9 440.7a1.55 1.55 0 1 0 3.1 0a1.55 1.55 0 1 0 -3.1 0M617.0 443.5a1.55 1.55 0 1 0 3.1 0a1.55 1.55 0 1 0 -3.1 0M625.1 442.0a1.55 1.55 0 1 0 3.1 0a1.55 1.55 0 1 0 -3.1 0M646.9 434.7a1.55 1.55 0 1 0 3.1 0a1.55 1.55 0 1 0 -3.1 0M623.1 434.5a1.55 1.55 0 1 0 3.1 0a1.55 1.55 0 1 0 -3.1 0M644.1 435.8a1.55 1.55 0 1 0 3.1 0a1.55 1.55 0 1 0 -3.1 0M629.5 432.1a1.55 1.55 0 1 0 3.1 0a1.55 1.55 0 1 0 -3.1 0M626.7 455.5a1.55 1.55 0 1 0 3.1 0a1.55 1.55 0 1 0 -3.1 0M616.3 439.3a1.55 1.55 0 1 0 3.1 0a1.55 1.55 0 1 0 -3.1 0M621.4 446.2a1.55 1.55 0 1 0 3.1 0a1.55 1.55 0 1 0 -3.1 0M622.4 453.0a1.55 1.55 0 1 0 3.1 0a1.55 1.55 0 1 0 -3.1 0M607.9 457.2a1.55 1.55 0 1 0 3.1 0a1.55 1.55 0 1 0 -3.1 0M635.2 449.1a1.55 1.55 0 1 0 3.1 0a1.55 1.55 0 1 0 -3.1 0M625.0 431.1a1.55 1.55 0 1 0 3.1 0a1.55 1.55 0 1 0 -3.1 0M633.0 434.7a1.55 1.55 0 1 0 3.1 0a1.55 1.55 0 1 0 -3.1 0M639.4 430.5a1.55 1.55 0 1 0 3.1 0a1.55 1.55 0 1 0 -3.1 0M606.6 447.3a1.55 1.55 0 1 0 3.1 0a1.55 1.55 0 1 0 -3.1 0M648.3 444.9a1.55 1.55 0 1 0 3.1 0a1.55 1.55 0 1 0 -3.1 0M648.2 453.2a1.55 1.55 0 1 0 3.1 0a1.55 1.55 0 1 0 -3.1 0M606.3 432.2a1.55 1.55 0 1 0 3.1 0a1.55 1.55 0 1 0 -3.1 0M580.8 474.4a1.55 1.55 0 1 0 3.1 0a1.55 1.55 0 1 0 -3.1 0M598.1 486.7a1.55 1.55 0 1 0 3.1 0a1.55 1.55 0 1 0 -3.1 0M558.4 483.7a1.55 1.55 0 1 0 3.1 0a1.55 1.55 0 1 0 -3.1 0M584.9 465.1a1.55 1.55 0 1 0 3.1 0a1.55 1.55 0 1 0 -3.1 0M578.9 470.1a1.55 1.55 0 1 0 3.1 0a1.55 1.55 0 1 0 -3.1 0M627.9 461.3a1.55 1.55 0 1 0 3.1 0a1.55 1.55 0 1 0 -3.1 0M619.0 485.6a1.55 1.55 0 1 0 3.1 0a1.55 1.55 0 1 0 -3.1 0M605.3 462.2a1.55 1.55 0 1 0 3.1 0a1.55 1.55 0 1 0 -3.1 0M618.3 484.7a1.55 1.55 0 1 0 3.1 0a1.55 1.55 0 1 0 -3.1 0M631.6 463.2a1.55 1.55 0 1 0 3.1 0a1.55 1.55 0 1 0 -3.1 0M631.8 483.7a1.55 1.55 0 1 0 3.1 0a1.55 1.55 0 1 0 -3.1 0M622.6 480.3a1.55 1.55 0 1 0 3.1 0a1.55 1.55 0 1 0 -3.1 0M604.3 459.7a1.55 1.55 0 1 0 3.1 0a1.55 1.55 0 1 0 -3.1 0M625.1 484.2a1.55 1.55 0 1 0 3.1 0a1.55 1.55 0 1 0 -3.1 0M645.2 459.1a1.55 1.55 0 1 0 3.1 0a1.55 1.55 0 1 0 -3.1 0M642.0 480.7a1.55 1.55 0 1 0 3.1 0a1.55 1.55 0 1 0 -3.1 0M612.5 472.7a1.55 1.55 0 1 0 3.1 0a1.55 1.55 0 1 0 -3.1 0M631.0 462.2a1.55 1.55 0 1 0 3.1 0a1.55 1.55 0 1 0 -3.1 0M649.1 461.3a1.55 1.55 0 1 0 3.1 0a1.55 1.55 0 1 0 -3.1 0M619.6 470.9a1.55 1.55 0 1 0 3.1 0a1.55 1.55 0 1 0 -3.1 0M609.3 472.9a1.55 1.55 0 1 0 3.1 0a1.55 1.55 0 1 0 -3.1 0M606.8 484.9a1.55 1.55 0 1 0 3.1 0a1.55 1.55 0 1 0 -3.1 0M609.2 479.3a1.55 1.55 0 1 0 3.1 0a1.55 1.55 0 1 0 -3.1 0M618.1 467.4a1.55 1.55 0 1 0 3.1 0a1.55 1.55 0 1 0 -3.1 0M607.1 484.9a1.55 1.55 0 1 0 3.1 0a1.55 1.55 0 1 0 -3.1 0M634.4 468.3a1.55 1.55 0 1 0 3.1 0a1.55 1.55 0 1 0 -3.1 0M637.0 466.9a1.55 1.55 0 1 0 3.1 0a1.55 1.55 0 1 0 -3.1 0M634.7 471.9a1.55 1.55 0 1 0 3.1 0a1.55 1.55 0 1 0 -3.1 0M638.4 485.8a1.55 1.55 0 1 0 3.1 0a1.55 1.55 0 1 0 -3.1 0M613.5 466.3a1.55 1.55 0 1 0 3.1 0a1.55 1.55 0 1 0 -3.1 0M612.6 472.5a1.55 1.55 0 1 0 3.1 0a1.55 1.55 0 1 0 -3.1 0M615.8 475.4a1.55 1.55 0 1 0 3.1 0a1.55 1.55 0 1 0 -3.1 0M642.8 468.7a1.55 1.55 0 1 0 3.1 0a1.55 1.55 0 1 0 -3.1 0M624.5 480.1a1.55 1.55 0 1 0 3.1 0a1.55 1.55 0 1 0 -3.1 0M641.4 468.8a1.55 1.55 0 1 0 3.1 0a1.55 1.55 0 1 0 -3.1 0M624.2 462.5a1.55 1.55 0 1 0 3.1 0a1.55 1.55 0 1 0 -3.1 0M636.1 459.2a1.55 1.55 0 1 0 3.1 0a1.55 1.55 0 1 0 -3.1 0M634.8 461.6a1.55 1.55 0 1 0 3.1 0a1.55 1.55 0 1 0 -3.1 0M629.4 467.2a1.55 1.55 0 1 0 3.1 0a1.55 1.55 0 1 0 -3.1 0M643.2 485.5a1.55 1.55 0 1 0 3.1 0a1.55 1.55 0 1 0 -3.1 0M572.2 509.5a1.55 1.55 0 1 0 3.1 0a1.55 1.55 0 1 0 -3.1 0M566.4 505.0a1.55 1.55 0 1 0 3.1 0a1.55 1.55 0 1 0 -3.1 0M563.9 493.3a1.55 1.55 0 1 0 3.1 0a1.55 1.55 0 1 0 -3.1 0M602.3 514.8a1.55 1.55 0 1 0 3.1 0a1.55 1.55 0 1 0 -3.1 0M558.9 517.6a1.55 1.55 0 1 0 3.1 0a1.55 1.55 0 1 0 -3.1 0M626.7 496.3a1.55 1.55 0 1 0 3.1 0a1.55 1.55 0 1 0 -3.1 0M612.1 508.2a1.55 1.55 0 1 0 3.1 0a1.55 1.55 0 1 0 -3.1 0M644.7 506.0a1.55 1.55 0 1 0 3.1 0a1.55 1.55 0 1 0 -3.1 0M643.2 490.0a1.55 1.55 0 1 0 3.1 0a1.55 1.55 0 1 0 -3.1 0M630.8 514.7a1.55 1.55 0 1 0 3.1 0a1.55 1.55 0 1 0 -3.1 0M639.2 498.0a1.55 1.55 0 1 0 3.1 0a1.55 1.55 0 1 0 -3.1 0M617.2 492.2a1.55 1.55 0 1 0 3.1 0a1.55 1.55 0 1 0 -3.1 0M626.2 516.0a1.55 1.55 0 1 0 3.1 0a1.55 1.55 0 1 0 -3.1 0M606.7 511.0a1.55 1.55 0 1 0 3.1 0a1.55 1.55 0 1 0 -3.1 0M632.2 493.6a1.55 1.55 0 1 0 3.1 0a1.55 1.55 0 1 0 -3.1 0M608.1 517.0a1.55 1.55 0 1 0 3.1 0a1.55 1.55 0 1 0 -3.1 0M632.8 505.6a1.55 1.55 0 1 0 3.1 0a1.55 1.55 0 1 0 -3.1 0M624.3 493.5a1.55 1.55 0 1 0 3.1 0a1.55 1.55 0 1 0 -3.1 0M646.8 489.1a1.55 1.55 0 1 0 3.1 0a1.55 1.55 0 1 0 -3.1 0M640.2 517.6a1.55 1.55 0 1 0 3.1 0a1.55 1.55 0 1 0 -3.1 0M610.6 500.4a1.55 1.55 0 1 0 3.1 0a1.55 1.55 0 1 0 -3.1 0M648.5 515.3a1.55 1.55 0 1 0 3.1 0a1.55 1.55 0 1 0 -3.1 0M627.8 506.0a1.55 1.55 0 1 0 3.1 0a1.55 1.55 0 1 0 -3.1 0M622.7 509.8a1.55 1.55 0 1 0 3.1 0a1.55 1.55 0 1 0 -3.1 0M616.2 510.7a1.55 1.55 0 1 0 3.1 0a1.55 1.55 0 1 0 -3.1 0M668.8 173.5a1.55 1.55 0 1 0 3.1 0a1.55 1.55 0 1 0 -3.1 0M688.6 181.3a1.55 1.55 0 1 0 3.1 0a1.55 1.55 0 1 0 -3.1 0M734.1 172.0a1.55 1.55 0 1 0 3.1 0a1.55 1.55 0 1 0 -3.1 0M724.3 174.6a1.55 1.55 0 1 0 3.1 0a1.55 1.55 0 1 0 -3.1 0M725.3 173.0a1.55 1.55 0 1 0 3.1 0a1.55 1.55 0 1 0 -3.1 0M653.0 216.1a1.55 1.55 0 1 0 3.1 0a1.55 1.55 0 1 0 -3.1 0M679.5 216.6a1.55 1.55 0 1 0 3.1 0a1.55 1.55 0 1 0 -3.1 0M662.4 204.1a1.55 1.55 0 1 0 3.1 0a1.55 1.55 0 1 0 -3.1 0M674.0 214.6a1.55 1.55 0 1 0 3.1 0a1.55 1.55 0 1 0 -3.1 0M677.0 203.8a1.55 1.55 0 1 0 3.1 0a1.55 1.55 0 1 0 -3.1 0M652.5 214.4a1.55 1.55 0 1 0 3.1 0a1.55 1.55 0 1 0 -3.1 0M665.2 196.6a1.55 1.55 0 1 0 3.1 0a1.55 1.55 0 1 0 -3.1 0M653.1 212.3a1.55 1.55 0 1 0 3.1 0a1.55 1.55 0 1 0 -3.1 0M659.8 202.0a1.55 1.55 0 1 0 3.1 0a1.55 1.55 0 1 0 -3.1 0M688.9 220.8a1.55 1.55 0 1 0 3.1 0a1.55 1.55 0 1 0 -3.1 0M731.3 210.8a1.55 1.55 0 1 0 3.1 0a1.55 1.55 0 1 0 -3.1 0M704.6 210.2a1.55 1.55 0 1 0 3.1 0a1.55 1.55 0 1 0 -3.1 0M700.2 219.9a1.55 1.55 0 1 0 3.1 0a1.55 1.55 0 1 0 -3.1 0M652.6 224.5a1.55 1.55 0 1 0 3.1 0a1.55 1.55 0 1 0 -3.1 0M681.4 235.6a1.55 1.55 0 1 0 3.1 0a1.55 1.55 0 1 0 -3.1 0M670.1 227.7a1.55 1.55 0 1 0 3.1 0a1.55 1.55 0 1 0 -3.1 0M651.0 251.6a1.55 1.55 0 1 0 3.1 0a1.55 1.55 0 1 0 -3.1 0M675.2 243.3a1.55 1.55 0 1 0 3.1 0a1.55 1.55 0 1 0 -3.1 0M669.6 236.2a1.55 1.55 0 1 0 3.1 0a1.55 1.55 0 1 0 -3.1 0M652.7 223.0a1.55 1.55 0 1 0 3.1 0a1.55 1.55 0 1 0 -3.1 0M682.6 249.1a1.55 1.55 0 1 0 3.1 0a1.55 1.55 0 1 0 -3.1 0M685.5 236.3a1.55 1.55 0 1 0 3.1 0a1.55 1.55 0 1 0 -3.1 0M683.1 230.2a1.55 1.55 0 1 0 3.1 0a1.55 1.55 0 1 0 -3.1 0M697.4 248.5a1.55 1.55 0 1 0 3.1 0a1.55 1.55 0 1 0 -3.1 0M697.6 237.9a1.55 1.55 0 1 0 3.1 0a1.55 1.55 0 1 0 -3.1 0M702.0 225.8a1.55 1.55 0 1 0 3.1 0a1.55 1.55 0 1 0 -3.1 0M706.5 232.3a1.55 1.55 0 1 0 3.1 0a1.55 1.55 0 1 0 -3.1 0M728.7 242.5a1.55 1.55 0 1 0 3.1 0a1.55 1.55 0 1 0 -3.1 0M707.9 225.0a1.55 1.55 0 1 0 3.1 0a1.55 1.55 0 1 0 -3.1 0M662.0 270.1a1.55 1.55 0 1 0 3.1 0a1.55 1.55 0 1 0 -3.1 0M668.5 252.8a1.55 1.55 0 1 0 3.1 0a1.55 1.55 0 1 0 -3.1 0M680.7 260.1a1.55 1.55 0 1 0 3.1 0a1.55 1.55 0 1 0 -3.1 0M658.8 272.6a1.55 1.55 0 1 0 3.1 0a1.55 1.55 0 1 0 -3.1 0M692.0 278.0a1.55 1.55 0 1 0 3.1 0a1.55 1.55 0 1 0 -3.1 0M695.6 268.9a1.55 1.55 0 1 0 3.1 0a1.55 1.55 0 1 0 -3.1 0M669.0 266.3a1.55 1.55 0 1 0 3.1 0a1.55 1.55 0 1 0 -3.1 0M671.6 267.6a1.55 1.55 0 1 0 3.1 0a1.55 1.55 0 1 0 -3.1 0M670.6 260.8a1.55 1.55 0 1 0 3.1 0a1.55 1.55 0 1 0 -3.1 0M663.7 276.6a1.55 1.55 0 1 0 3.1 0a1.55 1.55 0 1 0 -3.1 0M671.1 278.9a1.55 1.55 0 1 0 3.1 0a1.55 1.55 0 1 0 -3.1 0M671.8 266.9a1.55 1.55 0 1 0 3.1 0a1.55 1.55 0 1 0 -3.1 0M687.6 278.3a1.55 1.55 0 1 0 3.1 0a1.55 1.55 0 1 0 -3.1 0M669.4 258.5a1.55 1.55 0 1 0 3.1 0a1.55 1.55 0 1 0 -3.1 0M666.6 256.9a1.55 1.55 0 1 0 3.1 0a1.55 1.55 0 1 0 -3.1 0M711.2 252.2a1.55 1.55 0 1 0 3.1 0a1.55 1.55 0 1 0 -3.1 0M716.7 274.8a1.55 1.55 0 1 0 3.1 0a1.55 1.55 0 1 0 -3.1 0M723.9 271.4a1.55 1.55 0 1 0 3.1 0a1.55 1.55 0 1 0 -3.1 0M703.1 260.5a1.55 1.55 0 1 0 3.1 0a1.55 1.55 0 1 0 -3.1 0M730.4 252.8a1.55 1.55 0 1 0 3.1 0a1.55 1.55 0 1 0 -3.1 0M704.3 254.7a1.55 1.55 0 1 0 3.1 0a1.55 1.55 0 1 0 -3.1 0M735.4 274.1a1.55 1.55 0 1 0 3.1 0a1.55 1.55 0 1 0 -3.1 0M720.4 262.9a1.55 1.55 0 1 0 3.1 0a1.55 1.55 0 1 0 -3.1 0M688.3 296.2a1.55 1.55 0 1 0 3.1 0a1.55 1.55 0 1 0 -3.1 0M693.8 310.0a1.55 1.55 0 1 0 3.1 0a1.55 1.55 0 1 0 -3.1 0M661.2 284.1a1.55 1.55 0 1 0 3.1 0a1.55 1.55 0 1 0 -3.1 0M674.6 306.0a1.55 1.55 0 1 0 3.1 0a1.55 1.55 0 1 0 -3.1 0M677.5 289.5a1.55 1.55 0 1 0 3.1 0a1.55 1.55 0 1 0 -3.1 0M679.1 309.7a1.55 1.55 0 1 0 3.1 0a1.55 1.55 0 1 0 -3.1 0M652.4 299.0a1.55 1.55 0 1 0 3.1 0a1.55 1.55 0 1 0 -3.1 0M651.4 308.6a1.55 1.55 0 1 0 3.1 0a1.55 1.55 0 1 0 -3.1 0M681.0 298.1a1.55 1.55 0 1 0 3.1 0a1.55 1.55 0 1 0 -3.1 0M654.7 285.2a1.55 1.55 0 1 0 3.1 0a1.55 1.55 0 1 0 -3.1 0M668.0 285.0a1.55 1.55 0 1 0 3.1 0a1.55 1.55 0 1 0 -3.1 0M679.4 292.7a1.55 1.55 0 1 0 3.1 0a1.55 1.55 0 1 0 -3.1 0M670.7 291.2a1.55 1.55 0 1 0 3.1 0a1.55 1.55 0 1 0 -3.1 0M662.1 303.5a1.55 1.55 0 1 0 3.1 0a1.55 1.55 0 1 0 -3.1 0M691.9 305.0a1.55 1.55 0 1 0 3.1 0a1.55 1.55 0 1 0 -3.1 0M721.5 292.5a1.55 1.55 0 1 0 3.1 0a1.55 1.55 0 1 0 -3.1 0M700.4 305.4a1.55 1.55 0 1 0 3.1 0a1.55 1.55 0 1 0 -3.1 0M703.3 303.1a1.55 1.55 0 1 0 3.1 0a1.55 1.55 0 1 0 -3.1 0M706.6 283.4a1.55 1.55 0 1 0 3.1 0a1.55 1.55 0 1 0 -3.1 0M715.4 307.0a1.55 1.55 0 1 0 3.1 0a1.55 1.55 0 1 0 -3.1 0M729.3 282.3a1.55 1.55 0 1 0 3.1 0a1.55 1.55 0 1 0 -3.1 0M693.5 313.5a1.55 1.55 0 1 0 3.1 0a1.55 1.55 0 1 0 -3.1 0M667.0 332.1a1.55 1.55 0 1 0 3.1 0a1.55 1.55 0 1 0 -3.1 0M681.5 334.7a1.55 1.55 0 1 0 3.1 0a1.55 1.55 0 1 0 -3.1 0M669.5 319.4a1.55 1.55 0 1 0 3.1 0a1.55 1.55 0 1 0 -3.1 0M650.9 317.8a1.55 1.55 0 1 0 3.1 0a1.55 1.55 0 1 0 -3.1 0M685.3 329.1a1.55 1.55 0 1 0 3.1 0a1.55 1.55 0 1 0 -3.1 0M662.3 324.6a1.55 1.55 0 1 0 3.1 0a1.55 1.55 0 1 0 -3.1 0M664.6 316.3a1.55 1.55 0 1 0 3.1 0a1.55 1.55 0 1 0 -3.1 0M678.5 331.5a1.55 1.55 0 1 0 3.1 0a1.55 1.55 0 1 0 -3.1 0M688.7 322.6a1.55 1.55 0 1 0 3.1 0a1.55 1.55 0 1 0 -3.1 0M656.9 328.4a1.55 1.55 0 1 0 3.1 0a1.55 1.55 0 1 0 -3.1 0M673.7 312.7a1.55 1.55 0 1 0 3.1 0a1.55 1.55 0 1 0 -3.1 0M665.8 327.3a1.55 1.55 0 1 0 3.1 0a1.55 1.55 0 1 0 -3.1 0M696.7 328.0a1.55 1.55 0 1 0 3.1 0a1.55 1.55 0 1 0 -3.1 0M689.7 337.7a1.55 1.55 0 1 0 3.1 0a1.55 1.55 0 1 0 -3.1 0M669.2 335.2a1.55 1.55 0 1 0 3.1 0a1.55 1.55 0 1 0 -3.1 0M692.3 324.3a1.55 1.55 0 1 0 3.1 0a1.55 1.55 0 1 0 -3.1 0M661.0 337.9a1.55 1.55 0 1 0 3.1 0a1.55 1.55 0 1 0 -3.1 0M670.5 337.7a1.55 1.55 0 1 0 3.1 0a1.55 1.55 0 1 0 -3.1 0M673.5 319.1a1.55 1.55 0 1 0 3.1 0a1.55 1.55 0 1 0 -3.1 0M739.0 327.7a1.55 1.55 0 1 0 3.1 0a1.55 1.55 0 1 0 -3.1 0M730.3 335.2a1.55 1.55 0 1 0 3.1 0a1.55 1.55 0 1 0 -3.1 0M702.4 319.5a1.55 1.55 0 1 0 3.1 0a1.55 1.55 0 1 0 -3.1 0M740.6 318.5a1.55 1.55 0 1 0 3.1 0a1.55 1.55 0 1 0 -3.1 0M722.2 322.0a1.55 1.55 0 1 0 3.1 0a1.55 1.55 0 1 0 -3.1 0M732.3 323.8a1.55 1.55 0 1 0 3.1 0a1.55 1.55 0 1 0 -3.1 0M714.9 315.5a1.55 1.55 0 1 0 3.1 0a1.55 1.55 0 1 0 -3.1 0M715.2 313.9a1.55 1.55 0 1 0 3.1 0a1.55 1.55 0 1 0 -3.1 0M735.5 317.2a1.55 1.55 0 1 0 3.1 0a1.55 1.55 0 1 0 -3.1 0M737.1 311.4a1.55 1.55 0 1 0 3.1 0a1.55 1.55 0 1 0 -3.1 0M744.5 325.8a1.55 1.55 0 1 0 3.1 0a1.55 1.55 0 1 0 -3.1 0M715.6 318.9a1.55 1.55 0 1 0 3.1 0a1.55 1.55 0 1 0 -3.1 0M693.7 366.0a1.55 1.55 0 1 0 3.1 0a1.55 1.55 0 1 0 -3.1 0M683.1 359.0a1.55 1.55 0 1 0 3.1 0a1.55 1.55 0 1 0 -3.1 0M658.9 359.8a1.55 1.55 0 1 0 3.1 0a1.55 1.55 0 1 0 -3.1 0M673.4 343.7a1.55 1.55 0 1 0 3.1 0a1.55 1.55 0 1 0 -3.1 0M686.8 369.9a1.55 1.55 0 1 0 3.1 0a1.55 1.55 0 1 0 -3.1 0M653.3 340.8a1.55 1.55 0 1 0 3.1 0a1.55 1.55 0 1 0 -3.1 0M676.9 352.1a1.55 1.55 0 1 0 3.1 0a1.55 1.55 0 1 0 -3.1 0M667.3 345.6a1.55 1.55 0 1 0 3.1 0a1.55 1.55 0 1 0 -3.1 0M676.9 352.6a1.55 1.55 0 1 0 3.1 0a1.55 1.55 0 1 0 -3.1 0M662.4 347.2a1.55 1.55 0 1 0 3.1 0a1.55 1.55 0 1 0 -3.1 0M660.8 366.0a1.55 1.55 0 1 0 3.1 0a1.55 1.55 0 1 0 -3.1 0M678.8 345.5a1.55 1.55 0 1 0 3.1 0a1.55 1.55 0 1 0 -3.1 0M664.5 361.2a1.55 1.55 0 1 0 3.1 0a1.55 1.55 0 1 0 -3.1 0M657.7 352.3a1.55 1.55 0 1 0 3.1 0a1.55 1.55 0 1 0 -3.1 0M687.0 366.4a1.55 1.55 0 1 0 3.1 0a1.55 1.55 0 1 0 -3.1 0M675.9 354.2a1.55 1.55 0 1 0 3.1 0a1.55 1.55 0 1 0 -3.1 0M655.7 354.4a1.55 1.55 0 1 0 3.1 0a1.55 1.55 0 1 0 -3.1 0M663.5 364.2a1.55 1.55 0 1 0 3.1 0a1.55 1.55 0 1 0 -3.1 0M697.1 367.4a1.55 1.55 0 1 0 3.1 0a1.55 1.55 0 1 0 -3.1 0M666.8 351.8a1.55 1.55 0 1 0 3.1 0a1.55 1.55 0 1 0 -3.1 0M669.7 369.6a1.55 1.55 0 1 0 3.1 0a1.55 1.55 0 1 0 -3.1 0M691.5 363.0a1.55 1.55 0 1 0 3.1 0a1.55 1.55 0 1 0 -3.1 0M670.1 343.3a1.55 1.55 0 1 0 3.1 0a1.55 1.55 0 1 0 -3.1 0M696.4 343.1a1.55 1.55 0 1 0 3.1 0a1.55 1.55 0 1 0 -3.1 0M670.0 348.1a1.55 1.55 0 1 0 3.1 0a1.55 1.55 0 1 0 -3.1 0M703.7 360.4a1.55 1.55 0 1 0 3.1 0a1.55 1.55 0 1 0 -3.1 0M699.0 358.8a1.55 1.55 0 1 0 3.1 0a1.55 1.55 0 1 0 -3.1 0M716.8 354.4a1.55 1.55 0 1 0 3.1 0a1.55 1.55 0 1 0 -3.1 0M713.1 362.7a1.55 1.55 0 1 0 3.1 0a1.55 1.55 0 1 0 -3.1 0M734.9 361.9a1.55 1.55 0 1 0 3.1 0a1.55 1.55 0 1 0 -3.1 0M713.5 355.6a1.55 1.55 0 1 0 3.1 0a1.55 1.55 0 1 0 -3.1 0M710.7 348.7a1.55 1.55 0 1 0 3.1 0a1.55 1.55 0 1 0 -3.1 0M701.8 360.6a1.55 1.55 0 1 0 3.1 0a1.55 1.55 0 1 0 -3.1 0M717.7 362.5a1.55 1.55 0 1 0 3.1 0a1.55 1.55 0 1 0 -3.1 0M737.4 359.6a1.55 1.55 0 1 0 3.1 0a1.55 1.55 0 1 0 -3.1 0M717.7 356.3a1.55 1.55 0 1 0 3.1 0a1.55 1.55 0 1 0 -3.1 0M737.0 363.6a1.55 1.55 0 1 0 3.1 0a1.55 1.55 0 1 0 -3.1 0M736.9 342.1a1.55 1.55 0 1 0 3.1 0a1.55 1.55 0 1 0 -3.1 0M710.4 365.1a1.55 1.55 0 1 0 3.1 0a1.55 1.55 0 1 0 -3.1 0M735.0 360.9a1.55 1.55 0 1 0 3.1 0a1.55 1.55 0 1 0 -3.1 0M708.5 367.8a1.55 1.55 0 1 0 3.1 0a1.55 1.55 0 1 0 -3.1 0M726.8 342.4a1.55 1.55 0 1 0 3.1 0a1.55 1.55 0 1 0 -3.1 0M739.4 352.7a1.55 1.55 0 1 0 3.1 0a1.55 1.55 0 1 0 -3.1 0M718.5 341.3a1.55 1.55 0 1 0 3.1 0a1.55 1.55 0 1 0 -3.1 0M729.0 341.9a1.55 1.55 0 1 0 3.1 0a1.55 1.55 0 1 0 -3.1 0M730.3 349.5a1.55 1.55 0 1 0 3.1 0a1.55 1.55 0 1 0 -3.1 0M730.9 366.4a1.55 1.55 0 1 0 3.1 0a1.55 1.55 0 1 0 -3.1 0M709.7 368.2a1.55 1.55 0 1 0 3.1 0a1.55 1.55 0 1 0 -3.1 0M741.8 340.7a1.55 1.55 0 1 0 3.1 0a1.55 1.55 0 1 0 -3.1 0M726.4 365.5a1.55 1.55 0 1 0 3.1 0a1.55 1.55 0 1 0 -3.1 0M697.8 389.0a1.55 1.55 0 1 0 3.1 0a1.55 1.55 0 1 0 -3.1 0M654.5 376.5a1.55 1.55 0 1 0 3.1 0a1.55 1.55 0 1 0 -3.1 0M664.8 387.2a1.55 1.55 0 1 0 3.1 0a1.55 1.55 0 1 0 -3.1 0M656.8 389.9a1.55 1.55 0 1 0 3.1 0a1.55 1.55 0 1 0 -3.1 0M656.9 392.0a1.55 1.55 0 1 0 3.1 0a1.55 1.55 0 1 0 -3.1 0M677.9 390.8a1.55 1.55 0 1 0 3.1 0a1.55 1.55 0 1 0 -3.1 0M682.1 373.0a1.55 1.55 0 1 0 3.1 0a1.55 1.55 0 1 0 -3.1 0M677.8 398.8a1.55 1.55 0 1 0 3.1 0a1.55 1.55 0 1 0 -3.1 0M695.9 393.8a1.55 1.55 0 1 0 3.1 0a1.55 1.55 0 1 0 -3.1 0M667.0 384.1a1.55 1.55 0 1 0 3.1 0a1.55 1.55 0 1 0 -3.1 0M679.8 389.5a1.55 1.55 0 1 0 3.1 0a1.55 1.55 0 1 0 -3.1 0M671.4 381.1a1.55 1.55 0 1 0 3.1 0a1.55 1.55 0 1 0 -3.1 0M672.2 391.3a1.55 1.55 0 1 0 3.1 0a1.55 1.55 0 1 0 -3.1 0M670.0 388.3a1.55 1.55 0 1 0 3.1 0a1.55 1.55 0 1 0 -3.1 0M664.4 381.9a1.55 1.55 0 1 0 3.1 0a1.55 1.55 0 1 0 -3.1 0M674.8 387.5a1.55 1.55 0 1 0 3.1 0a1.55 1.55 0 1 0 -3.1 0M684.1 375.6a1.55 1.55 0 1 0 3.1 0a1.55 1.55 0 1 0 -3.1 0M681.3 389.5a1.55 1.55 0 1 0 3.1 0a1.55 1.55 0 1 0 -3.1 0M694.8 396.5a1.55 1.55 0 1 0 3.1 0a1.55 1.55 0 1 0 -3.1 0M688.6 387.2a1.55 1.55 0 1 0 3.1 0a1.55 1.55 0 1 0 -3.1 0M669.4 374.7a1.55 1.55 0 1 0 3.1 0a1.55 1.55 0 1 0 -3.1 0M681.6 370.9a1.55 1.55 0 1 0 3.1 0a1.55 1.55 0 1 0 -3.1 0M692.1 396.2a1.55 1.55 0 1 0 3.1 0a1.55 1.55 0 1 0 -3.1 0M674.4 377.0a1.55 1.55 0 1 0 3.1 0a1.55 1.55 0 1 0 -3.1 0M654.5 383.6a1.55 1.55 0 1 0 3.1 0a1.55 1.55 0 1 0 -3.1 0M697.5 392.6a1.55 1.55 0 1 0 3.1 0a1.55 1.55 0 1 0 -3.1 0M656.2 391.1a1.55 1.55 0 1 0 3.1 0a1.55 1.55 0 1 0 -3.1 0M666.9 391.2a1.55 1.55 0 1 0 3.1 0a1.55 1.55 0 1 0 -3.1 0M671.0 375.0a1.55 1.55 0 1 0 3.1 0a1.55 1.55 0 1 0 -3.1 0M675.1 382.2a1.55 1.55 0 1 0 3.1 0a1.55 1.55 0 1 0 -3.1 0M730.7 391.5a1.55 1.55 0 1 0 3.1 0a1.55 1.55 0 1 0 -3.1 0M731.4 387.3a1.55 1.55 0 1 0 3.1 0a1.55 1.55 0 1 0 -3.1 0M720.4 394.0a1.55 1.55 0 1 0 3.1 0a1.55 1.55 0 1 0 -3.1 0M707.4 374.2a1.55 1.55 0 1 0 3.1 0a1.55 1.55 0 1 0 -3.1 0M725.0 387.2a1.55 1.55 0 1 0 3.1 0a1.55 1.55 0 1 0 -3.1 0M734.4 372.7a1.55 1.55 0 1 0 3.1 0a1.55 1.55 0 1 0 -3.1 0M705.3 370.2a1.55 1.55 0 1 0 3.1 0a1.55 1.55 0 1 0 -3.1 0M698.5 381.5a1.55 1.55 0 1 0 3.1 0a1.55 1.55 0 1 0 -3.1 0M710.3 392.2a1.55 1.55 0 1 0 3.1 0a1.55 1.55 0 1 0 -3.1 0M721.2 381.8a1.55 1.55 0 1 0 3.1 0a1.55 1.55 0 1 0 -3.1 0M718.4 378.5a1.55 1.55 0 1 0 3.1 0a1.55 1.55 0 1 0 -3.1 0M742.6 394.6a1.55 1.55 0 1 0 3.1 0a1.55 1.55 0 1 0 -3.1 0M709.0 381.6a1.55 1.55 0 1 0 3.1 0a1.55 1.55 0 1 0 -3.1 0M717.2 390.3a1.55 1.55 0 1 0 3.1 0a1.55 1.55 0 1 0 -3.1 0M721.6 379.0a1.55 1.55 0 1 0 3.1 0a1.55 1.55 0 1 0 -3.1 0M740.7 371.8a1.55 1.55 0 1 0 3.1 0a1.55 1.55 0 1 0 -3.1 0M736.5 389.4a1.55 1.55 0 1 0 3.1 0a1.55 1.55 0 1 0 -3.1 0M739.5 378.7a1.55 1.55 0 1 0 3.1 0a1.55 1.55 0 1 0 -3.1 0M706.1 371.5a1.55 1.55 0 1 0 3.1 0a1.55 1.55 0 1 0 -3.1 0M709.5 379.5a1.55 1.55 0 1 0 3.1 0a1.55 1.55 0 1 0 -3.1 0M673.0 425.8a1.55 1.55 0 1 0 3.1 0a1.55 1.55 0 1 0 -3.1 0M691.6 412.9a1.55 1.55 0 1 0 3.1 0a1.55 1.55 0 1 0 -3.1 0M655.1 419.5a1.55 1.55 0 1 0 3.1 0a1.55 1.55 0 1 0 -3.1 0M662.7 424.5a1.55 1.55 0 1 0 3.1 0a1.55 1.55 0 1 0 -3.1 0M673.3 423.7a1.55 1.55 0 1 0 3.1 0a1.55 1.55 0 1 0 -3.1 0M657.8 408.4a1.55 1.55 0 1 0 3.1 0a1.55 1.55 0 1 0 -3.1 0M670.9 409.3a1.55 1.55 0 1 0 3.1 0a1.55 1.55 0 1 0 -3.1 0M672.8 414.3a1.55 1.55 0 1 0 3.1 0a1.55 1.55 0 1 0 -3.1 0M665.3 416.6a1.55 1.55 0 1 0 3.1 0a1.55 1.55 0 1 0 -3.1 0M673.3 419.0a1.55 1.55 0 1 0 3.1 0a1.55 1.55 0 1 0 -3.1 0M689.6 421.9a1.55 1.55 0 1 0 3.1 0a1.55 1.55 0 1 0 -3.1 0M661.1 419.0a1.55 1.55 0 1 0 3.1 0a1.55 1.55 0 1 0 -3.1 0M706.4 421.1a1.55 1.55 0 1 0 3.1 0a1.55 1.55 0 1 0 -3.1 0M705.6 423.3a1.55 1.55 0 1 0 3.1 0a1.55 1.55 0 1 0 -3.1 0M723.5 416.2a1.55 1.55 0 1 0 3.1 0a1.55 1.55 0 1 0 -3.1 0M736.8 414.4a1.55 1.55 0 1 0 3.1 0a1.55 1.55 0 1 0 -3.1 0M723.3 408.2a1.55 1.55 0 1 0 3.1 0a1.55 1.55 0 1 0 -3.1 0M738.1 411.9a1.55 1.55 0 1 0 3.1 0a1.55 1.55 0 1 0 -3.1 0M699.6 415.6a1.55 1.55 0 1 0 3.1 0a1.55 1.55 0 1 0 -3.1 0M699.3 411.3a1.55 1.55 0 1 0 3.1 0a1.55 1.55 0 1 0 -3.1 0M700.9 413.2a1.55 1.55 0 1 0 3.1 0a1.55 1.55 0 1 0 -3.1 0M704.9 403.9a1.55 1.55 0 1 0 3.1 0a1.55 1.55 0 1 0 -3.1 0M702.3 409.7a1.55 1.55 0 1 0 3.1 0a1.55 1.55 0 1 0 -3.1 0M731.0 421.0a1.55 1.55 0 1 0 3.1 0a1.55 1.55 0 1 0 -3.1 0M725.8 419.4a1.55 1.55 0 1 0 3.1 0a1.55 1.55 0 1 0 -3.1 0M710.0 421.5a1.55 1.55 0 1 0 3.1 0a1.55 1.55 0 1 0 -3.1 0M698.6 409.3a1.55 1.55 0 1 0 3.1 0a1.55 1.55 0 1 0 -3.1 0M701.2 423.3a1.55 1.55 0 1 0 3.1 0a1.55 1.55 0 1 0 -3.1 0M701.9 405.4a1.55 1.55 0 1 0 3.1 0a1.55 1.55 0 1 0 -3.1 0M722.8 415.3a1.55 1.55 0 1 0 3.1 0a1.55 1.55 0 1 0 -3.1 0M663.1 448.1a1.55 1.55 0 1 0 3.1 0a1.55 1.55 0 1 0 -3.1 0M658.3 448.8a1.55 1.55 0 1 0 3.1 0a1.55 1.55 0 1 0 -3.1 0M683.6 429.6a1.55 1.55 0 1 0 3.1 0a1.55 1.55 0 1 0 -3.1 0M659.9 433.1a1.55 1.55 0 1 0 3.1 0a1.55 1.55 0 1 0 -3.1 0M679.6 455.7a1.55 1.55 0 1 0 3.1 0a1.55 1.55 0 1 0 -3.1 0M651.3 432.6a1.55 1.55 0 1 0 3.1 0a1.55 1.55 0 1 0 -3.1 0M661.7 455.5a1.55 1.55 0 1 0 3.1 0a1.55 1.55 0 1 0 -3.1 0M681.6 437.8a1.55 1.55 0 1 0 3.1 0a1.55 1.55 0 1 0 -3.1 0M692.9 443.9a1.55 1.55 0 1 0 3.1 0a1.55 1.55 0 1 0 -3.1 0M665.4 449.3a1.55 1.55 0 1 0 3.1 0a1.55 1.55 0 1 0 -3.1 0M660.3 439.9a1.55 1.55 0 1 0 3.1 0a1.55 1.55 0 1 0 -3.1 0M695.1 456.2a1.55 1.55 0 1 0 3.1 0a1.55 1.55 0 1 0 -3.1 0M711.2 451.3a1.55 1.55 0 1 0 3.1 0a1.55 1.55 0 1 0 -3.1 0M705.1 448.5a1.55 1.55 0 1 0 3.1 0a1.55 1.55 0 1 0 -3.1 0M709.6 443.6a1.55 1.55 0 1 0 3.1 0a1.55 1.55 0 1 0 -3.1 0M740.0 430.5a1.55 1.55 0 1 0 3.1 0a1.55 1.55 0 1 0 -3.1 0M705.3 441.9a1.55 1.55 0 1 0 3.1 0a1.55 1.55 0 1 0 -3.1 0M729.6 454.2a1.55 1.55 0 1 0 3.1 0a1.55 1.55 0 1 0 -3.1 0M722.9 452.8a1.55 1.55 0 1 0 3.1 0a1.55 1.55 0 1 0 -3.1 0M715.0 449.1a1.55 1.55 0 1 0 3.1 0a1.55 1.55 0 1 0 -3.1 0M736.3 451.7a1.55 1.55 0 1 0 3.1 0a1.55 1.55 0 1 0 -3.1 0M723.3 441.4a1.55 1.55 0 1 0 3.1 0a1.55 1.55 0 1 0 -3.1 0M713.4 431.2a1.55 1.55 0 1 0 3.1 0a1.55 1.55 0 1 0 -3.1 0M713.5 449.0a1.55 1.55 0 1 0 3.1 0a1.55 1.55 0 1 0 -3.1 0M730.5 444.3a1.55 1.55 0 1 0 3.1 0a1.55 1.55 0 1 0 -3.1 0M732.0 454.1a1.55 1.55 0 1 0 3.1 0a1.55 1.55 0 1 0 -3.1 0M704.8 436.9a1.55 1.55 0 1 0 3.1 0a1.55 1.55 0 1 0 -3.1 0M650.8 480.6a1.55 1.55 0 1 0 3.1 0a1.55 1.55 0 1 0 -3.1 0M678.3 473.4a1.55 1.55 0 1 0 3.1 0a1.55 1.55 0 1 0 -3.1 0M693.2 481.9a1.55 1.55 0 1 0 3.1 0a1.55 1.55 0 1 0 -3.1 0M656.0 483.4a1.55 1.55 0 1 0 3.1 0a1.55 1.55 0 1 0 -3.1 0M674.1 479.6a1.55 1.55 0 1 0 3.1 0a1.55 1.55 0 1 0 -3.1 0M672.1 467.9a1.55 1.55 0 1 0 3.1 0a1.55 1.55 0 1 0 -3.1 0M665.8 468.5a1.55 1.55 0 1 0 3.1 0a1.55 1.55 0 1 0 -3.1 0M651.6 472.1a1.55 1.55 0 1 0 3.1 0a1.55 1.55 0 1 0 -3.1 0M693.4 460.6a1.55 1.55 0 1 0 3.1 0a1.55 1.55 0 1 0 -3.1 0M677.6 459.2a1.55 1.55 0 1 0 3.1 0a1.55 1.55 0 1 0 -3.1 0M661.8 479.4a1.55 1.55 0 1 0 3.1 0a1.55 1.55 0 1 0 -3.1 0M671.8 473.2a1.55 1.55 0 1 0 3.1 0a1.55 1.55 0 1 0 -3.1 0M723.6 464.9a1.55 1.55 0 1 0 3.1 0a1.55 1.55 0 1 0 -3.1 0M700.2 472.1a1.55 1.55 0 1 0 3.1 0a1.55 1.55 0 1 0 -3.1 0M718.6 476.2a1.55 1.55 0 1 0 3.1 0a1.55 1.55 0 1 0 -3.1 0M723.2 469.7a1.55 1.55 0 1 0 3.1 0a1.55 1.55 0 1 0 -3.1 0M731.0 461.7a1.55 1.55 0 1 0 3.1 0a1.55 1.55 0 1 0 -3.1 0M728.8 458.7a1.55 1.55 0 1 0 3.1 0a1.55 1.55 0 1 0 -3.1 0M729.2 480.2a1.55 1.55 0 1 0 3.1 0a1.55 1.55 0 1 0 -3.1 0M704.8 486.1a1.55 1.55 0 1 0 3.1 0a1.55 1.55 0 1 0 -3.1 0M710.5 484.7a1.55 1.55 0 1 0 3.1 0a1.55 1.55 0 1 0 -3.1 0M730.1 467.8a1.55 1.55 0 1 0 3.1 0a1.55 1.55 0 1 0 -3.1 0M726.7 476.9a1.55 1.55 0 1 0 3.1 0a1.55 1.55 0 1 0 -3.1 0M719.7 480.5a1.55 1.55 0 1 0 3.1 0a1.55 1.55 0 1 0 -3.1 0M741.2 487.7a1.55 1.55 0 1 0 3.1 0a1.55 1.55 0 1 0 -3.1 0M712.9 471.3a1.55 1.55 0 1 0 3.1 0a1.55 1.55 0 1 0 -3.1 0M706.3 463.0a1.55 1.55 0 1 0 3.1 0a1.55 1.55 0 1 0 -3.1 0M720.5 477.2a1.55 1.55 0 1 0 3.1 0a1.55 1.55 0 1 0 -3.1 0M700.8 479.9a1.55 1.55 0 1 0 3.1 0a1.55 1.55 0 1 0 -3.1 0M725.6 479.9a1.55 1.55 0 1 0 3.1 0a1.55 1.55 0 1 0 -3.1 0M699.9 471.1a1.55 1.55 0 1 0 3.1 0a1.55 1.55 0 1 0 -3.1 0M712.2 463.2a1.55 1.55 0 1 0 3.1 0a1.55 1.55 0 1 0 -3.1 0M730.5 466.9a1.55 1.55 0 1 0 3.1 0a1.55 1.55 0 1 0 -3.1 0M739.8 464.3a1.55 1.55 0 1 0 3.1 0a1.55 1.55 0 1 0 -3.1 0M713.4 471.4a1.55 1.55 0 1 0 3.1 0a1.55 1.55 0 1 0 -3.1 0M710.0 482.2a1.55 1.55 0 1 0 3.1 0a1.55 1.55 0 1 0 -3.1 0M707.5 484.9a1.55 1.55 0 1 0 3.1 0a1.55 1.55 0 1 0 -3.1 0M678.4 513.5a1.55 1.55 0 1 0 3.1 0a1.55 1.55 0 1 0 -3.1 0M676.3 497.2a1.55 1.55 0 1 0 3.1 0a1.55 1.55 0 1 0 -3.1 0M685.2 511.1a1.55 1.55 0 1 0 3.1 0a1.55 1.55 0 1 0 -3.1 0M671.4 508.9a1.55 1.55 0 1 0 3.1 0a1.55 1.55 0 1 0 -3.1 0M668.9 507.0a1.55 1.55 0 1 0 3.1 0a1.55 1.55 0 1 0 -3.1 0M695.2 517.3a1.55 1.55 0 1 0 3.1 0a1.55 1.55 0 1 0 -3.1 0M695.4 516.7a1.55 1.55 0 1 0 3.1 0a1.55 1.55 0 1 0 -3.1 0M654.3 511.6a1.55 1.55 0 1 0 3.1 0a1.55 1.55 0 1 0 -3.1 0M664.2 492.4a1.55 1.55 0 1 0 3.1 0a1.55 1.55 0 1 0 -3.1 0M690.3 490.1a1.55 1.55 0 1 0 3.1 0a1.55 1.55 0 1 0 -3.1 0M722.9 502.9a1.55 1.55 0 1 0 3.1 0a1.55 1.55 0 1 0 -3.1 0M711.9 510.9a1.55 1.55 0 1 0 3.1 0a1.55 1.55 0 1 0 -3.1 0M714.7 496.0a1.55 1.55 0 1 0 3.1 0a1.55 1.55 0 1 0 -3.1 0M705.6 488.3a1.55 1.55 0 1 0 3.1 0a1.55 1.55 0 1 0 -3.1 0M708.9 509.7a1.55 1.55 0 1 0 3.1 0a1.55 1.55 0 1 0 -3.1 0M703.6 506.1a1.55 1.55 0 1 0 3.1 0a1.55 1.55 0 1 0 -3.1 0M715.4 497.6a1.55 1.55 0 1 0 3.1 0a1.55 1.55 0 1 0 -3.1 0M740.1 510.4a1.55 1.55 0 1 0 3.1 0a1.55 1.55 0 1 0 -3.1 0M736.0 508.6a1.55 1.55 0 1 0 3.1 0a1.55 1.55 0 1 0 -3.1 0M717.0 513.9a1.55 1.55 0 1 0 3.1 0a1.55 1.55 0 1 0 -3.1 0M739.9 506.7a1.55 1.55 0 1 0 3.1 0a1.55 1.55 0 1 0 -3.1 0M730.9 516.9a1.55 1.55 0 1 0 3.1 0a1.55 1.55 0 1 0 -3.1 0M730.7 511.0a1.55 1.55 0 1 0 3.1 0a1.55 1.55 0 1 0 -3.1 0M719.1 497.8a1.55 1.55 0 1 0 3.1 0a1.55 1.55 0 1 0 -3.1 0M705.9 502.1a1.55 1.55 0 1 0 3.1 0a1.55 1.55 0 1 0 -3.1 0M760.9 178.6a1.55 1.55 0 1 0 3.1 0a1.55 1.55 0 1 0 -3.1 0M805.4 181.0a1.55 1.55 0 1 0 3.1 0a1.55 1.55 0 1 0 -3.1 0M833.9 186.9a1.55 1.55 0 1 0 3.1 0a1.55 1.55 0 1 0 -3.1 0M748.7 213.1a1.55 1.55 0 1 0 3.1 0a1.55 1.55 0 1 0 -3.1 0M804.4 210.0a1.55 1.55 0 1 0 3.1 0a1.55 1.55 0 1 0 -3.1 0M809.4 220.0a1.55 1.55 0 1 0 3.1 0a1.55 1.55 0 1 0 -3.1 0M795.4 199.4a1.55 1.55 0 1 0 3.1 0a1.55 1.55 0 1 0 -3.1 0M792.3 193.4a1.55 1.55 0 1 0 3.1 0a1.55 1.55 0 1 0 -3.1 0M834.5 193.4a1.55 1.55 0 1 0 3.1 0a1.55 1.55 0 1 0 -3.1 0M829.2 222.4a1.55 1.55 0 1 0 3.1 0a1.55 1.55 0 1 0 -3.1 0M797.6 213.1a1.55 1.55 0 1 0 3.1 0a1.55 1.55 0 1 0 -3.1 0M775.9 242.5a1.55 1.55 0 1 0 3.1 0a1.55 1.55 0 1 0 -3.1 0M775.5 227.7a1.55 1.55 0 1 0 3.1 0a1.55 1.55 0 1 0 -3.1 0M783.9 227.1a1.55 1.55 0 1 0 3.1 0a1.55 1.55 0 1 0 -3.1 0M758.8 243.9a1.55 1.55 0 1 0 3.1 0a1.55 1.55 0 1 0 -3.1 0M794.3 228.2a1.55 1.55 0 1 0 3.1 0a1.55 1.55 0 1 0 -3.1 0M805.7 229.2a1.55 1.55 0 1 0 3.1 0a1.55 1.55 0 1 0 -3.1 0M770.8 274.2a1.55 1.55 0 1 0 3.1 0a1.55 1.55 0 1 0 -3.1 0M753.4 268.4a1.55 1.55 0 1 0 3.1 0a1.55 1.55 0 1 0 -3.1 0M764.3 273.6a1.55 1.55 0 1 0 3.1 0a1.55 1.55 0 1 0 -3.1 0M788.7 253.7a1.55 1.55 0 1 0 3.1 0a1.55 1.55 0 1 0 -3.1 0M747.2 267.4a1.55 1.55 0 1 0 3.1 0a1.55 1.55 0 1 0 -3.1 0M756.2 271.6a1.55 1.55 0 1 0 3.1 0a1.55 1.55 0 1 0 -3.1 0M746.3 279.2a1.55 1.55 0 1 0 3.1 0a1.55 1.55 0 1 0 -3.1 0M746.6 277.8a1.55 1.55 0 1 0 3.1 0a1.55 1.55 0 1 0 -3.1 0M775.6 279.2a1.55 1.55 0 1 0 3.1 0a1.55 1.55 0 1 0 -3.1 0M786.8 257.8a1.55 1.55 0 1 0 3.1 0a1.55 1.55 0 1 0 -3.1 0M801.5 269.1a1.55 1.55 0 1 0 3.1 0a1.55 1.55 0 1 0 -3.1 0M835.9 271.3a1.55 1.55 0 1 0 3.1 0a1.55 1.55 0 1 0 -3.1 0M807.1 254.0a1.55 1.55 0 1 0 3.1 0a1.55 1.55 0 1 0 -3.1 0M766.0 286.9a1.55 1.55 0 1 0 3.1 0a1.55 1.55 0 1 0 -3.1 0M747.3 305.5a1.55 1.55 0 1 0 3.1 0a1.55 1.55 0 1 0 -3.1 0M789.9 309.6a1.55 1.55 0 1 0 3.1 0a1.55 1.55 0 1 0 -3.1 0M748.3 295.8a1.55 1.55 0 1 0 3.1 0a1.55 1.55 0 1 0 -3.1 0M758.7 305.3a1.55 1.55 0 1 0 3.1 0a1.55 1.55 0 1 0 -3.1 0M803.9 283.1a1.55 1.55 0 1 0 3.1 0a1.55 1.55 0 1 0 -3.1 0M802.2 310.9a1.55 1.55 0 1 0 3.1 0a1.55 1.55 0 1 0 -3.1 0M795.4 297.5a1.55 1.55 0 1 0 3.1 0a1.55 1.55 0 1 0 -3.1 0M761.7 338.2a1.55 1.55 0 1 0 3.1 0a1.55 1.55 0 1 0 -3.1 0M788.6 333.0a1.55 1.55 0 1 0 3.1 0a1.55 1.55 0 1 0 -3.1 0M770.5 338.6a1.55 1.55 0 1 0 3.1 0a1.55 1.55 0 1 0 -3.1 0M771.0 321.5a1.55 1.55 0 1 0 3.1 0a1.55 1.55 0 1 0 -3.1 0M748.8 311.8a1.55 1.55 0 1 0 3.1 0a1.55 1.55 0 1 0 -3.1 0M752.7 332.8a1.55 1.55 0 1 0 3.1 0a1.55 1.55 0 1 0 -3.1 0M779.7 330.6a1.55 1.55 0 1 0 3.1 0a1.55 1.55 0 1 0 -3.1 0M810.9 312.6a1.55 1.55 0 1 0 3.1 0a1.55 1.55 0 1 0 -3.1 0M805.9 340.2a1.55 1.55 0 1 0 3.1 0a1.55 1.55 0 1 0 -3.1 0M797.0 320.1a1.55 1.55 0 1 0 3.1 0a1.55 1.55 0 1 0 -3.1 0M810.2 316.0a1.55 1.55 0 1 0 3.1 0a1.55 1.55 0 1 0 -3.1 0M817.3 320.3a1.55 1.55 0 1 0 3.1 0a1.55 1.55 0 1 0 -3.1 0M808.8 323.2a1.55 1.55 0 1 0 3.1 0a1.55 1.55 0 1 0 -3.1 0M825.1 329.5a1.55 1.55 0 1 0 3.1 0a1.55 1.55 0 1 0 -3.1 0M815.3 315.7a1.55 1.55 0 1 0 3.1 0a1.55 1.55 0 1 0 -3.1 0M775.2 358.1a1.55 1.55 0 1 0 3.1 0a1.55 1.55 0 1 0 -3.1 0M778.4 354.4a1.55 1.55 0 1 0 3.1 0a1.55 1.55 0 1 0 -3.1 0M780.0 345.7a1.55 1.55 0 1 0 3.1 0a1.55 1.55 0 1 0 -3.1 0M771.8 343.1a1.55 1.55 0 1 0 3.1 0a1.55 1.55 0 1 0 -3.1 0M781.8 344.8a1.55 1.55 0 1 0 3.1 0a1.55 1.55 0 1 0 -3.1 0M745.9 369.6a1.55 1.55 0 1 0 3.1 0a1.55 1.55 0 1 0 -3.1 0M835.7 341.1a1.55 1.55 0 1 0 3.1 0a1.55 1.55 0 1 0 -3.1 0M803.6 351.4a1.55 1.55 0 1 0 3.1 0a1.55 1.55 0 1 0 -3.1 0M796.4 352.3a1.55 1.55 0 1 0 3.1 0a1.55 1.55 0 1 0 -3.1 0M825.6 348.1a1.55 1.55 0 1 0 3.1 0a1.55 1.55 0 1 0 -3.1 0M832.6 361.4a1.55 1.55 0 1 0 3.1 0a1.55 1.55 0 1 0 -3.1 0M797.6 346.0a1.55 1.55 0 1 0 3.1 0a1.55 1.55 0 1 0 -3.1 0M759.4 396.0a1.55 1.55 0 1 0 3.1 0a1.55 1.55 0 1 0 -3.1 0M780.0 379.3a1.55 1.55 0 1 0 3.1 0a1.55 1.55 0 1 0 -3.1 0M758.1 397.9a1.55 1.55 0 1 0 3.1 0a1.55 1.55 0 1 0 -3.1 0M746.1 392.3a1.55 1.55 0 1 0 3.1 0a1.55 1.55 0 1 0 -3.1 0M757.9 393.5a1.55 1.55 0 1 0 3.1 0a1.55 1.55 0 1 0 -3.1 0M747.4 394.6a1.55 1.55 0 1 0 3.1 0a1.55 1.55 0 1 0 -3.1 0M761.5 396.9a1.55 1.55 0 1 0 3.1 0a1.55 1.55 0 1 0 -3.1 0M754.7 386.7a1.55 1.55 0 1 0 3.1 0a1.55 1.55 0 1 0 -3.1 0M785.0 373.9a1.55 1.55 0 1 0 3.1 0a1.55 1.55 0 1 0 -3.1 0M764.1 395.9a1.55 1.55 0 1 0 3.1 0a1.55 1.55 0 1 0 -3.1 0M800.9 376.9a1.55 1.55 0 1 0 3.1 0a1.55 1.55 0 1 0 -3.1 0M812.4 391.2a1.55 1.55 0 1 0 3.1 0a1.55 1.55 0 1 0 -3.1 0M838.7 373.7a1.55 1.55 0 1 0 3.1 0a1.55 1.55 0 1 0 -3.1 0M804.6 386.8a1.55 1.55 0 1 0 3.1 0a1.55 1.55 0 1 0 -3.1 0M818.9 394.7a1.55 1.55 0 1 0 3.1 0a1.55 1.55 0 1 0 -3.1 0M812.3 391.2a1.55 1.55 0 1 0 3.1 0a1.55 1.55 0 1 0 -3.1 0M830.4 396.8a1.55 1.55 0 1 0 3.1 0a1.55 1.55 0 1 0 -3.1 0M838.9 392.7a1.55 1.55 0 1 0 3.1 0a1.55 1.55 0 1 0 -3.1 0M807.8 397.4a1.55 1.55 0 1 0 3.1 0a1.55 1.55 0 1 0 -3.1 0M835.2 375.2a1.55 1.55 0 1 0 3.1 0a1.55 1.55 0 1 0 -3.1 0M775.4 400.1a1.55 1.55 0 1 0 3.1 0a1.55 1.55 0 1 0 -3.1 0M764.0 419.7a1.55 1.55 0 1 0 3.1 0a1.55 1.55 0 1 0 -3.1 0M761.5 428.3a1.55 1.55 0 1 0 3.1 0a1.55 1.55 0 1 0 -3.1 0M749.2 427.7a1.55 1.55 0 1 0 3.1 0a1.55 1.55 0 1 0 -3.1 0M760.3 400.1a1.55 1.55 0 1 0 3.1 0a1.55 1.55 0 1 0 -3.1 0M751.7 412.9a1.55 1.55 0 1 0 3.1 0a1.55 1.55 0 1 0 -3.1 0M754.8 428.1a1.55 1.55 0 1 0 3.1 0a1.55 1.55 0 1 0 -3.1 0M784.5 425.4a1.55 1.55 0 1 0 3.1 0a1.55 1.55 0 1 0 -3.1 0M751.4 405.0a1.55 1.55 0 1 0 3.1 0a1.55 1.55 0 1 0 -3.1 0M756.5 423.3a1.55 1.55 0 1 0 3.1 0a1.55 1.55 0 1 0 -3.1 0M789.5 423.4a1.55 1.55 0 1 0 3.1 0a1.55 1.55 0 1 0 -3.1 0M784.2 420.1a1.55 1.55 0 1 0 3.1 0a1.55 1.55 0 1 0 -3.1 0M771.7 420.0a1.55 1.55 0 1 0 3.1 0a1.55 1.55 0 1 0 -3.1 0M761.0 401.6a1.55 1.55 0 1 0 3.1 0a1.55 1.55 0 1 0 -3.1 0M787.8 424.0a1.55 1.55 0 1 0 3.1 0a1.55 1.55 0 1 0 -3.1 0M822.6 411.3a1.55 1.55 0 1 0 3.1 0a1.55 1.55 0 1 0 -3.1 0M804.1 419.4a1.55 1.55 0 1 0 3.1 0a1.55 1.55 0 1 0 -3.1 0M803.3 416.1a1.55 1.55 0 1 0 3.1 0a1.55 1.55 0 1 0 -3.1 0M822.7 407.6a1.55 1.55 0 1 0 3.1 0a1.55 1.55 0 1 0 -3.1 0M825.5 418.9a1.55 1.55 0 1 0 3.1 0a1.55 1.55 0 1 0 -3.1 0M808.0 406.6a1.55 1.55 0 1 0 3.1 0a1.55 1.55 0 1 0 -3.1 0M838.1 422.6a1.55 1.55 0 1 0 3.1 0a1.55 1.55 0 1 0 -3.1 0M811.6 421.0a1.55 1.55 0 1 0 3.1 0a1.55 1.55 0 1 0 -3.1 0M838.1 428.7a1.55 1.55 0 1 0 3.1 0a1.55 1.55 0 1 0 -3.1 0M834.3 406.5a1.55 1.55 0 1 0 3.1 0a1.55 1.55 0 1 0 -3.1 0M807.8 409.1a1.55 1.55 0 1 0 3.1 0a1.55 1.55 0 1 0 -3.1 0M809.6 410.3a1.55 1.55 0 1 0 3.1 0a1.55 1.55 0 1 0 -3.1 0M761.7 431.8a1.55 1.55 0 1 0 3.1 0a1.55 1.55 0 1 0 -3.1 0M748.7 453.6a1.55 1.55 0 1 0 3.1 0a1.55 1.55 0 1 0 -3.1 0M784.4 446.3a1.55 1.55 0 1 0 3.1 0a1.55 1.55 0 1 0 -3.1 0M755.4 435.6a1.55 1.55 0 1 0 3.1 0a1.55 1.55 0 1 0 -3.1 0M756.1 429.9a1.55 1.55 0 1 0 3.1 0a1.55 1.55 0 1 0 -3.1 0M758.0 433.3a1.55 1.55 0 1 0 3.1 0a1.55 1.55 0 1 0 -3.1 0M767.6 431.0a1.55 1.55 0 1 0 3.1 0a1.55 1.55 0 1 0 -3.1 0M759.0 431.4a1.55 1.55 0 1 0 3.1 0a1.55 1.55 0 1 0 -3.1 0M759.3 445.4a1.55 1.55 0 1 0 3.1 0a1.55 1.55 0 1 0 -3.1 0M774.8 442.3a1.55 1.55 0 1 0 3.1 0a1.55 1.55 0 1 0 -3.1 0M776.6 438.1a1.55 1.55 0 1 0 3.1 0a1.55 1.55 0 1 0 -3.1 0M757.6 458.4a1.55 1.55 0 1 0 3.1 0a1.55 1.55 0 1 0 -3.1 0M802.5 432.8a1.55 1.55 0 1 0 3.1 0a1.55 1.55 0 1 0 -3.1 0M825.4 438.2a1.55 1.55 0 1 0 3.1 0a1.55 1.55 0 1 0 -3.1 0M830.1 451.5a1.55 1.55 0 1 0 3.1 0a1.55 1.55 0 1 0 -3.1 0M826.6 456.6a1.55 1.55 0 1 0 3.1 0a1.55 1.55 0 1 0 -3.1 0M823.5 449.1a1.55 1.55 0 1 0 3.1 0a1.55 1.55 0 1 0 -3.1 0M823.4 452.0a1.55 1.55 0 1 0 3.1 0a1.55 1.55 0 1 0 -3.1 0M808.8 438.9a1.55 1.55 0 1 0 3.1 0a1.55 1.55 0 1 0 -3.1 0M836.5 448.6a1.55 1.55 0 1 0 3.1 0a1.55 1.55 0 1 0 -3.1 0M775.2 465.4a1.55 1.55 0 1 0 3.1 0a1.55 1.55 0 1 0 -3.1 0M785.5 461.2a1.55 1.55 0 1 0 3.1 0a1.55 1.55 0 1 0 -3.1 0M758.6 478.3a1.55 1.55 0 1 0 3.1 0a1.55 1.55 0 1 0 -3.1 0M754.2 472.1a1.55 1.55 0 1 0 3.1 0a1.55 1.55 0 1 0 -3.1 0M789.6 465.8a1.55 1.55 0 1 0 3.1 0a1.55 1.55 0 1 0 -3.1 0M765.6 483.5a1.55 1.55 0 1 0 3.1 0a1.55 1.55 0 1 0 -3.1 0M784.7 461.7a1.55 1.55 0 1 0 3.1 0a1.55 1.55 0 1 0 -3.1 0M781.2 479.6a1.55 1.55 0 1 0 3.1 0a1.55 1.55 0 1 0 -3.1 0M763.4 471.0a1.55 1.55 0 1 0 3.1 0a1.55 1.55 0 1 0 -3.1 0M788.3 481.0a1.55 1.55 0 1 0 3.1 0a1.55 1.55 0 1 0 -3.1 0M764.8 486.4a1.55 1.55 0 1 0 3.1 0a1.55 1.55 0 1 0 -3.1 0M745.1 481.0a1.55 1.55 0 1 0 3.1 0a1.55 1.55 0 1 0 -3.1 0M783.2 468.2a1.55 1.55 0 1 0 3.1 0a1.55 1.55 0 1 0 -3.1 0M767.5 476.1a1.55 1.55 0 1 0 3.1 0a1.55 1.55 0 1 0 -3.1 0M757.5 465.6a1.55 1.55 0 1 0 3.1 0a1.55 1.55 0 1 0 -3.1 0M818.8 474.1a1.55 1.55 0 1 0 3.1 0a1.55 1.55 0 1 0 -3.1 0M822.6 471.5a1.55 1.55 0 1 0 3.1 0a1.55 1.55 0 1 0 -3.1 0M819.2 466.4a1.55 1.55 0 1 0 3.1 0a1.55 1.55 0 1 0 -3.1 0M798.5 466.0a1.55 1.55 0 1 0 3.1 0a1.55 1.55 0 1 0 -3.1 0M821.6 467.9a1.55 1.55 0 1 0 3.1 0a1.55 1.55 0 1 0 -3.1 0M811.0 485.7a1.55 1.55 0 1 0 3.1 0a1.55 1.55 0 1 0 -3.1 0M835.7 463.8a1.55 1.55 0 1 0 3.1 0a1.55 1.55 0 1 0 -3.1 0M838.2 474.6a1.55 1.55 0 1 0 3.1 0a1.55 1.55 0 1 0 -3.1 0M758.2 496.9a1.55 1.55 0 1 0 3.1 0a1.55 1.55 0 1 0 -3.1 0M757.0 511.6a1.55 1.55 0 1 0 3.1 0a1.55 1.55 0 1 0 -3.1 0M760.7 509.0a1.55 1.55 0 1 0 3.1 0a1.55 1.55 0 1 0 -3.1 0M790.4 510.8a1.55 1.55 0 1 0 3.1 0a1.55 1.55 0 1 0 -3.1 0M765.0 503.4a1.55 1.55 0 1 0 3.1 0a1.55 1.55 0 1 0 -3.1 0M777.6 489.1a1.55 1.55 0 1 0 3.1 0a1.55 1.55 0 1 0 -3.1 0M774.0 492.3a1.55 1.55 0 1 0 3.1 0a1.55 1.55 0 1 0 -3.1 0M751.2 498.2a1.55 1.55 0 1 0 3.1 0a1.55 1.55 0 1 0 -3.1 0M753.1 492.0a1.55 1.55 0 1 0 3.1 0a1.55 1.55 0 1 0 -3.1 0M773.1 513.7a1.55 1.55 0 1 0 3.1 0a1.55 1.55 0 1 0 -3.1 0M785.1 502.2a1.55 1.55 0 1 0 3.1 0a1.55 1.55 0 1 0 -3.1 0M767.9 515.3a1.55 1.55 0 1 0 3.1 0a1.55 1.55 0 1 0 -3.1 0M787.8 502.5a1.55 1.55 0 1 0 3.1 0a1.55 1.55 0 1 0 -3.1 0M785.8 515.5a1.55 1.55 0 1 0 3.1 0a1.55 1.55 0 1 0 -3.1 0M777.1 506.6a1.55 1.55 0 1 0 3.1 0a1.55 1.55 0 1 0 -3.1 0M802.2 497.8a1.55 1.55 0 1 0 3.1 0a1.55 1.55 0 1 0 -3.1 0M799.6 517.1a1.55 1.55 0 1 0 3.1 0a1.55 1.55 0 1 0 -3.1 0M800.6 509.0a1.55 1.55 0 1 0 3.1 0a1.55 1.55 0 1 0 -3.1 0M799.9 500.1a1.55 1.55 0 1 0 3.1 0a1.55 1.55 0 1 0 -3.1 0M833.7 493.2a1.55 1.55 0 1 0 3.1 0a1.55 1.55 0 1 0 -3.1 0M814.4 494.5a1.55 1.55 0 1 0 3.1 0a1.55 1.55 0 1 0 -3.1 0M829.5 499.0a1.55 1.55 0 1 0 3.1 0a1.55 1.55 0 1 0 -3.1 0M830.0 506.5a1.55 1.55 0 1 0 3.1 0a1.55 1.55 0 1 0 -3.1 0" fill="#45b07a" fill-opacity="0.6" filter="url(#bl)"/><path d="M187.8 509.7 L200.0 506.1 L212.3 502.6 L224.5 499.1 L236.7 495.6 L248.9 492.2 L261.1 488.9 L273.3 485.6 L285.5 482.4 L297.8 479.2 L310.0 476.0 L322.2 473.0 L334.4 469.9 L346.6 466.9 L358.8 464.0 L371.1 461.2 L383.3 458.3 L395.5 455.6 L407.7 452.9 L419.9 450.2 L432.1 447.6 L444.3 445.0 L456.6 442.5 L468.8 440.1 L481.0 437.7 L493.2 435.4 L505.4 433.1 L517.6 430.8 L529.8 428.6 L542.1 426.5 L554.3 424.4 L566.5 422.4 L578.7 420.4 L590.9 418.5 L603.1 416.6 L615.3 414.8 L627.6 413.1 L639.8 411.4 L652.0 409.7 L664.2 408.1 L676.4 406.5 L688.6 405.0 L700.8 403.6 L713.1 402.2 L725.3 400.9 L737.5 399.6 L749.7 398.3 L761.9 397.2 L774.1 396.0 L786.4 394.9 L798.6 393.9 L810.8 392.9 L823.0 392.0 L835.2 391.2 L847.4 390.3 L859.6 389.6 L871.9 388.9 L884.1 388.2 L896.3 387.6 L908.5 387.1 L920.7 386.6 L932.9 386.1 L945.1 385.7 L957.4 385.4 L969.6 385.1 L981.8 384.9 L994.0 384.7 L1006.2 384.6 L1018.4 384.5 L1030.6 384.5 L1042.9 384.5 L1055.1 384.6 L1067.3 384.7 L1079.5 384.9 L1091.7 385.2 L1103.9 385.4 L1116.1 385.8 L1128.4 386.2 L1140.6 386.6 L1152.8 387.2" stroke="#9799a7" stroke-width="4.2" fill="none" stroke-linecap="butt"/><path d="M138.2 513.4 L151.7 510.3 L165.3 507.2 L178.8 504.1 L192.4 501.1 L205.9 498.1 L219.5 495.1 L233.0 492.1 L246.5 489.2 L260.1 486.3 L273.6 483.5 L287.2 480.6 L300.7 477.8 L314.3 475.0 L327.8 472.3 L341.3 469.6 L354.9 466.9 L368.4 464.2 L382.0 461.6 L395.5 459.0 L409.1 456.4 L422.6 453.8 L436.1 451.3 L449.7 448.8 L463.2 446.3 L476.8 443.9 L490.3 441.5 L503.9 439.1 L517.4 436.7 L530.9 434.4 L544.5 432.1 L558.0 429.8 L571.6 427.6 L585.1 425.4 L598.7 423.2 L612.2 421.0 L625.7 418.9 L639.3 416.8 L652.8 414.7 L666.4 412.7 L679.9 410.6 L693.5 408.7 L707.0 406.7 L720.5 404.8 L734.1 402.9 L747.6 401.0 L761.2 399.1 L774.7 397.3 L788.3 395.5 L801.8 393.7 L815.3 392.0 L828.9 390.3 L842.4 388.6 L856.0 387.0 L869.5 385.3 L883.1 383.7 L896.6 382.2 L910.1 380.6 L923.7 379.1 L937.2 377.6 L950.8 376.2 L964.3 374.8 L977.9 373.4 L991.4 372.0 L1004.9 370.6 L1018.5 369.3 L1032.0 368.0 L1045.6 366.8 L1059.1 365.6 L1072.7 364.4 L1086.2 363.2 L1099.7 362.0 L1113.3 360.9 L1126.8 359.8 L1140.4 358.8 L1153.9 357.7 L1167.5 356.7 L1181.0 355.7 L1194.5 354.8 L1208.1 353.9" stroke="#79d192" stroke-width="4.2" fill="none" stroke-linecap="butt"/><rect x="86.9" y="46.0" width="1173.4" height="647.7" fill="none" stroke="#1a1a1a" stroke-width="1.6"/><path d="M133.3 693.7v5.5M322.0 693.7v5.5M510.7 693.7v5.5M699.4 693.7v5.5M888.1 693.7v5.5M1076.8 693.7v5.5M86.9 665.3h-5.5M86.9 547.2h-5.5M86.9 429.1h-5.5M86.9 311.1h-5.5M86.9 193.0h-5.5M86.9 74.9h-5.5" stroke="#1a1a1a" stroke-width="1.6" fill="none"/><text x="133.3" y="719" font-size="17.3" text-anchor="middle">0</text><text x="322.0" y="719" font-size="17.3" text-anchor="middle">10</text><text x="510.7" y="719" font-size="17.3" text-anchor="middle">20</text><text x="699.4" y="719" font-size="17.3" text-anchor="middle">30</text><text x="888.1" y="719" font-size="17.3" text-anchor="middle">40</text><text x="1076.8" y="719" font-size="17.3" text-anchor="middle">50</text><text x="75.4" y="671.6" font-size="17.3" text-anchor="end">0</text><text x="74" y="553.1" font-size="17.3" text-anchor="end">100</text><text x="74" y="435.0" font-size="17.3" text-anchor="end">200</text><text x="74" y="317.0" font-size="17.3" text-anchor="end">300</text><text x="74" y="198.9" font-size="17.3" text-anchor="end">400</text><text x="74" y="80.8" font-size="17.3" text-anchor="end">500</text><text x="673.6" y="743.5" font-size="19.5" text-anchor="middle">Speed (km/h)</text><text transform="translate(31.5 371.5) rotate(-90)" x="0" y="0" font-size="19.5" text-anchor="middle">Power (W)</text><text x="673.9" y="35.8" font-size="23.2" text-anchor="middle">Power vs Speed Relationship</text><rect x="95.7" y="55.3" width="258" height="105.9" rx="3" fill="#fff" fill-opacity="0.8" stroke="#cccccc" stroke-width="1.1"/><circle cx="121.6" cy="71.1" r="1.6" fill="#6b6b6b" fill-opacity="0.6"/><circle cx="121.6" cy="95.3" r="1.6" fill="#5fc48a" fill-opacity="0.55"/><path d="M101.8 120H140.9" stroke="#9799a7" stroke-width="4"/><path d="M101.8 144.5H140.9" stroke="#79d192" stroke-width="4"/><text x="153.5" y="74.6" font-size="17.9">Aeroad CF SLX 8</text><text x="153.5" y="100.0" font-size="17.9">Specialized Tarmac SL5</text><text x="153.5" y="124.9" font-size="17.9">Aeroad trend</text><text x="153.5" y="149.2" font-size="17.9">Tarmac trend</text></svg></body></html>
